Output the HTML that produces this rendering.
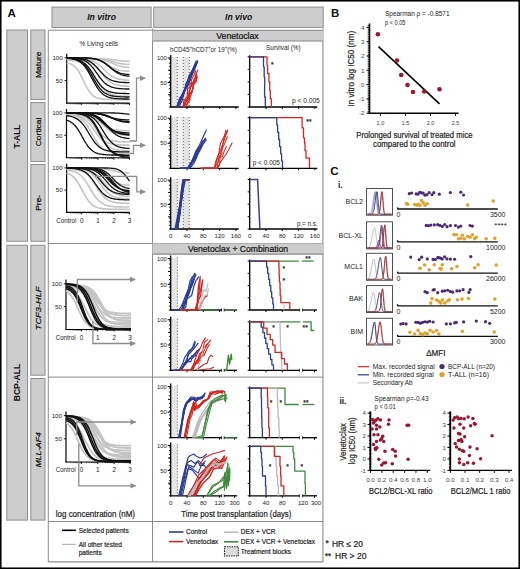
<!DOCTYPE html>
<html><head><meta charset="utf-8"><style>
html,body{margin:0;padding:0;background:#fff;}
svg{display:block;font-family:"Liberation Sans", sans-serif;}
</style></head><body>
<svg width="520" height="569" viewBox="0 0 520 569" font-family='"Liberation Sans", sans-serif'>
<rect x="0.00" y="0.00" width="520.00" height="569.00" fill="#fff" stroke="none" stroke-width="1" />
<rect x="52.00" y="7.10" width="99.10" height="20.40" fill="#cdcdcd" stroke="#8e8e8e" stroke-width="1" />
<rect x="153.70" y="7.10" width="169.50" height="20.30" fill="#cdcdcd" stroke="#8e8e8e" stroke-width="1" />
<text x="87.20" y="19.80" font-size="9" font-weight="bold" font-style="italic" fill="#111" textLength="28.80" lengthAdjust="spacingAndGlyphs" >In vitro</text>
<text x="225.00" y="20.20" font-size="9" font-weight="bold" font-style="italic" fill="#111" textLength="27.30" lengthAdjust="spacingAndGlyphs" >In vivo</text>
<text x="7.60" y="17.20" font-size="11.5" font-weight="bold" fill="#111" >A</text>
<text x="331.00" y="17.20" font-size="11.5" font-weight="bold" fill="#111" >B</text>
<text x="330.20" y="175.40" font-size="11.5" font-weight="bold" fill="#111" >C</text>
<rect x="6.80" y="30.00" width="20.70" height="211.30" fill="#cdcdcd" stroke="#8e8e8e" stroke-width="1" />
<rect x="6.80" y="245.30" width="20.70" height="274.80" fill="#cdcdcd" stroke="#8e8e8e" stroke-width="1" />
<rect x="30.80" y="30.00" width="14.20" height="69.40" fill="#cdcdcd" stroke="#8e8e8e" stroke-width="1" />
<rect x="30.80" y="102.60" width="14.20" height="58.90" fill="#cdcdcd" stroke="#8e8e8e" stroke-width="1" />
<rect x="30.80" y="164.50" width="14.20" height="76.80" fill="#cdcdcd" stroke="#8e8e8e" stroke-width="1" />
<rect x="30.80" y="245.30" width="14.20" height="129.90" fill="#cdcdcd" stroke="#8e8e8e" stroke-width="1" />
<rect x="30.80" y="378.50" width="14.20" height="141.60" fill="#cdcdcd" stroke="#8e8e8e" stroke-width="1" />
<text x="20.14" y="136.50" font-size="9" text-anchor="middle" font-weight="bold" fill="#111" textLength="24.00" lengthAdjust="spacingAndGlyphs" transform="rotate(-90 20.14 136.50)" >T-ALL</text>
<text x="20.14" y="382.50" font-size="9" text-anchor="middle" font-weight="bold" fill="#111" textLength="37.50" lengthAdjust="spacingAndGlyphs" transform="rotate(-90 20.14 382.50)" >BCP-ALL</text>
<text x="41.08" y="64.75" font-size="8" text-anchor="middle" fill="#111" textLength="26.50" lengthAdjust="spacingAndGlyphs" stroke="#111" stroke-width="0.22" transform="rotate(-90 41.08 64.75)" >Mature</text>
<text x="41.08" y="131.90" font-size="8" text-anchor="middle" fill="#111" textLength="28.70" lengthAdjust="spacingAndGlyphs" stroke="#111" stroke-width="0.22" transform="rotate(-90 41.08 131.90)" >Cortical</text>
<text x="41.08" y="202.80" font-size="8" text-anchor="middle" fill="#111" textLength="15.80" lengthAdjust="spacingAndGlyphs" stroke="#111" stroke-width="0.22" transform="rotate(-90 41.08 202.80)" >Pre-</text>
<text x="41.08" y="308.40" font-size="8" text-anchor="middle" font-style="italic" fill="#111" textLength="43.70" lengthAdjust="spacingAndGlyphs" stroke="#111" stroke-width="0.22" transform="rotate(-90 41.08 308.40)" >TCF3-HLF</text>
<text x="41.08" y="449.80" font-size="8" text-anchor="middle" font-style="italic" fill="#111" textLength="35.00" lengthAdjust="spacingAndGlyphs" stroke="#111" stroke-width="0.22" transform="rotate(-90 41.08 449.80)" >MLL-AF4</text>
<line x1="48.30" y1="30.00" x2="48.30" y2="562.00" stroke="#8c8c8c" stroke-width="1" />
<line x1="152.50" y1="28.50" x2="152.50" y2="562.00" stroke="#8c8c8c" stroke-width="1" />
<line x1="322.90" y1="28.50" x2="322.90" y2="562.00" stroke="#8c8c8c" stroke-width="1.1" />
<line x1="48.30" y1="30.20" x2="152.50" y2="30.20" stroke="#8c8c8c" stroke-width="1" />
<line x1="48.30" y1="243.50" x2="323.30" y2="243.50" stroke="#8c8c8c" stroke-width="1" />
<line x1="48.30" y1="377.10" x2="323.30" y2="377.10" stroke="#8c8c8c" stroke-width="1" />
<line x1="48.30" y1="521.50" x2="323.30" y2="521.50" stroke="#8c8c8c" stroke-width="1.2" />
<line x1="48.30" y1="561.80" x2="323.30" y2="561.80" stroke="#8c8c8c" stroke-width="1.2" />
<rect x="152.50" y="30.00" width="170.80" height="11.20" fill="#cdcdcd" stroke="none" stroke-width="1" />
<line x1="152.50" y1="30.30" x2="323.30" y2="30.30" stroke="#8c8c8c" stroke-width="1" />
<line x1="152.50" y1="41.00" x2="323.30" y2="41.00" stroke="#8c8c8c" stroke-width="1.2" />
<text x="216.30" y="38.50" font-size="8.6" fill="#111" textLength="42.40" lengthAdjust="spacingAndGlyphs" stroke="#111" stroke-width="0.22" >Venetoclax</text>
<rect x="152.50" y="243.50" width="170.80" height="11.00" fill="#cdcdcd" stroke="none" stroke-width="1" />
<line x1="152.50" y1="254.20" x2="323.30" y2="254.20" stroke="#8c8c8c" stroke-width="1.3" />
<text x="188.00" y="251.70" font-size="8.6" fill="#111" textLength="100.00" lengthAdjust="spacingAndGlyphs" stroke="#111" stroke-width="0.22" >Venetoclax + Combination</text>
<text x="79.50" y="46.30" font-size="6.5" fill="#222" textLength="38.50" lengthAdjust="spacingAndGlyphs" >% Living cells</text>
<line x1="66.75" y1="53.80" x2="66.75" y2="103.70" stroke="#000" stroke-width="1.2" />
<line x1="66.15" y1="103.20" x2="129.50" y2="103.20" stroke="#000" stroke-width="1.2" />
<line x1="64.55" y1="57.75" x2="66.75" y2="57.75" stroke="#000" stroke-width="0.9" />
<text x="62.75" y="59.95" font-size="6.2" text-anchor="end" fill="#222" textLength="10.30" lengthAdjust="spacingAndGlyphs" >100</text>
<line x1="64.55" y1="80.47" x2="66.75" y2="80.47" stroke="#000" stroke-width="0.9" />
<text x="62.75" y="82.67" font-size="6.2" text-anchor="end" fill="#222" textLength="6.90" lengthAdjust="spacingAndGlyphs" >50</text>
<line x1="81.70" y1="103.20" x2="81.70" y2="105.20" stroke="#000" stroke-width="0.9" />
<line x1="97.90" y1="103.20" x2="97.90" y2="105.20" stroke="#000" stroke-width="0.9" />
<line x1="113.90" y1="103.20" x2="113.90" y2="105.20" stroke="#000" stroke-width="0.9" />
<line x1="129.50" y1="103.20" x2="129.50" y2="105.20" stroke="#000" stroke-width="0.9" />
<line x1="86.58" y1="103.20" x2="86.58" y2="104.40" stroke="#000" stroke-width="0.6" />
<line x1="89.43" y1="103.20" x2="89.43" y2="104.40" stroke="#000" stroke-width="0.6" />
<line x1="91.45" y1="103.20" x2="91.45" y2="104.40" stroke="#000" stroke-width="0.6" />
<line x1="93.02" y1="103.20" x2="93.02" y2="104.40" stroke="#000" stroke-width="0.6" />
<line x1="94.31" y1="103.20" x2="94.31" y2="104.40" stroke="#000" stroke-width="0.6" />
<line x1="95.39" y1="103.20" x2="95.39" y2="104.40" stroke="#000" stroke-width="0.6" />
<line x1="96.33" y1="103.20" x2="96.33" y2="104.40" stroke="#000" stroke-width="0.6" />
<line x1="97.16" y1="103.20" x2="97.16" y2="104.40" stroke="#000" stroke-width="0.6" />
<line x1="102.72" y1="103.20" x2="102.72" y2="104.40" stroke="#000" stroke-width="0.6" />
<line x1="105.53" y1="103.20" x2="105.53" y2="104.40" stroke="#000" stroke-width="0.6" />
<line x1="107.53" y1="103.20" x2="107.53" y2="104.40" stroke="#000" stroke-width="0.6" />
<line x1="109.08" y1="103.20" x2="109.08" y2="104.40" stroke="#000" stroke-width="0.6" />
<line x1="110.35" y1="103.20" x2="110.35" y2="104.40" stroke="#000" stroke-width="0.6" />
<line x1="111.42" y1="103.20" x2="111.42" y2="104.40" stroke="#000" stroke-width="0.6" />
<line x1="112.35" y1="103.20" x2="112.35" y2="104.40" stroke="#000" stroke-width="0.6" />
<line x1="113.17" y1="103.20" x2="113.17" y2="104.40" stroke="#000" stroke-width="0.6" />
<line x1="118.60" y1="103.20" x2="118.60" y2="104.40" stroke="#000" stroke-width="0.6" />
<line x1="121.34" y1="103.20" x2="121.34" y2="104.40" stroke="#000" stroke-width="0.6" />
<line x1="123.29" y1="103.20" x2="123.29" y2="104.40" stroke="#000" stroke-width="0.6" />
<line x1="124.80" y1="103.20" x2="124.80" y2="104.40" stroke="#000" stroke-width="0.6" />
<line x1="126.04" y1="103.20" x2="126.04" y2="104.40" stroke="#000" stroke-width="0.6" />
<line x1="127.08" y1="103.20" x2="127.08" y2="104.40" stroke="#000" stroke-width="0.6" />
<line x1="127.99" y1="103.20" x2="127.99" y2="104.40" stroke="#000" stroke-width="0.6" />
<line x1="128.79" y1="103.20" x2="128.79" y2="104.40" stroke="#000" stroke-width="0.6" />
<line x1="70.38" y1="103.20" x2="70.38" y2="104.40" stroke="#000" stroke-width="0.6" />
<line x1="73.23" y1="103.20" x2="73.23" y2="104.40" stroke="#000" stroke-width="0.6" />
<line x1="75.25" y1="103.20" x2="75.25" y2="104.40" stroke="#000" stroke-width="0.6" />
<line x1="76.82" y1="103.20" x2="76.82" y2="104.40" stroke="#000" stroke-width="0.6" />
<line x1="78.11" y1="103.20" x2="78.11" y2="104.40" stroke="#000" stroke-width="0.6" />
<line x1="79.19" y1="103.20" x2="79.19" y2="104.40" stroke="#000" stroke-width="0.6" />
<line x1="80.13" y1="103.20" x2="80.13" y2="104.40" stroke="#000" stroke-width="0.6" />
<line x1="80.96" y1="103.20" x2="80.96" y2="104.40" stroke="#000" stroke-width="0.6" />
<path d="M66.8,62.7 L67.8,63.0 L68.8,63.2 L69.9,63.6 L70.9,64.0 L72.0,64.5 L73.0,65.2 L74.1,66.0 L75.1,66.9 L76.2,68.0 L77.2,69.3 L78.3,70.8 L79.3,72.5 L80.3,74.3 L81.4,76.4 L82.4,78.5 L83.5,80.7 L84.5,82.8 L85.6,85.0 L86.6,87.0 L87.7,88.9 L88.7,90.5 L89.8,92.0 L90.8,93.3 L91.8,94.5 L92.9,95.4 L93.9,96.2 L95.0,96.8 L96.0,97.4 L97.1,97.8 L98.1,98.2 L99.2,98.4 L100.2,98.7 L101.3,98.8 L102.3,99.0 L103.4,99.1 L104.4,99.2 L105.4,99.3 L106.5,99.3 L107.5,99.4 L108.6,99.4 L109.6,99.5 L110.7,99.5 L111.7,99.5 L112.8,99.5 L113.8,99.5 L114.9,99.5 L115.9,99.5 L117.0,99.5 L118.0,99.5 L119.0,99.5 L120.1,99.6 L121.1,99.6 L122.2,99.6 L123.2,99.6 L124.3,99.6 L125.3,99.6 L126.4,99.6 L127.4,99.6 L128.5,99.6 L129.5,99.6" stroke="#c4c4c4" stroke-width="1.6" fill="none" stroke-linejoin="round" />
<path d="M66.8,58.7 L67.8,58.7 L68.8,58.7 L69.9,58.7 L70.9,58.7 L72.0,58.7 L73.0,58.7 L74.1,58.7 L75.1,58.7 L76.2,58.7 L77.2,58.7 L78.3,58.7 L79.3,58.7 L80.3,58.7 L81.4,58.7 L82.4,58.7 L83.5,58.7 L84.5,58.7 L85.6,58.7 L86.6,58.7 L87.7,58.7 L88.7,58.7 L89.8,58.7 L90.8,58.7 L91.8,58.7 L92.9,58.7 L93.9,58.7 L95.0,58.7 L96.0,58.7 L97.1,58.7 L98.1,58.7 L99.2,58.8 L100.2,58.8 L101.3,58.8 L102.3,58.9 L103.4,58.9 L104.4,59.0 L105.4,59.0 L106.5,59.1 L107.5,59.2 L108.6,59.3 L109.6,59.4 L110.7,59.5 L111.7,59.6 L112.8,59.7 L113.8,59.9 L114.9,60.0 L115.9,60.1 L117.0,60.3 L118.0,60.4 L119.0,60.5 L120.1,60.7 L121.1,60.8 L122.2,60.9 L123.2,60.9 L124.3,61.0 L125.3,61.1 L126.4,61.1 L127.4,61.2 L128.5,61.2 L129.5,61.2" stroke="#c4c4c4" stroke-width="1.6" fill="none" stroke-linejoin="round" />
<path d="M66.8,58.2 L67.8,58.2 L68.8,58.2 L69.9,58.2 L70.9,58.2 L72.0,58.2 L73.0,58.2 L74.1,58.2 L75.1,58.2 L76.2,58.2 L77.2,58.2 L78.3,58.2 L79.3,58.2 L80.3,58.2 L81.4,58.2 L82.4,58.2 L83.5,58.2 L84.5,58.2 L85.6,58.2 L86.6,58.2 L87.7,58.3 L88.7,58.3 L89.8,58.3 L90.8,58.3 L91.8,58.3 L92.9,58.3 L93.9,58.4 L95.0,58.4 L96.0,58.5 L97.1,58.5 L98.1,58.6 L99.2,58.7 L100.2,58.8 L101.3,58.9 L102.3,59.0 L103.4,59.2 L104.4,59.3 L105.4,59.6 L106.5,59.8 L107.5,60.1 L108.6,60.3 L109.6,60.6 L110.7,61.0 L111.7,61.3 L112.8,61.6 L113.8,62.0 L114.9,62.3 L115.9,62.6 L117.0,62.8 L118.0,63.1 L119.0,63.3 L120.1,63.5 L121.1,63.7 L122.2,63.8 L123.2,64.0 L124.3,64.1 L125.3,64.2 L126.4,64.2 L127.4,64.3 L128.5,64.3 L129.5,64.4" stroke="#c4c4c4" stroke-width="1.6" fill="none" stroke-linejoin="round" />
<path d="M66.8,59.1 L67.8,59.1 L68.8,59.1 L69.9,59.1 L70.9,59.1 L72.0,59.1 L73.0,59.1 L74.1,59.1 L75.1,59.1 L76.2,59.1 L77.2,59.1 L78.3,59.1 L79.3,59.1 L80.3,59.1 L81.4,59.1 L82.4,59.1 L83.5,59.1 L84.5,59.1 L85.6,59.1 L86.6,59.2 L87.7,59.2 L88.7,59.2 L89.8,59.2 L90.8,59.2 L91.8,59.2 L92.9,59.3 L93.9,59.3 L95.0,59.3 L96.0,59.4 L97.1,59.5 L98.1,59.5 L99.2,59.6 L100.2,59.7 L101.3,59.9 L102.3,60.0 L103.4,60.2 L104.4,60.4 L105.4,60.7 L106.5,61.0 L107.5,61.3 L108.6,61.6 L109.6,62.0 L110.7,62.4 L111.7,62.9 L112.8,63.3 L113.8,63.8 L114.9,64.2 L115.9,64.7 L117.0,65.1 L118.0,65.4 L119.0,65.8 L120.1,66.1 L121.1,66.3 L122.2,66.6 L123.2,66.8 L124.3,66.9 L125.3,67.1 L126.4,67.2 L127.4,67.3 L128.5,67.4 L129.5,67.4" stroke="#c4c4c4" stroke-width="1.6" fill="none" stroke-linejoin="round" />
<path d="M66.8,58.7 L67.8,58.7 L68.8,58.7 L69.9,58.7 L70.9,58.7 L72.0,58.7 L73.0,58.7 L74.1,58.8 L75.1,58.8 L76.2,58.8 L77.2,58.8 L78.3,58.9 L79.3,58.9 L80.3,59.0 L81.4,59.0 L82.4,59.1 L83.5,59.2 L84.5,59.3 L85.6,59.4 L86.6,59.5 L87.7,59.7 L88.7,59.9 L89.8,60.2 L90.8,60.5 L91.8,60.8 L92.9,61.2 L93.9,61.7 L95.0,62.2 L96.0,62.8 L97.1,63.5 L98.1,64.2 L99.2,65.1 L100.2,66.0 L101.3,66.9 L102.3,67.9 L103.4,68.9 L104.4,70.0 L105.4,71.0 L106.5,72.0 L107.5,73.0 L108.6,73.9 L109.6,74.7 L110.7,75.5 L111.7,76.2 L112.8,76.8 L113.8,77.3 L114.9,77.8 L115.9,78.2 L117.0,78.6 L118.0,78.9 L119.0,79.1 L120.1,79.4 L121.1,79.5 L122.2,79.7 L123.2,79.8 L124.3,79.9 L125.3,80.0 L126.4,80.1 L127.4,80.2 L128.5,80.2 L129.5,80.3" stroke="#c4c4c4" stroke-width="1.6" fill="none" stroke-linejoin="round" />
<path d="M66.8,59.2 L67.8,59.2 L68.8,59.2 L69.9,59.2 L70.9,59.2 L72.0,59.3 L73.0,59.3 L74.1,59.3 L75.1,59.4 L76.2,59.4 L77.2,59.5 L78.3,59.5 L79.3,59.6 L80.3,59.7 L81.4,59.9 L82.4,60.0 L83.5,60.2 L84.5,60.4 L85.6,60.7 L86.6,61.0 L87.7,61.3 L88.7,61.8 L89.8,62.2 L90.8,62.8 L91.8,63.5 L92.9,64.2 L93.9,65.0 L95.0,66.0 L96.0,67.0 L97.1,68.1 L98.1,69.3 L99.2,70.5 L100.2,71.8 L101.3,73.1 L102.3,74.4 L103.4,75.6 L104.4,76.8 L105.4,78.0 L106.5,79.0 L107.5,80.0 L108.6,80.9 L109.6,81.7 L110.7,82.4 L111.7,83.0 L112.8,83.5 L113.8,84.0 L114.9,84.4 L115.9,84.7 L117.0,85.0 L118.0,85.2 L119.0,85.4 L120.1,85.6 L121.1,85.7 L122.2,85.8 L123.2,85.9 L124.3,86.0 L125.3,86.1 L126.4,86.1 L127.4,86.2 L128.5,86.2 L129.5,86.2" stroke="#c4c4c4" stroke-width="1.6" fill="none" stroke-linejoin="round" />
<path d="M66.8,60.2 L67.8,60.2 L68.8,60.3 L69.9,60.3 L70.9,60.4 L72.0,60.5 L73.0,60.6 L74.1,60.7 L75.1,60.8 L76.2,61.0 L77.2,61.2 L78.3,61.4 L79.3,61.7 L80.3,62.0 L81.4,62.4 L82.4,62.9 L83.5,63.4 L84.5,64.0 L85.6,64.8 L86.6,65.6 L87.7,66.6 L88.7,67.7 L89.8,68.9 L90.8,70.2 L91.8,71.7 L92.9,73.2 L93.9,74.8 L95.0,76.5 L96.0,78.3 L97.1,80.0 L98.1,81.7 L99.2,83.3 L100.2,84.8 L101.3,86.3 L102.3,87.6 L103.4,88.8 L104.4,89.9 L105.4,90.8 L106.5,91.7 L107.5,92.4 L108.6,93.0 L109.6,93.6 L110.7,94.0 L111.7,94.4 L112.8,94.7 L113.8,95.0 L114.9,95.2 L115.9,95.4 L117.0,95.6 L118.0,95.7 L119.0,95.8 L120.1,95.9 L121.1,96.0 L122.2,96.1 L123.2,96.1 L124.3,96.2 L125.3,96.2 L126.4,96.2 L127.4,96.3 L128.5,96.3 L129.5,96.3" stroke="#c4c4c4" stroke-width="1.6" fill="none" stroke-linejoin="round" />
<path d="M66.8,58.2 L67.8,58.2 L68.8,58.2 L69.9,58.2 L70.9,58.2 L72.0,58.2 L73.0,58.2 L74.1,58.2 L75.1,58.2 L76.2,58.2 L77.2,58.2 L78.3,58.2 L79.3,58.2 L80.3,58.3 L81.4,58.3 L82.4,58.3 L83.5,58.3 L84.5,58.3 L85.6,58.4 L86.6,58.4 L87.7,58.4 L88.7,58.5 L89.8,58.5 L90.8,58.6 L91.8,58.7 L92.9,58.8 L93.9,59.0 L95.0,59.1 L96.0,59.3 L97.1,59.5 L98.1,59.8 L99.2,60.1 L100.2,60.5 L101.3,60.9 L102.3,61.4 L103.4,61.9 L104.4,62.5 L105.4,63.1 L106.5,63.8 L107.5,64.5 L108.6,65.2 L109.6,65.9 L110.7,66.5 L111.7,67.1 L112.8,67.7 L113.8,68.2 L114.9,68.7 L115.9,69.1 L117.0,69.5 L118.0,69.8 L119.0,70.1 L120.1,70.3 L121.1,70.5 L122.2,70.7 L123.2,70.8 L124.3,70.9 L125.3,71.0 L126.4,71.1 L127.4,71.1 L128.5,71.2 L129.5,71.2" stroke="#c4c4c4" stroke-width="1.6" fill="none" stroke-linejoin="round" />
<path d="M66.8,57.8 L67.8,57.8 L68.8,57.8 L69.9,57.8 L70.9,57.8 L72.0,57.8 L73.0,57.8 L74.1,57.8 L75.1,57.8 L76.2,57.8 L77.2,57.8 L78.3,57.8 L79.3,57.8 L80.3,57.8 L81.4,57.9 L82.4,57.9 L83.5,57.9 L84.5,57.9 L85.6,58.0 L86.6,58.0 L87.7,58.1 L88.7,58.2 L89.8,58.3 L90.8,58.4 L91.8,58.5 L92.9,58.6 L93.9,58.8 L95.0,59.0 L96.0,59.2 L97.1,59.5 L98.1,59.9 L99.2,60.2 L100.2,60.7 L101.3,61.1 L102.3,61.7 L103.4,62.3 L104.4,63.0 L105.4,63.7 L106.5,64.4 L107.5,65.2 L108.6,66.1 L109.6,66.9 L110.7,67.7 L111.7,68.5 L112.8,69.2 L113.8,69.9 L114.9,70.6 L115.9,71.2 L117.0,71.7 L118.0,72.2 L119.0,72.6 L120.1,73.0 L121.1,73.3 L122.2,73.6 L123.2,73.8 L124.3,74.0 L125.3,74.2 L126.4,74.3 L127.4,74.4 L128.5,74.5 L129.5,74.6" stroke="#111" stroke-width="1.3" fill="none" stroke-linejoin="round" />
<path d="M66.8,57.8 L67.8,57.8 L68.8,57.8 L69.9,57.8 L70.9,57.8 L72.0,57.8 L73.0,57.8 L74.1,57.8 L75.1,57.8 L76.2,57.8 L77.2,57.8 L78.3,57.8 L79.3,57.8 L80.3,57.8 L81.4,57.9 L82.4,57.9 L83.5,57.9 L84.5,57.9 L85.6,58.0 L86.6,58.0 L87.7,58.1 L88.7,58.1 L89.8,58.2 L90.8,58.3 L91.8,58.4 L92.9,58.6 L93.9,58.7 L95.0,58.9 L96.0,59.1 L97.1,59.4 L98.1,59.7 L99.2,60.1 L100.2,60.5 L101.3,61.0 L102.3,61.5 L103.4,62.1 L104.4,62.8 L105.4,63.6 L106.5,64.3 L107.5,65.2 L108.6,66.1 L109.6,67.0 L110.7,67.9 L111.7,68.8 L112.8,69.6 L113.8,70.5 L114.9,71.3 L115.9,72.0 L117.0,72.6 L118.0,73.2 L119.0,73.7 L120.1,74.2 L121.1,74.6 L122.2,75.0 L123.2,75.3 L124.3,75.5 L125.3,75.7 L126.4,75.9 L127.4,76.1 L128.5,76.2 L129.5,76.3" stroke="#111" stroke-width="1.3" fill="none" stroke-linejoin="round" />
<path d="M66.8,57.8 L67.8,57.8 L68.8,57.8 L69.9,57.9 L70.9,57.9 L72.0,57.9 L73.0,58.0 L74.1,58.0 L75.1,58.0 L76.2,58.1 L77.2,58.2 L78.3,58.3 L79.3,58.4 L80.3,58.5 L81.4,58.6 L82.4,58.8 L83.5,59.0 L84.5,59.3 L85.6,59.6 L86.6,59.9 L87.7,60.4 L88.7,60.8 L89.8,61.4 L90.8,62.0 L91.8,62.7 L92.9,63.5 L93.9,64.4 L95.0,65.4 L96.0,66.4 L97.1,67.5 L98.1,68.7 L99.2,69.9 L100.2,71.1 L101.3,72.2 L102.3,73.4 L103.4,74.5 L104.4,75.5 L105.4,76.4 L106.5,77.3 L107.5,78.0 L108.6,78.7 L109.6,79.3 L110.7,79.9 L111.7,80.3 L112.8,80.7 L113.8,81.0 L114.9,81.3 L115.9,81.5 L117.0,81.7 L118.0,81.9 L119.0,82.1 L120.1,82.2 L121.1,82.3 L122.2,82.3 L123.2,82.4 L124.3,82.5 L125.3,82.5 L126.4,82.6 L127.4,82.6 L128.5,82.6 L129.5,82.6" stroke="#111" stroke-width="1.3" fill="none" stroke-linejoin="round" />
<path d="M66.8,57.9 L67.8,57.9 L68.8,57.9 L69.9,58.0 L70.9,58.0 L72.0,58.1 L73.0,58.1 L74.1,58.2 L75.1,58.3 L76.2,58.4 L77.2,58.6 L78.3,58.8 L79.3,59.0 L80.3,59.2 L81.4,59.5 L82.4,59.8 L83.5,60.2 L84.5,60.7 L85.6,61.2 L86.6,61.9 L87.7,62.6 L88.7,63.4 L89.8,64.4 L90.8,65.4 L91.8,66.6 L92.9,67.8 L93.9,69.2 L95.0,70.6 L96.0,72.1 L97.1,73.5 L98.1,75.0 L99.2,76.5 L100.2,77.9 L101.3,79.2 L102.3,80.5 L103.4,81.6 L104.4,82.6 L105.4,83.6 L106.5,84.4 L107.5,85.1 L108.6,85.7 L109.6,86.2 L110.7,86.7 L111.7,87.1 L112.8,87.4 L113.8,87.7 L114.9,87.9 L115.9,88.1 L117.0,88.3 L118.0,88.4 L119.0,88.6 L120.1,88.6 L121.1,88.7 L122.2,88.8 L123.2,88.8 L124.3,88.9 L125.3,88.9 L126.4,89.0 L127.4,89.0 L128.5,89.0 L129.5,89.0" stroke="#111" stroke-width="1.3" fill="none" stroke-linejoin="round" />
<path d="M66.8,58.0 L67.8,58.1 L68.8,58.1 L69.9,58.2 L70.9,58.3 L72.0,58.4 L73.0,58.5 L74.1,58.7 L75.1,58.9 L76.2,59.1 L77.2,59.4 L78.3,59.7 L79.3,60.1 L80.3,60.5 L81.4,61.0 L82.4,61.7 L83.5,62.4 L84.5,63.2 L85.6,64.1 L86.6,65.2 L87.7,66.4 L88.7,67.7 L89.8,69.1 L90.8,70.6 L91.8,72.2 L92.9,73.9 L93.9,75.6 L95.0,77.3 L96.0,79.0 L97.1,80.6 L98.1,82.1 L99.2,83.6 L100.2,84.9 L101.3,86.1 L102.3,87.2 L103.4,88.1 L104.4,88.9 L105.4,89.7 L106.5,90.3 L107.5,90.8 L108.6,91.3 L109.6,91.7 L110.7,92.0 L111.7,92.3 L112.8,92.5 L113.8,92.7 L114.9,92.9 L115.9,93.0 L117.0,93.1 L118.0,93.2 L119.0,93.3 L120.1,93.3 L121.1,93.4 L122.2,93.4 L123.2,93.5 L124.3,93.5 L125.3,93.5 L126.4,93.6 L127.4,93.6 L128.5,93.6 L129.5,93.6" stroke="#111" stroke-width="1.3" fill="none" stroke-linejoin="round" />
<path d="M66.8,58.1 L67.8,58.1 L68.8,58.2 L69.9,58.3 L70.9,58.4 L72.0,58.6 L73.0,58.8 L74.1,59.0 L75.1,59.2 L76.2,59.5 L77.2,59.9 L78.3,60.3 L79.3,60.8 L80.3,61.3 L81.4,62.0 L82.4,62.8 L83.5,63.7 L84.5,64.7 L85.6,65.8 L86.6,67.1 L87.7,68.6 L88.7,70.1 L89.8,71.8 L90.8,73.5 L91.8,75.4 L92.9,77.2 L93.9,79.1 L95.0,80.9 L96.0,82.7 L97.1,84.4 L98.1,86.0 L99.2,87.4 L100.2,88.7 L101.3,89.9 L102.3,91.0 L103.4,91.9 L104.4,92.7 L105.4,93.4 L106.5,93.9 L107.5,94.5 L108.6,94.9 L109.6,95.2 L110.7,95.5 L111.7,95.8 L112.8,96.0 L113.8,96.2 L114.9,96.3 L115.9,96.5 L117.0,96.6 L118.0,96.7 L119.0,96.7 L120.1,96.8 L121.1,96.8 L122.2,96.9 L123.2,96.9 L124.3,96.9 L125.3,97.0 L126.4,97.0 L127.4,97.0 L128.5,97.0 L129.5,97.0" stroke="#111" stroke-width="1.3" fill="none" stroke-linejoin="round" />
<path d="M66.8,58.2 L67.8,58.3 L68.8,58.4 L69.9,58.5 L70.9,58.6 L72.0,58.8 L73.0,59.0 L74.1,59.3 L75.1,59.6 L76.2,59.9 L77.2,60.4 L78.3,60.9 L79.3,61.5 L80.3,62.2 L81.4,63.0 L82.4,63.9 L83.5,65.0 L84.5,66.2 L85.6,67.6 L86.6,69.1 L87.7,70.7 L88.7,72.4 L89.8,74.3 L90.8,76.2 L91.8,78.1 L92.9,80.1 L93.9,82.0 L95.0,83.9 L96.0,85.7 L97.1,87.4 L98.1,88.9 L99.2,90.3 L100.2,91.5 L101.3,92.6 L102.3,93.6 L103.4,94.5 L104.4,95.2 L105.4,95.8 L106.5,96.3 L107.5,96.8 L108.6,97.2 L109.6,97.5 L110.7,97.8 L111.7,98.0 L112.8,98.2 L113.8,98.3 L114.9,98.5 L115.9,98.6 L117.0,98.7 L118.0,98.7 L119.0,98.8 L120.1,98.9 L121.1,98.9 L122.2,98.9 L123.2,99.0 L124.3,99.0 L125.3,99.0 L126.4,99.0 L127.4,99.0 L128.5,99.1 L129.5,99.1" stroke="#111" stroke-width="1.3" fill="none" stroke-linejoin="round" />
<line x1="66.50" y1="109.00" x2="66.50" y2="158.25" stroke="#000" stroke-width="1.2" />
<line x1="65.90" y1="157.75" x2="129.50" y2="157.75" stroke="#000" stroke-width="1.2" />
<line x1="64.30" y1="112.90" x2="66.50" y2="112.90" stroke="#000" stroke-width="0.9" />
<text x="62.50" y="115.10" font-size="6.2" text-anchor="end" fill="#222" textLength="10.30" lengthAdjust="spacingAndGlyphs" >100</text>
<line x1="64.30" y1="135.32" x2="66.50" y2="135.32" stroke="#000" stroke-width="0.9" />
<text x="62.50" y="137.52" font-size="6.2" text-anchor="end" fill="#222" textLength="6.90" lengthAdjust="spacingAndGlyphs" >50</text>
<line x1="81.70" y1="157.75" x2="81.70" y2="159.75" stroke="#000" stroke-width="0.9" />
<line x1="97.90" y1="157.75" x2="97.90" y2="159.75" stroke="#000" stroke-width="0.9" />
<line x1="113.90" y1="157.75" x2="113.90" y2="159.75" stroke="#000" stroke-width="0.9" />
<line x1="129.50" y1="157.75" x2="129.50" y2="159.75" stroke="#000" stroke-width="0.9" />
<line x1="86.58" y1="157.75" x2="86.58" y2="158.95" stroke="#000" stroke-width="0.6" />
<line x1="89.43" y1="157.75" x2="89.43" y2="158.95" stroke="#000" stroke-width="0.6" />
<line x1="91.45" y1="157.75" x2="91.45" y2="158.95" stroke="#000" stroke-width="0.6" />
<line x1="93.02" y1="157.75" x2="93.02" y2="158.95" stroke="#000" stroke-width="0.6" />
<line x1="94.31" y1="157.75" x2="94.31" y2="158.95" stroke="#000" stroke-width="0.6" />
<line x1="95.39" y1="157.75" x2="95.39" y2="158.95" stroke="#000" stroke-width="0.6" />
<line x1="96.33" y1="157.75" x2="96.33" y2="158.95" stroke="#000" stroke-width="0.6" />
<line x1="97.16" y1="157.75" x2="97.16" y2="158.95" stroke="#000" stroke-width="0.6" />
<line x1="102.72" y1="157.75" x2="102.72" y2="158.95" stroke="#000" stroke-width="0.6" />
<line x1="105.53" y1="157.75" x2="105.53" y2="158.95" stroke="#000" stroke-width="0.6" />
<line x1="107.53" y1="157.75" x2="107.53" y2="158.95" stroke="#000" stroke-width="0.6" />
<line x1="109.08" y1="157.75" x2="109.08" y2="158.95" stroke="#000" stroke-width="0.6" />
<line x1="110.35" y1="157.75" x2="110.35" y2="158.95" stroke="#000" stroke-width="0.6" />
<line x1="111.42" y1="157.75" x2="111.42" y2="158.95" stroke="#000" stroke-width="0.6" />
<line x1="112.35" y1="157.75" x2="112.35" y2="158.95" stroke="#000" stroke-width="0.6" />
<line x1="113.17" y1="157.75" x2="113.17" y2="158.95" stroke="#000" stroke-width="0.6" />
<line x1="118.60" y1="157.75" x2="118.60" y2="158.95" stroke="#000" stroke-width="0.6" />
<line x1="121.34" y1="157.75" x2="121.34" y2="158.95" stroke="#000" stroke-width="0.6" />
<line x1="123.29" y1="157.75" x2="123.29" y2="158.95" stroke="#000" stroke-width="0.6" />
<line x1="124.80" y1="157.75" x2="124.80" y2="158.95" stroke="#000" stroke-width="0.6" />
<line x1="126.04" y1="157.75" x2="126.04" y2="158.95" stroke="#000" stroke-width="0.6" />
<line x1="127.08" y1="157.75" x2="127.08" y2="158.95" stroke="#000" stroke-width="0.6" />
<line x1="127.99" y1="157.75" x2="127.99" y2="158.95" stroke="#000" stroke-width="0.6" />
<line x1="128.79" y1="157.75" x2="128.79" y2="158.95" stroke="#000" stroke-width="0.6" />
<line x1="70.38" y1="157.75" x2="70.38" y2="158.95" stroke="#000" stroke-width="0.6" />
<line x1="73.23" y1="157.75" x2="73.23" y2="158.95" stroke="#000" stroke-width="0.6" />
<line x1="75.25" y1="157.75" x2="75.25" y2="158.95" stroke="#000" stroke-width="0.6" />
<line x1="76.82" y1="157.75" x2="76.82" y2="158.95" stroke="#000" stroke-width="0.6" />
<line x1="78.11" y1="157.75" x2="78.11" y2="158.95" stroke="#000" stroke-width="0.6" />
<line x1="79.19" y1="157.75" x2="79.19" y2="158.95" stroke="#000" stroke-width="0.6" />
<line x1="80.13" y1="157.75" x2="80.13" y2="158.95" stroke="#000" stroke-width="0.6" />
<line x1="80.96" y1="157.75" x2="80.96" y2="158.95" stroke="#000" stroke-width="0.6" />
<path d="M66.5,114.6 L67.5,114.7 L68.6,114.8 L69.7,114.9 L70.7,115.0 L71.8,115.2 L72.8,115.4 L73.8,115.6 L74.9,115.9 L76.0,116.2 L77.0,116.6 L78.0,117.1 L79.1,117.7 L80.2,118.3 L81.2,119.0 L82.2,119.9 L83.3,120.9 L84.3,122.0 L85.4,123.3 L86.5,124.7 L87.5,126.2 L88.5,127.8 L89.6,129.6 L90.7,131.4 L91.7,133.2 L92.8,135.1 L93.8,136.9 L94.8,138.7 L95.9,140.4 L97.0,142.0 L98.0,143.5 L99.0,144.8 L100.1,146.0 L101.2,147.1 L102.2,148.0 L103.2,148.8 L104.3,149.5 L105.3,150.1 L106.4,150.6 L107.5,151.0 L108.5,151.4 L109.5,151.7 L110.6,152.0 L111.7,152.2 L112.7,152.4 L113.8,152.5 L114.8,152.7 L115.8,152.8 L116.9,152.8 L118.0,152.9 L119.0,153.0 L120.0,153.0 L121.1,153.1 L122.2,153.1 L123.2,153.1 L124.2,153.2 L125.3,153.2 L126.3,153.2 L127.4,153.2 L128.4,153.2 L129.5,153.2" stroke="#c4c4c4" stroke-width="1.6" fill="none" stroke-linejoin="round" />
<path d="M66.5,113.9 L67.5,114.0 L68.6,114.0 L69.7,114.0 L70.7,114.1 L71.8,114.1 L72.8,114.2 L73.8,114.3 L74.9,114.4 L76.0,114.5 L77.0,114.7 L78.0,114.8 L79.1,115.0 L80.2,115.3 L81.2,115.6 L82.2,115.9 L83.3,116.4 L84.3,116.8 L85.4,117.4 L86.5,118.0 L87.5,118.8 L88.5,119.6 L89.6,120.5 L90.7,121.5 L91.7,122.7 L92.8,123.9 L93.8,125.1 L94.8,126.5 L95.9,127.8 L97.0,129.1 L98.0,130.5 L99.0,131.7 L100.1,133.0 L101.2,134.1 L102.2,135.1 L103.2,136.1 L104.3,136.9 L105.3,137.7 L106.4,138.3 L107.5,138.9 L108.5,139.4 L109.5,139.8 L110.6,140.2 L111.7,140.5 L112.7,140.8 L113.8,141.0 L114.8,141.2 L115.8,141.3 L116.9,141.4 L118.0,141.5 L119.0,141.6 L120.0,141.7 L121.1,141.8 L122.2,141.8 L123.2,141.9 L124.2,141.9 L125.3,141.9 L126.3,141.9 L127.4,142.0 L128.4,142.0 L129.5,142.0" stroke="#c4c4c4" stroke-width="1.6" fill="none" stroke-linejoin="round" />
<path d="M66.5,114.9 L67.5,114.9 L68.6,115.0 L69.7,115.1 L70.7,115.1 L71.8,115.2 L72.8,115.3 L73.8,115.5 L74.9,115.6 L76.0,115.8 L77.0,116.0 L78.0,116.3 L79.1,116.6 L80.2,117.0 L81.2,117.4 L82.2,117.9 L83.3,118.5 L84.3,119.2 L85.4,120.0 L86.5,120.9 L87.5,121.9 L88.5,123.0 L89.6,124.1 L90.7,125.4 L91.7,126.8 L92.8,128.2 L93.8,129.7 L94.8,131.1 L95.9,132.6 L97.0,133.9 L98.0,135.3 L99.0,136.5 L100.1,137.6 L101.2,138.7 L102.2,139.6 L103.2,140.4 L104.3,141.1 L105.3,141.8 L106.4,142.3 L107.5,142.8 L108.5,143.2 L109.5,143.5 L110.6,143.8 L111.7,144.0 L112.7,144.2 L113.8,144.4 L114.8,144.5 L115.8,144.6 L116.9,144.7 L118.0,144.8 L119.0,144.9 L120.0,144.9 L121.1,145.0 L122.2,145.0 L123.2,145.0 L124.2,145.1 L125.3,145.1 L126.3,145.1 L127.4,145.1 L128.4,145.1 L129.5,145.1" stroke="#c4c4c4" stroke-width="1.6" fill="none" stroke-linejoin="round" />
<path d="M66.5,113.4 L67.5,113.4 L68.6,113.4 L69.7,113.4 L70.7,113.4 L71.8,113.5 L72.8,113.5 L73.8,113.5 L74.9,113.5 L76.0,113.6 L77.0,113.6 L78.0,113.7 L79.1,113.7 L80.2,113.8 L81.2,113.9 L82.2,114.0 L83.3,114.1 L84.3,114.3 L85.4,114.5 L86.5,114.7 L87.5,115.0 L88.5,115.3 L89.6,115.6 L90.7,116.1 L91.7,116.5 L92.8,117.0 L93.8,117.6 L94.8,118.3 L95.9,119.0 L97.0,119.7 L98.0,120.5 L99.0,121.3 L100.1,122.2 L101.2,123.0 L102.2,123.8 L103.2,124.6 L104.3,125.3 L105.3,126.0 L106.4,126.7 L107.5,127.3 L108.5,127.8 L109.5,128.2 L110.6,128.6 L111.7,129.0 L112.7,129.3 L113.8,129.5 L114.8,129.7 L115.8,129.9 L116.9,130.1 L118.0,130.2 L119.0,130.3 L120.0,130.4 L121.1,130.5 L122.2,130.5 L123.2,130.6 L124.2,130.6 L125.3,130.7 L126.3,130.7 L127.4,130.7 L128.4,130.7 L129.5,130.8" stroke="#c4c4c4" stroke-width="1.6" fill="none" stroke-linejoin="round" />
<path d="M66.5,113.9 L67.5,113.9 L68.6,114.0 L69.7,114.0 L70.7,114.1 L71.8,114.1 L72.8,114.2 L73.8,114.3 L74.9,114.3 L76.0,114.5 L77.0,114.6 L78.0,114.8 L79.1,115.0 L80.2,115.2 L81.2,115.5 L82.2,115.8 L83.3,116.2 L84.3,116.7 L85.4,117.2 L86.5,117.9 L87.5,118.6 L88.5,119.5 L89.6,120.4 L90.7,121.5 L91.7,122.8 L92.8,124.1 L93.8,125.6 L94.8,127.2 L95.9,128.9 L97.0,130.6 L98.0,132.4 L99.0,134.2 L100.1,135.9 L101.2,137.6 L102.2,139.2 L103.2,140.7 L104.3,142.0 L105.3,143.3 L106.4,144.4 L107.5,145.4 L108.5,146.2 L109.5,147.0 L110.6,147.6 L111.7,148.2 L112.7,148.6 L113.8,149.0 L114.8,149.3 L115.8,149.6 L116.9,149.9 L118.0,150.1 L119.0,150.2 L120.0,150.4 L121.1,150.5 L122.2,150.6 L123.2,150.6 L124.2,150.7 L125.3,150.8 L126.3,150.8 L127.4,150.8 L128.4,150.9 L129.5,150.9" stroke="#c4c4c4" stroke-width="1.6" fill="none" stroke-linejoin="round" />
<path d="M66.5,114.3 L67.5,114.3 L68.6,114.3 L69.7,114.3 L70.7,114.3 L71.8,114.3 L72.8,114.3 L73.8,114.4 L74.9,114.4 L76.0,114.4 L77.0,114.4 L78.0,114.5 L79.1,114.5 L80.2,114.6 L81.2,114.6 L82.2,114.7 L83.3,114.8 L84.3,114.9 L85.4,115.1 L86.5,115.2 L87.5,115.4 L88.5,115.7 L89.6,115.9 L90.7,116.3 L91.7,116.6 L92.8,117.1 L93.8,117.6 L94.8,118.1 L95.9,118.8 L97.0,119.5 L98.0,120.3 L99.0,121.2 L100.1,122.1 L101.2,123.0 L102.2,124.0 L103.2,125.0 L104.3,126.0 L105.3,127.0 L106.4,127.9 L107.5,128.8 L108.5,129.7 L109.5,130.4 L110.6,131.1 L111.7,131.7 L112.7,132.2 L113.8,132.7 L114.8,133.1 L115.8,133.5 L116.9,133.8 L118.0,134.0 L119.0,134.2 L120.0,134.4 L121.1,134.6 L122.2,134.7 L123.2,134.8 L124.2,134.9 L125.3,135.0 L126.3,135.0 L127.4,135.1 L128.4,135.1 L129.5,135.2" stroke="#c4c4c4" stroke-width="1.6" fill="none" stroke-linejoin="round" />
<path d="M66.5,112.9 L67.5,112.9 L68.6,112.9 L69.7,112.9 L70.7,112.9 L71.8,112.9 L72.8,112.9 L73.8,112.9 L74.9,112.9 L76.0,112.9 L77.0,112.9 L78.0,112.9 L79.1,112.9 L80.2,112.9 L81.2,112.9 L82.2,112.9 L83.3,112.9 L84.3,112.9 L85.4,112.9 L86.5,112.9 L87.5,112.9 L88.5,112.9 L89.6,112.9 L90.7,112.9 L91.7,112.9 L92.8,112.9 L93.8,112.9 L94.8,112.9 L95.9,112.9 L97.0,112.9 L98.0,112.9 L99.0,112.9 L100.1,112.9 L101.2,112.9 L102.2,112.9 L103.2,112.9 L104.3,112.9 L105.3,112.9 L106.4,112.9 L107.5,112.9 L108.5,112.9 L109.5,112.9 L110.6,112.9 L111.7,113.0 L112.7,113.0 L113.8,113.0 L114.8,113.0 L115.8,113.1 L116.9,113.1 L118.0,113.2 L119.0,113.2 L120.0,113.3 L121.1,113.4 L122.2,113.5 L123.2,113.6 L124.2,113.7 L125.3,113.8 L126.3,113.9 L127.4,114.1 L128.4,114.2 L129.5,114.3" stroke="#111" stroke-width="1.3" fill="none" stroke-linejoin="round" />
<path d="M66.5,112.9 L67.5,112.9 L68.6,112.9 L69.7,112.9 L70.7,112.9 L71.8,112.9 L72.8,112.9 L73.8,112.9 L74.9,112.9 L76.0,112.9 L77.0,112.9 L78.0,112.9 L79.1,112.9 L80.2,112.9 L81.2,113.0 L82.2,113.0 L83.3,113.0 L84.3,113.0 L85.4,113.0 L86.5,113.0 L87.5,113.1 L88.5,113.1 L89.6,113.1 L90.7,113.2 L91.7,113.3 L92.8,113.3 L93.8,113.4 L94.8,113.5 L95.9,113.6 L97.0,113.7 L98.0,113.9 L99.0,114.1 L100.1,114.3 L101.2,114.5 L102.2,114.8 L103.2,115.0 L104.3,115.3 L105.3,115.6 L106.4,116.0 L107.5,116.3 L108.5,116.7 L109.5,117.0 L110.6,117.3 L111.7,117.6 L112.7,117.9 L113.8,118.2 L114.8,118.5 L115.8,118.7 L116.9,118.9 L118.0,119.1 L119.0,119.2 L120.0,119.4 L121.1,119.5 L122.2,119.6 L123.2,119.7 L124.2,119.7 L125.3,119.8 L126.3,119.8 L127.4,119.9 L128.4,119.9 L129.5,119.9" stroke="#111" stroke-width="1.3" fill="none" stroke-linejoin="round" />
<path d="M66.5,112.9 L67.5,112.9 L68.6,112.9 L69.7,112.9 L70.7,112.9 L71.8,112.9 L72.8,112.9 L73.8,112.9 L74.9,112.9 L76.0,112.9 L77.0,112.9 L78.0,112.9 L79.1,112.9 L80.2,112.9 L81.2,112.9 L82.2,113.0 L83.3,113.0 L84.3,113.0 L85.4,113.0 L86.5,113.0 L87.5,113.0 L88.5,113.1 L89.6,113.1 L90.7,113.2 L91.7,113.2 L92.8,113.3 L93.8,113.3 L94.8,113.4 L95.9,113.5 L97.0,113.7 L98.0,113.8 L99.0,114.0 L100.1,114.2 L101.2,114.4 L102.2,114.6 L103.2,114.9 L104.3,115.2 L105.3,115.6 L106.4,116.0 L107.5,116.4 L108.5,116.8 L109.5,117.2 L110.6,117.6 L111.7,118.1 L112.7,118.5 L113.8,118.9 L114.8,119.2 L115.8,119.6 L116.9,119.9 L118.0,120.2 L119.0,120.4 L120.0,120.6 L121.1,120.8 L122.2,121.0 L123.2,121.1 L124.2,121.2 L125.3,121.3 L126.3,121.4 L127.4,121.5 L128.4,121.6 L129.5,121.6" stroke="#111" stroke-width="1.3" fill="none" stroke-linejoin="round" />
<path d="M66.5,112.9 L67.5,112.9 L68.6,112.9 L69.7,112.9 L70.7,112.9 L71.8,112.9 L72.8,112.9 L73.8,112.9 L74.9,112.9 L76.0,112.9 L77.0,112.9 L78.0,112.9 L79.1,112.9 L80.2,112.9 L81.2,112.9 L82.2,112.9 L83.3,112.9 L84.3,112.9 L85.4,112.9 L86.5,113.0 L87.5,113.0 L88.5,113.0 L89.6,113.0 L90.7,113.0 L91.7,113.1 L92.8,113.1 L93.8,113.2 L94.8,113.2 L95.9,113.3 L97.0,113.4 L98.0,113.5 L99.0,113.6 L100.1,113.7 L101.2,113.9 L102.2,114.1 L103.2,114.4 L104.3,114.6 L105.3,115.0 L106.4,115.3 L107.5,115.7 L108.5,116.2 L109.5,116.6 L110.6,117.1 L111.7,117.7 L112.7,118.2 L113.8,118.7 L114.8,119.2 L115.8,119.6 L116.9,120.1 L118.0,120.5 L119.0,120.8 L120.0,121.1 L121.1,121.4 L122.2,121.6 L123.2,121.8 L124.2,122.0 L125.3,122.1 L126.3,122.2 L127.4,122.3 L128.4,122.4 L129.5,122.5" stroke="#111" stroke-width="1.3" fill="none" stroke-linejoin="round" />
<path d="M66.5,112.9 L67.5,112.9 L68.6,112.9 L69.7,112.9 L70.7,113.0 L71.8,113.0 L72.8,113.0 L73.8,113.0 L74.9,113.0 L76.0,113.0 L77.0,113.1 L78.0,113.1 L79.1,113.2 L80.2,113.2 L81.2,113.3 L82.2,113.4 L83.3,113.4 L84.3,113.6 L85.4,113.7 L86.5,113.8 L87.5,114.0 L88.5,114.3 L89.6,114.5 L90.7,114.8 L91.7,115.2 L92.8,115.6 L93.8,116.1 L94.8,116.6 L95.9,117.3 L97.0,117.9 L98.0,118.7 L99.0,119.5 L100.1,120.4 L101.2,121.3 L102.2,122.3 L103.2,123.2 L104.3,124.2 L105.3,125.1 L106.4,126.0 L107.5,126.9 L108.5,127.7 L109.5,128.4 L110.6,129.0 L111.7,129.6 L112.7,130.1 L113.8,130.6 L114.8,131.0 L115.8,131.3 L116.9,131.6 L118.0,131.8 L119.0,132.0 L120.0,132.2 L121.1,132.4 L122.2,132.5 L123.2,132.6 L124.2,132.7 L125.3,132.7 L126.3,132.8 L127.4,132.8 L128.4,132.9 L129.5,132.9" stroke="#111" stroke-width="1.3" fill="none" stroke-linejoin="round" />
<path d="M66.5,112.9 L67.5,112.9 L68.6,112.9 L69.7,112.9 L70.7,112.9 L71.8,113.0 L72.8,113.0 L73.8,113.0 L74.9,113.0 L76.0,113.0 L77.0,113.0 L78.0,113.1 L79.1,113.1 L80.2,113.1 L81.2,113.2 L82.2,113.2 L83.3,113.3 L84.3,113.4 L85.4,113.5 L86.5,113.6 L87.5,113.8 L88.5,113.9 L89.6,114.1 L90.7,114.4 L91.7,114.7 L92.8,115.0 L93.8,115.4 L94.8,115.8 L95.9,116.4 L97.0,116.9 L98.0,117.6 L99.0,118.4 L100.1,119.2 L101.2,120.0 L102.2,121.0 L103.2,122.0 L104.3,123.0 L105.3,124.0 L106.4,125.0 L107.5,126.0 L108.5,127.0 L109.5,127.9 L110.6,128.7 L111.7,129.5 L112.7,130.2 L113.8,130.8 L114.8,131.3 L115.8,131.8 L116.9,132.2 L118.0,132.6 L119.0,132.9 L120.0,133.1 L121.1,133.3 L122.2,133.5 L123.2,133.7 L124.2,133.8 L125.3,133.9 L126.3,134.0 L127.4,134.1 L128.4,134.1 L129.5,134.2" stroke="#111" stroke-width="1.3" fill="none" stroke-linejoin="round" />
<path d="M66.5,112.9 L67.5,112.9 L68.6,112.9 L69.7,112.9 L70.7,112.9 L71.8,112.9 L72.8,113.0 L73.8,113.0 L74.9,113.0 L76.0,113.0 L77.0,113.0 L78.0,113.0 L79.1,113.1 L80.2,113.1 L81.2,113.1 L82.2,113.2 L83.3,113.3 L84.3,113.3 L85.4,113.4 L86.5,113.5 L87.5,113.7 L88.5,113.8 L89.6,114.0 L90.7,114.2 L91.7,114.5 L92.8,114.7 L93.8,115.1 L94.8,115.5 L95.9,116.0 L97.0,116.5 L98.0,117.1 L99.0,117.8 L100.1,118.6 L101.2,119.5 L102.2,120.4 L103.2,121.4 L104.3,122.4 L105.3,123.5 L106.4,124.5 L107.5,125.6 L108.5,126.6 L109.5,127.6 L110.6,128.5 L111.7,129.4 L112.7,130.2 L113.8,130.9 L114.8,131.6 L115.8,132.1 L116.9,132.6 L118.0,133.0 L119.0,133.4 L120.0,133.7 L121.1,134.0 L122.2,134.2 L123.2,134.4 L124.2,134.5 L125.3,134.7 L126.3,134.8 L127.4,134.9 L128.4,135.0 L129.5,135.0" stroke="#111" stroke-width="1.3" fill="none" stroke-linejoin="round" />
<path d="M66.5,112.9 L67.5,112.9 L68.6,112.9 L69.7,112.9 L70.7,112.9 L71.8,112.9 L72.8,113.0 L73.8,113.0 L74.9,113.0 L76.0,113.0 L77.0,113.0 L78.0,113.0 L79.1,113.1 L80.2,113.1 L81.2,113.1 L82.2,113.2 L83.3,113.2 L84.3,113.3 L85.4,113.4 L86.5,113.5 L87.5,113.6 L88.5,113.8 L89.6,114.0 L90.7,114.2 L91.7,114.4 L92.8,114.7 L93.8,115.1 L94.8,115.5 L95.9,116.0 L97.0,116.5 L98.0,117.1 L99.0,117.9 L100.1,118.7 L101.2,119.6 L102.2,120.6 L103.2,121.6 L104.3,122.8 L105.3,124.0 L106.4,125.2 L107.5,126.4 L108.5,127.7 L109.5,128.9 L110.6,130.0 L111.7,131.1 L112.7,132.1 L113.8,133.0 L114.8,133.8 L115.8,134.6 L116.9,135.2 L118.0,135.8 L119.0,136.3 L120.0,136.7 L121.1,137.1 L122.2,137.4 L123.2,137.6 L124.2,137.8 L125.3,138.0 L126.3,138.2 L127.4,138.3 L128.4,138.4 L129.5,138.5" stroke="#111" stroke-width="1.3" fill="none" stroke-linejoin="round" />
<path d="M66.5,112.9 L67.5,113.0 L68.6,113.0 L69.7,113.0 L70.7,113.0 L71.8,113.0 L72.8,113.0 L73.8,113.1 L74.9,113.1 L76.0,113.2 L77.0,113.2 L78.0,113.3 L79.1,113.4 L80.2,113.5 L81.2,113.6 L82.2,113.7 L83.3,113.9 L84.3,114.1 L85.4,114.3 L86.5,114.6 L87.5,114.9 L88.5,115.3 L89.6,115.8 L90.7,116.3 L91.7,117.0 L92.8,117.7 L93.8,118.6 L94.8,119.5 L95.9,120.6 L97.0,121.9 L98.0,123.2 L99.0,124.7 L100.1,126.2 L101.2,127.9 L102.2,129.5 L103.2,131.2 L104.3,133.0 L105.3,134.6 L106.4,136.2 L107.5,137.7 L108.5,139.1 L109.5,140.4 L110.6,141.6 L111.7,142.6 L112.7,143.5 L113.8,144.3 L114.8,145.0 L115.8,145.6 L116.9,146.1 L118.0,146.6 L119.0,146.9 L120.0,147.2 L121.1,147.5 L122.2,147.7 L123.2,147.9 L124.2,148.0 L125.3,148.2 L126.3,148.3 L127.4,148.4 L128.4,148.4 L129.5,148.5" stroke="#111" stroke-width="1.3" fill="none" stroke-linejoin="round" />
<path d="M66.5,120.2 L67.5,120.5 L68.6,120.9 L69.7,121.4 L70.7,122.0 L71.8,122.7 L72.8,123.5 L73.8,124.4 L74.9,125.5 L76.0,126.7 L77.0,128.1 L78.0,129.6 L79.1,131.3 L80.2,133.0 L81.2,134.9 L82.2,136.8 L83.3,138.7 L84.3,140.6 L85.4,142.4 L86.5,144.0 L87.5,145.6 L88.5,147.0 L89.6,148.2 L90.7,149.3 L91.7,150.2 L92.8,151.1 L93.8,151.7 L94.8,152.3 L95.9,152.8 L97.0,153.2 L98.0,153.6 L99.0,153.8 L100.1,154.1 L101.2,154.2 L102.2,154.4 L103.2,154.5 L104.3,154.6 L105.3,154.7 L106.4,154.8 L107.5,154.8 L108.5,154.9 L109.5,154.9 L110.6,154.9 L111.7,155.0 L112.7,155.0 L113.8,155.0 L114.8,155.0 L115.8,155.0 L116.9,155.0 L118.0,155.0 L119.0,155.0 L120.0,155.0 L121.1,155.0 L122.2,155.0 L123.2,155.0 L124.2,155.1 L125.3,155.1 L126.3,155.1 L127.4,155.1 L128.4,155.1 L129.5,155.1" stroke="#111" stroke-width="1.3" fill="none" stroke-linejoin="round" />
<path d="M66.5,115.7 L67.5,115.9 L68.6,116.0 L69.7,116.2 L70.7,116.4 L71.8,116.7 L72.8,117.0 L73.8,117.3 L74.9,117.8 L76.0,118.3 L77.0,118.9 L78.0,119.6 L79.1,120.4 L80.2,121.3 L81.2,122.3 L82.2,123.5 L83.3,124.8 L84.3,126.2 L85.4,127.7 L86.5,129.3 L87.5,131.0 L88.5,132.8 L89.6,134.5 L90.7,136.3 L91.7,138.0 L92.8,139.6 L93.8,141.1 L94.8,142.5 L95.9,143.8 L97.0,144.9 L98.0,145.9 L99.0,146.8 L100.1,147.6 L101.2,148.3 L102.2,148.9 L103.2,149.4 L104.3,149.8 L105.3,150.1 L106.4,150.4 L107.5,150.7 L108.5,150.9 L109.5,151.1 L110.6,151.2 L111.7,151.3 L112.7,151.4 L113.8,151.5 L114.8,151.6 L115.8,151.6 L116.9,151.7 L118.0,151.7 L119.0,151.8 L120.0,151.8 L121.1,151.8 L122.2,151.8 L123.2,151.8 L124.2,151.9 L125.3,151.9 L126.3,151.9 L127.4,151.9 L128.4,151.9 L129.5,151.9" stroke="#111" stroke-width="1.3" fill="none" stroke-linejoin="round" />
<path d="M66.5,113.0 L67.5,113.0 L68.6,113.0 L69.7,113.0 L70.7,113.1 L71.8,113.1 L72.8,113.2 L73.8,113.2 L74.9,113.3 L76.0,113.4 L77.0,113.5 L78.0,113.6 L79.1,113.7 L80.2,113.9 L81.2,114.1 L82.2,114.3 L83.3,114.6 L84.3,115.0 L85.4,115.4 L86.5,115.8 L87.5,116.4 L88.5,117.1 L89.6,117.9 L90.7,118.8 L91.7,119.8 L92.8,121.0 L93.8,122.3 L94.8,123.8 L95.9,125.5 L97.0,127.3 L98.0,129.2 L99.0,131.2 L100.1,133.3 L101.2,135.4 L102.2,137.5 L103.2,139.6 L104.3,141.6 L105.3,143.4 L106.4,145.2 L107.5,146.8 L108.5,148.3 L109.5,149.6 L110.6,150.7 L111.7,151.7 L112.7,152.6 L113.8,153.3 L114.8,154.0 L115.8,154.5 L116.9,155.0 L118.0,155.4 L119.0,155.7 L120.0,156.0 L121.1,156.2 L122.2,156.4 L123.2,156.5 L124.2,156.7 L125.3,156.8 L126.3,156.9 L127.4,156.9 L128.4,157.0 L129.5,157.1" stroke="#111" stroke-width="1.3" fill="none" stroke-linejoin="round" />
<path d="M66.5,113.0 L67.5,113.0 L68.6,113.0 L69.7,113.1 L70.7,113.1 L71.8,113.2 L72.8,113.2 L73.8,113.3 L74.9,113.3 L76.0,113.4 L77.0,113.5 L78.0,113.7 L79.1,113.8 L80.2,114.0 L81.2,114.3 L82.2,114.5 L83.3,114.9 L84.3,115.3 L85.4,115.7 L86.5,116.3 L87.5,116.9 L88.5,117.7 L89.6,118.5 L90.7,119.6 L91.7,120.7 L92.8,122.0 L93.8,123.4 L94.8,125.0 L95.9,126.8 L97.0,128.6 L98.0,130.6 L99.0,132.6 L100.1,134.6 L101.2,136.7 L102.2,138.7 L103.2,140.6 L104.3,142.4 L105.3,144.1 L106.4,145.7 L107.5,147.1 L108.5,148.4 L109.5,149.5 L110.6,150.5 L111.7,151.3 L112.7,152.1 L113.8,152.7 L114.8,153.2 L115.8,153.7 L116.9,154.1 L118.0,154.4 L119.0,154.6 L120.0,154.9 L121.1,155.0 L122.2,155.2 L123.2,155.3 L124.2,155.4 L125.3,155.5 L126.3,155.6 L127.4,155.7 L128.4,155.7 L129.5,155.8" stroke="#111" stroke-width="1.3" fill="none" stroke-linejoin="round" />
<line x1="66.60" y1="163.80" x2="66.60" y2="212.90" stroke="#000" stroke-width="1.2" />
<line x1="66.00" y1="212.40" x2="129.50" y2="212.40" stroke="#000" stroke-width="1.2" />
<line x1="64.40" y1="167.90" x2="66.60" y2="167.90" stroke="#000" stroke-width="0.9" />
<text x="62.60" y="170.10" font-size="6.2" text-anchor="end" fill="#222" textLength="10.30" lengthAdjust="spacingAndGlyphs" >100</text>
<line x1="64.40" y1="190.15" x2="66.60" y2="190.15" stroke="#000" stroke-width="0.9" />
<text x="62.60" y="192.35" font-size="6.2" text-anchor="end" fill="#222" textLength="6.90" lengthAdjust="spacingAndGlyphs" >50</text>
<line x1="81.70" y1="212.40" x2="81.70" y2="214.40" stroke="#000" stroke-width="0.9" />
<line x1="97.90" y1="212.40" x2="97.90" y2="214.40" stroke="#000" stroke-width="0.9" />
<line x1="113.90" y1="212.40" x2="113.90" y2="214.40" stroke="#000" stroke-width="0.9" />
<line x1="129.50" y1="212.40" x2="129.50" y2="214.40" stroke="#000" stroke-width="0.9" />
<line x1="86.58" y1="212.40" x2="86.58" y2="213.60" stroke="#000" stroke-width="0.6" />
<line x1="89.43" y1="212.40" x2="89.43" y2="213.60" stroke="#000" stroke-width="0.6" />
<line x1="91.45" y1="212.40" x2="91.45" y2="213.60" stroke="#000" stroke-width="0.6" />
<line x1="93.02" y1="212.40" x2="93.02" y2="213.60" stroke="#000" stroke-width="0.6" />
<line x1="94.31" y1="212.40" x2="94.31" y2="213.60" stroke="#000" stroke-width="0.6" />
<line x1="95.39" y1="212.40" x2="95.39" y2="213.60" stroke="#000" stroke-width="0.6" />
<line x1="96.33" y1="212.40" x2="96.33" y2="213.60" stroke="#000" stroke-width="0.6" />
<line x1="97.16" y1="212.40" x2="97.16" y2="213.60" stroke="#000" stroke-width="0.6" />
<line x1="102.72" y1="212.40" x2="102.72" y2="213.60" stroke="#000" stroke-width="0.6" />
<line x1="105.53" y1="212.40" x2="105.53" y2="213.60" stroke="#000" stroke-width="0.6" />
<line x1="107.53" y1="212.40" x2="107.53" y2="213.60" stroke="#000" stroke-width="0.6" />
<line x1="109.08" y1="212.40" x2="109.08" y2="213.60" stroke="#000" stroke-width="0.6" />
<line x1="110.35" y1="212.40" x2="110.35" y2="213.60" stroke="#000" stroke-width="0.6" />
<line x1="111.42" y1="212.40" x2="111.42" y2="213.60" stroke="#000" stroke-width="0.6" />
<line x1="112.35" y1="212.40" x2="112.35" y2="213.60" stroke="#000" stroke-width="0.6" />
<line x1="113.17" y1="212.40" x2="113.17" y2="213.60" stroke="#000" stroke-width="0.6" />
<line x1="118.60" y1="212.40" x2="118.60" y2="213.60" stroke="#000" stroke-width="0.6" />
<line x1="121.34" y1="212.40" x2="121.34" y2="213.60" stroke="#000" stroke-width="0.6" />
<line x1="123.29" y1="212.40" x2="123.29" y2="213.60" stroke="#000" stroke-width="0.6" />
<line x1="124.80" y1="212.40" x2="124.80" y2="213.60" stroke="#000" stroke-width="0.6" />
<line x1="126.04" y1="212.40" x2="126.04" y2="213.60" stroke="#000" stroke-width="0.6" />
<line x1="127.08" y1="212.40" x2="127.08" y2="213.60" stroke="#000" stroke-width="0.6" />
<line x1="127.99" y1="212.40" x2="127.99" y2="213.60" stroke="#000" stroke-width="0.6" />
<line x1="128.79" y1="212.40" x2="128.79" y2="213.60" stroke="#000" stroke-width="0.6" />
<line x1="70.38" y1="212.40" x2="70.38" y2="213.60" stroke="#000" stroke-width="0.6" />
<line x1="73.23" y1="212.40" x2="73.23" y2="213.60" stroke="#000" stroke-width="0.6" />
<line x1="75.25" y1="212.40" x2="75.25" y2="213.60" stroke="#000" stroke-width="0.6" />
<line x1="76.82" y1="212.40" x2="76.82" y2="213.60" stroke="#000" stroke-width="0.6" />
<line x1="78.11" y1="212.40" x2="78.11" y2="213.60" stroke="#000" stroke-width="0.6" />
<line x1="79.19" y1="212.40" x2="79.19" y2="213.60" stroke="#000" stroke-width="0.6" />
<line x1="80.13" y1="212.40" x2="80.13" y2="213.60" stroke="#000" stroke-width="0.6" />
<line x1="80.96" y1="212.40" x2="80.96" y2="213.60" stroke="#000" stroke-width="0.6" />
<text x="56.30" y="222.70" font-size="6.3" fill="#222" textLength="20.00" lengthAdjust="spacingAndGlyphs" >Control</text>
<text x="81.70" y="222.70" font-size="6.3" text-anchor="middle" fill="#222" >0</text>
<text x="97.90" y="222.70" font-size="6.3" text-anchor="middle" fill="#222" >1</text>
<text x="113.90" y="222.70" font-size="6.3" text-anchor="middle" fill="#222" >2</text>
<text x="129.50" y="222.70" font-size="6.3" text-anchor="middle" fill="#222" >3</text>
<path d="M66.6,173.0 L67.6,173.4 L68.7,173.8 L69.7,174.3 L70.8,174.9 L71.8,175.6 L72.9,176.5 L73.9,177.4 L75.0,178.6 L76.0,179.9 L77.1,181.3 L78.1,182.9 L79.2,184.7 L80.2,186.5 L81.3,188.4 L82.3,190.4 L83.4,192.4 L84.4,194.3 L85.5,196.2 L86.5,197.9 L87.6,199.5 L88.6,200.9 L89.7,202.2 L90.7,203.4 L91.8,204.3 L92.8,205.2 L93.9,205.9 L94.9,206.5 L96.0,207.0 L97.0,207.4 L98.0,207.7 L99.1,208.0 L100.1,208.2 L101.2,208.4 L102.2,208.6 L103.3,208.7 L104.3,208.8 L105.4,208.9 L106.4,209.0 L107.5,209.0 L108.5,209.1 L109.6,209.1 L110.6,209.2 L111.7,209.2 L112.7,209.2 L113.8,209.2 L114.8,209.2 L115.9,209.2 L116.9,209.2 L118.0,209.3 L119.0,209.3 L120.1,209.3 L121.1,209.3 L122.2,209.3 L123.2,209.3 L124.3,209.3 L125.3,209.3 L126.4,209.3 L127.4,209.3 L128.5,209.3 L129.5,209.3" stroke="#c4c4c4" stroke-width="1.6" fill="none" stroke-linejoin="round" />
<path d="M66.6,170.2 L67.6,170.3 L68.7,170.4 L69.7,170.6 L70.8,170.8 L71.8,171.0 L72.9,171.3 L73.9,171.6 L75.0,172.0 L76.0,172.4 L77.1,172.9 L78.1,173.6 L79.2,174.3 L80.2,175.1 L81.3,176.0 L82.3,177.1 L83.4,178.3 L84.4,179.6 L85.5,181.1 L86.5,182.6 L87.6,184.3 L88.6,186.0 L89.7,187.8 L90.7,189.6 L91.8,191.3 L92.8,193.0 L93.9,194.7 L94.9,196.2 L96.0,197.6 L97.0,198.9 L98.0,200.0 L99.1,201.1 L100.1,202.0 L101.2,202.7 L102.2,203.4 L103.3,204.0 L104.3,204.5 L105.4,204.9 L106.4,205.3 L107.5,205.6 L108.5,205.8 L109.6,206.0 L110.6,206.2 L111.7,206.3 L112.7,206.5 L113.8,206.6 L114.8,206.7 L115.9,206.7 L116.9,206.8 L118.0,206.8 L119.0,206.9 L120.1,206.9 L121.1,206.9 L122.2,207.0 L123.2,207.0 L124.3,207.0 L125.3,207.0 L126.4,207.0 L127.4,207.0 L128.5,207.0 L129.5,207.0" stroke="#c4c4c4" stroke-width="1.6" fill="none" stroke-linejoin="round" />
<path d="M66.6,169.0 L67.6,169.0 L68.7,169.0 L69.7,169.1 L70.8,169.1 L71.8,169.2 L72.9,169.3 L73.9,169.4 L75.0,169.5 L76.0,169.7 L77.1,169.9 L78.1,170.1 L79.2,170.3 L80.2,170.7 L81.3,171.0 L82.3,171.5 L83.4,172.0 L84.4,172.6 L85.5,173.2 L86.5,174.0 L87.6,175.0 L88.6,176.0 L89.7,177.1 L90.7,178.4 L91.8,179.8 L92.8,181.2 L93.9,182.8 L94.9,184.4 L96.0,186.1 L97.0,187.7 L98.0,189.3 L99.1,190.9 L100.1,192.4 L101.2,193.8 L102.2,195.1 L103.3,196.2 L104.3,197.3 L105.4,198.2 L106.4,199.0 L107.5,199.7 L108.5,200.3 L109.6,200.8 L110.6,201.2 L111.7,201.6 L112.7,201.9 L113.8,202.2 L114.8,202.4 L115.9,202.6 L116.9,202.7 L118.0,202.9 L119.0,203.0 L120.1,203.1 L121.1,203.1 L122.2,203.2 L123.2,203.3 L124.3,203.3 L125.3,203.3 L126.4,203.4 L127.4,203.4 L128.5,203.4 L129.5,203.4" stroke="#c4c4c4" stroke-width="1.6" fill="none" stroke-linejoin="round" />
<path d="M66.6,168.4 L67.6,168.4 L68.7,168.4 L69.7,168.5 L70.8,168.5 L71.8,168.5 L72.9,168.6 L73.9,168.6 L75.0,168.7 L76.0,168.7 L77.1,168.8 L78.1,168.9 L79.2,169.0 L80.2,169.2 L81.3,169.3 L82.3,169.5 L83.4,169.8 L84.4,170.1 L85.5,170.4 L86.5,170.8 L87.6,171.2 L88.6,171.8 L89.7,172.4 L90.7,173.1 L91.8,174.0 L92.8,174.9 L93.9,175.9 L94.9,177.1 L96.0,178.3 L97.0,179.6 L98.0,181.0 L99.1,182.4 L100.1,183.9 L101.2,185.4 L102.2,186.8 L103.3,188.2 L104.3,189.5 L105.4,190.7 L106.4,191.8 L107.5,192.8 L108.5,193.7 L109.6,194.5 L110.6,195.2 L111.7,195.8 L112.7,196.3 L113.8,196.7 L114.8,197.1 L115.9,197.4 L116.9,197.7 L118.0,197.9 L119.0,198.1 L120.1,198.3 L121.1,198.4 L122.2,198.5 L123.2,198.6 L124.3,198.7 L125.3,198.7 L126.4,198.8 L127.4,198.8 L128.5,198.9 L129.5,198.9" stroke="#c4c4c4" stroke-width="1.6" fill="none" stroke-linejoin="round" />
<path d="M66.6,168.4 L67.6,168.4 L68.7,168.4 L69.7,168.4 L70.8,168.4 L71.8,168.4 L72.9,168.4 L73.9,168.4 L75.0,168.4 L76.0,168.4 L77.1,168.4 L78.1,168.4 L79.2,168.4 L80.2,168.5 L81.3,168.5 L82.3,168.5 L83.4,168.5 L84.4,168.6 L85.5,168.6 L86.5,168.7 L87.6,168.8 L88.6,168.8 L89.7,168.9 L90.7,169.1 L91.8,169.2 L92.8,169.4 L93.9,169.6 L94.9,169.8 L96.0,170.1 L97.0,170.4 L98.0,170.8 L99.1,171.2 L100.1,171.7 L101.2,172.2 L102.2,172.9 L103.3,173.5 L104.3,174.2 L105.4,175.0 L106.4,175.8 L107.5,176.6 L108.5,177.4 L109.6,178.3 L110.6,179.1 L111.7,179.8 L112.7,180.5 L113.8,181.2 L114.8,181.8 L115.9,182.4 L116.9,182.8 L118.0,183.3 L119.0,183.6 L120.1,184.0 L121.1,184.2 L122.2,184.5 L123.2,184.7 L124.3,184.8 L125.3,185.0 L126.4,185.1 L127.4,185.2 L128.5,185.3 L129.5,185.4" stroke="#c4c4c4" stroke-width="1.6" fill="none" stroke-linejoin="round" />
<path d="M66.6,168.3 L67.6,168.3 L68.7,168.3 L69.7,168.3 L70.8,168.3 L71.8,168.3 L72.9,168.3 L73.9,168.3 L75.0,168.3 L76.0,168.3 L77.1,168.3 L78.1,168.3 L79.2,168.3 L80.2,168.4 L81.3,168.4 L82.3,168.4 L83.4,168.4 L84.4,168.4 L85.5,168.4 L86.5,168.4 L87.6,168.4 L88.6,168.4 L89.7,168.4 L90.7,168.4 L91.8,168.4 L92.8,168.4 L93.9,168.4 L94.9,168.5 L96.0,168.5 L97.0,168.5 L98.0,168.5 L99.1,168.6 L100.1,168.6 L101.2,168.7 L102.2,168.8 L103.3,168.9 L104.3,169.0 L105.4,169.1 L106.4,169.2 L107.5,169.4 L108.5,169.6 L109.6,169.8 L110.6,170.0 L111.7,170.2 L112.7,170.5 L113.8,170.7 L114.8,171.0 L115.9,171.2 L116.9,171.5 L118.0,171.7 L119.0,171.9 L120.1,172.1 L121.1,172.3 L122.2,172.4 L123.2,172.6 L124.3,172.7 L125.3,172.8 L126.4,172.9 L127.4,172.9 L128.5,173.0 L129.5,173.0" stroke="#c4c4c4" stroke-width="1.6" fill="none" stroke-linejoin="round" />
<path d="M66.6,168.8 L67.6,168.8 L68.7,168.8 L69.7,168.8 L70.8,168.9 L71.8,168.9 L72.9,168.9 L73.9,168.9 L75.0,168.9 L76.0,169.0 L77.1,169.0 L78.1,169.0 L79.2,169.1 L80.2,169.2 L81.3,169.2 L82.3,169.3 L83.4,169.4 L84.4,169.6 L85.5,169.7 L86.5,169.9 L87.6,170.1 L88.6,170.4 L89.7,170.7 L90.7,171.1 L91.8,171.5 L92.8,172.0 L93.9,172.6 L94.9,173.3 L96.0,174.1 L97.0,174.9 L98.0,175.9 L99.1,176.9 L100.1,178.1 L101.2,179.3 L102.2,180.6 L103.3,181.9 L104.3,183.2 L105.4,184.6 L106.4,185.9 L107.5,187.1 L108.5,188.3 L109.6,189.4 L110.6,190.4 L111.7,191.3 L112.7,192.1 L113.8,192.8 L114.8,193.4 L115.9,193.9 L116.9,194.4 L118.0,194.8 L119.0,195.1 L120.1,195.4 L121.1,195.6 L122.2,195.8 L123.2,196.0 L124.3,196.1 L125.3,196.3 L126.4,196.4 L127.4,196.4 L128.5,196.5 L129.5,196.6" stroke="#c4c4c4" stroke-width="1.6" fill="none" stroke-linejoin="round" />
<path d="M66.6,167.9 L67.6,167.9 L68.7,167.9 L69.7,167.9 L70.8,167.9 L71.8,167.9 L72.9,167.9 L73.9,167.9 L75.0,167.9 L76.0,167.9 L77.1,167.9 L78.1,167.9 L79.2,167.9 L80.2,167.9 L81.3,167.9 L82.3,167.9 L83.4,167.9 L84.4,167.9 L85.5,167.9 L86.5,167.9 L87.6,167.9 L88.6,167.9 L89.7,167.9 L90.7,167.9 L91.8,167.9 L92.8,167.9 L93.9,167.9 L94.9,167.9 L96.0,167.9 L97.0,167.9 L98.0,167.9 L99.1,167.9 L100.1,167.9 L101.2,167.9 L102.2,167.9 L103.3,167.9 L104.3,168.0 L105.4,168.0 L106.4,168.0 L107.5,168.0 L108.5,168.1 L109.6,168.1 L110.6,168.2 L111.7,168.3 L112.7,168.4 L113.8,168.5 L114.8,168.7 L115.9,168.9 L116.9,169.2 L118.0,169.6 L119.0,170.0 L120.1,170.6 L121.1,171.3 L122.2,172.1 L123.2,173.1 L124.3,174.2 L125.3,175.4 L126.4,176.8 L127.4,178.2 L128.5,179.7 L129.5,181.1" stroke="#111" stroke-width="1.3" fill="none" stroke-linejoin="round" />
<path d="M66.6,167.9 L67.6,167.9 L68.7,167.9 L69.7,167.9 L70.8,167.9 L71.8,167.9 L72.9,167.9 L73.9,167.9 L75.0,168.0 L76.0,168.0 L77.1,168.0 L78.1,168.0 L79.2,168.0 L80.2,168.0 L81.3,168.1 L82.3,168.1 L83.4,168.2 L84.4,168.2 L85.5,168.3 L86.5,168.4 L87.6,168.5 L88.6,168.6 L89.7,168.7 L90.7,168.9 L91.8,169.0 L92.8,169.3 L93.9,169.5 L94.9,169.9 L96.0,170.2 L97.0,170.7 L98.0,171.2 L99.1,171.7 L100.1,172.4 L101.2,173.1 L102.2,173.9 L103.3,174.8 L104.3,175.8 L105.4,176.8 L106.4,177.8 L107.5,178.9 L108.5,180.0 L109.6,181.1 L110.6,182.2 L111.7,183.2 L112.7,184.2 L113.8,185.0 L114.8,185.8 L115.9,186.6 L116.9,187.2 L118.0,187.8 L119.0,188.3 L120.1,188.7 L121.1,189.1 L122.2,189.4 L123.2,189.7 L124.3,189.9 L125.3,190.1 L126.4,190.2 L127.4,190.4 L128.5,190.5 L129.5,190.6" stroke="#111" stroke-width="1.3" fill="none" stroke-linejoin="round" />
<path d="M66.6,167.9 L67.6,167.9 L68.7,167.9 L69.7,167.9 L70.8,167.9 L71.8,167.9 L72.9,167.9 L73.9,167.9 L75.0,167.9 L76.0,168.0 L77.1,168.0 L78.1,168.0 L79.2,168.0 L80.2,168.0 L81.3,168.0 L82.3,168.1 L83.4,168.1 L84.4,168.1 L85.5,168.2 L86.5,168.2 L87.6,168.3 L88.6,168.4 L89.7,168.5 L90.7,168.6 L91.8,168.8 L92.8,168.9 L93.9,169.1 L94.9,169.4 L96.0,169.7 L97.0,170.0 L98.0,170.4 L99.1,170.9 L100.1,171.4 L101.2,172.0 L102.2,172.7 L103.3,173.5 L104.3,174.3 L105.4,175.3 L106.4,176.3 L107.5,177.4 L108.5,178.5 L109.6,179.7 L110.6,180.8 L111.7,182.0 L112.7,183.1 L113.8,184.2 L114.8,185.2 L115.9,186.1 L116.9,187.0 L118.0,187.7 L119.0,188.4 L120.1,189.0 L121.1,189.5 L122.2,190.0 L123.2,190.3 L124.3,190.7 L125.3,190.9 L126.4,191.2 L127.4,191.4 L128.5,191.5 L129.5,191.7" stroke="#111" stroke-width="1.3" fill="none" stroke-linejoin="round" />
<path d="M66.6,167.9 L67.6,167.9 L68.7,167.9 L69.7,167.9 L70.8,167.9 L71.8,167.9 L72.9,167.9 L73.9,167.9 L75.0,167.9 L76.0,167.9 L77.1,167.9 L78.1,168.0 L79.2,168.0 L80.2,168.0 L81.3,168.0 L82.3,168.0 L83.4,168.0 L84.4,168.1 L85.5,168.1 L86.5,168.1 L87.6,168.2 L88.6,168.3 L89.7,168.3 L90.7,168.4 L91.8,168.5 L92.8,168.7 L93.9,168.8 L94.9,169.0 L96.0,169.2 L97.0,169.5 L98.0,169.8 L99.1,170.1 L100.1,170.5 L101.2,171.0 L102.2,171.6 L103.3,172.2 L104.3,172.9 L105.4,173.8 L106.4,174.7 L107.5,175.7 L108.5,176.7 L109.6,177.8 L110.6,179.0 L111.7,180.2 L112.7,181.4 L113.8,182.6 L114.8,183.8 L115.9,184.9 L116.9,185.9 L118.0,186.9 L119.0,187.7 L120.1,188.5 L121.1,189.2 L122.2,189.8 L123.2,190.3 L124.3,190.8 L125.3,191.2 L126.4,191.5 L127.4,191.8 L128.5,192.1 L129.5,192.3" stroke="#111" stroke-width="1.3" fill="none" stroke-linejoin="round" />
<path d="M66.6,167.9 L67.6,167.9 L68.7,167.9 L69.7,167.9 L70.8,167.9 L71.8,168.0 L72.9,168.0 L73.9,168.0 L75.0,168.0 L76.0,168.0 L77.1,168.0 L78.1,168.1 L79.2,168.1 L80.2,168.1 L81.3,168.2 L82.3,168.2 L83.4,168.3 L84.4,168.4 L85.5,168.5 L86.5,168.6 L87.6,168.8 L88.6,168.9 L89.7,169.2 L90.7,169.4 L91.8,169.7 L92.8,170.0 L93.9,170.5 L94.9,170.9 L96.0,171.5 L97.0,172.1 L98.0,172.8 L99.1,173.6 L100.1,174.5 L101.2,175.5 L102.2,176.6 L103.3,177.7 L104.3,178.9 L105.4,180.1 L106.4,181.3 L107.5,182.5 L108.5,183.7 L109.6,184.9 L110.6,185.9 L111.7,186.9 L112.7,187.8 L113.8,188.7 L114.8,189.4 L115.9,190.0 L116.9,190.6 L118.0,191.1 L119.0,191.5 L120.1,191.9 L121.1,192.2 L122.2,192.4 L123.2,192.6 L124.3,192.8 L125.3,193.0 L126.4,193.1 L127.4,193.2 L128.5,193.3 L129.5,193.4" stroke="#111" stroke-width="1.3" fill="none" stroke-linejoin="round" />
<path d="M66.6,168.1 L67.6,168.1 L68.7,168.1 L69.7,168.2 L70.8,168.3 L71.8,168.3 L72.9,168.4 L73.9,168.5 L75.0,168.7 L76.0,168.8 L77.1,169.0 L78.1,169.2 L79.2,169.5 L80.2,169.8 L81.3,170.1 L82.3,170.6 L83.4,171.1 L84.4,171.7 L85.5,172.4 L86.5,173.1 L87.6,174.0 L88.6,175.0 L89.7,176.1 L90.7,177.4 L91.8,178.7 L92.8,180.1 L93.9,181.5 L94.9,183.1 L96.0,184.6 L97.0,186.1 L98.0,187.6 L99.1,189.0 L100.1,190.3 L101.2,191.5 L102.2,192.7 L103.3,193.7 L104.3,194.6 L105.4,195.4 L106.4,196.1 L107.5,196.7 L108.5,197.2 L109.6,197.6 L110.6,198.0 L111.7,198.3 L112.7,198.6 L113.8,198.8 L114.8,199.0 L115.9,199.2 L116.9,199.3 L118.0,199.4 L119.0,199.5 L120.1,199.6 L121.1,199.6 L122.2,199.7 L123.2,199.7 L124.3,199.8 L125.3,199.8 L126.4,199.8 L127.4,199.8 L128.5,199.9 L129.5,199.9" stroke="#111" stroke-width="1.3" fill="none" stroke-linejoin="round" />
<path d="M66.6,168.0 L67.6,168.0 L68.7,168.0 L69.7,168.0 L70.8,168.0 L71.8,168.0 L72.9,168.1 L73.9,168.1 L75.0,168.1 L76.0,168.2 L77.1,168.2 L78.1,168.3 L79.2,168.4 L80.2,168.5 L81.3,168.6 L82.3,168.8 L83.4,168.9 L84.4,169.1 L85.5,169.4 L86.5,169.7 L87.6,170.0 L88.6,170.4 L89.7,170.9 L90.7,171.5 L91.8,172.1 L92.8,172.8 L93.9,173.6 L94.9,174.5 L96.0,175.5 L97.0,176.6 L98.0,177.8 L99.1,179.0 L100.1,180.2 L101.2,181.5 L102.2,182.8 L103.3,184.0 L104.3,185.2 L105.4,186.3 L106.4,187.4 L107.5,188.3 L108.5,189.2 L109.6,190.0 L110.6,190.7 L111.7,191.2 L112.7,191.8 L113.8,192.2 L114.8,192.6 L115.9,192.9 L116.9,193.2 L118.0,193.4 L119.0,193.6 L120.1,193.8 L121.1,193.9 L122.2,194.0 L123.2,194.1 L124.3,194.2 L125.3,194.3 L126.4,194.3 L127.4,194.4 L128.5,194.4 L129.5,194.5" stroke="#111" stroke-width="1.3" fill="none" stroke-linejoin="round" />
<path d="M66.6,167.9 L67.6,167.9 L68.7,167.9 L69.7,167.9 L70.8,167.9 L71.8,167.9 L72.9,167.9 L73.9,167.9 L75.0,167.9 L76.0,167.9 L77.1,167.9 L78.1,167.9 L79.2,167.9 L80.2,167.9 L81.3,167.9 L82.3,167.9 L83.4,168.0 L84.4,168.0 L85.5,168.0 L86.5,168.0 L87.6,168.0 L88.6,168.1 L89.7,168.1 L90.7,168.1 L91.8,168.2 L92.8,168.3 L93.9,168.4 L94.9,168.5 L96.0,168.6 L97.0,168.7 L98.0,168.9 L99.1,169.1 L100.1,169.4 L101.2,169.7 L102.2,170.1 L103.3,170.6 L104.3,171.1 L105.4,171.7 L106.4,172.4 L107.5,173.2 L108.5,174.1 L109.6,175.1 L110.6,176.1 L111.7,177.2 L112.7,178.3 L113.8,179.4 L114.8,180.5 L115.9,181.6 L116.9,182.6 L118.0,183.5 L119.0,184.3 L120.1,185.1 L121.1,185.7 L122.2,186.3 L123.2,186.8 L124.3,187.2 L125.3,187.6 L126.4,187.9 L127.4,188.1 L128.5,188.3 L129.5,188.5" stroke="#111" stroke-width="1.3" fill="none" stroke-linejoin="round" />
<line x1="66.00" y1="279.50" x2="66.00" y2="330.00" stroke="#000" stroke-width="1.2" />
<line x1="65.40" y1="329.50" x2="131.00" y2="329.50" stroke="#000" stroke-width="1.2" />
<line x1="63.80" y1="283.80" x2="66.00" y2="283.80" stroke="#000" stroke-width="0.9" />
<text x="62.00" y="286.00" font-size="6.2" text-anchor="end" fill="#222" textLength="10.30" lengthAdjust="spacingAndGlyphs" >100</text>
<line x1="63.80" y1="306.65" x2="66.00" y2="306.65" stroke="#000" stroke-width="0.9" />
<text x="62.00" y="308.85" font-size="6.2" text-anchor="end" fill="#222" textLength="6.90" lengthAdjust="spacingAndGlyphs" >50</text>
<line x1="81.60" y1="329.50" x2="81.60" y2="331.50" stroke="#000" stroke-width="0.9" />
<line x1="97.70" y1="329.50" x2="97.70" y2="331.50" stroke="#000" stroke-width="0.9" />
<line x1="114.20" y1="329.50" x2="114.20" y2="331.50" stroke="#000" stroke-width="0.9" />
<line x1="130.00" y1="329.50" x2="130.00" y2="331.50" stroke="#000" stroke-width="0.9" />
<line x1="86.45" y1="329.50" x2="86.45" y2="330.70" stroke="#000" stroke-width="0.6" />
<line x1="89.28" y1="329.50" x2="89.28" y2="330.70" stroke="#000" stroke-width="0.6" />
<line x1="91.29" y1="329.50" x2="91.29" y2="330.70" stroke="#000" stroke-width="0.6" />
<line x1="92.85" y1="329.50" x2="92.85" y2="330.70" stroke="#000" stroke-width="0.6" />
<line x1="94.13" y1="329.50" x2="94.13" y2="330.70" stroke="#000" stroke-width="0.6" />
<line x1="95.21" y1="329.50" x2="95.21" y2="330.70" stroke="#000" stroke-width="0.6" />
<line x1="96.14" y1="329.50" x2="96.14" y2="330.70" stroke="#000" stroke-width="0.6" />
<line x1="96.96" y1="329.50" x2="96.96" y2="330.70" stroke="#000" stroke-width="0.6" />
<line x1="102.67" y1="329.50" x2="102.67" y2="330.70" stroke="#000" stroke-width="0.6" />
<line x1="105.57" y1="329.50" x2="105.57" y2="330.70" stroke="#000" stroke-width="0.6" />
<line x1="107.63" y1="329.50" x2="107.63" y2="330.70" stroke="#000" stroke-width="0.6" />
<line x1="109.23" y1="329.50" x2="109.23" y2="330.70" stroke="#000" stroke-width="0.6" />
<line x1="110.54" y1="329.50" x2="110.54" y2="330.70" stroke="#000" stroke-width="0.6" />
<line x1="111.64" y1="329.50" x2="111.64" y2="330.70" stroke="#000" stroke-width="0.6" />
<line x1="112.60" y1="329.50" x2="112.60" y2="330.70" stroke="#000" stroke-width="0.6" />
<line x1="113.45" y1="329.50" x2="113.45" y2="330.70" stroke="#000" stroke-width="0.6" />
<line x1="118.96" y1="329.50" x2="118.96" y2="330.70" stroke="#000" stroke-width="0.6" />
<line x1="121.74" y1="329.50" x2="121.74" y2="330.70" stroke="#000" stroke-width="0.6" />
<line x1="123.71" y1="329.50" x2="123.71" y2="330.70" stroke="#000" stroke-width="0.6" />
<line x1="125.24" y1="329.50" x2="125.24" y2="330.70" stroke="#000" stroke-width="0.6" />
<line x1="126.49" y1="329.50" x2="126.49" y2="330.70" stroke="#000" stroke-width="0.6" />
<line x1="127.55" y1="329.50" x2="127.55" y2="330.70" stroke="#000" stroke-width="0.6" />
<line x1="128.47" y1="329.50" x2="128.47" y2="330.70" stroke="#000" stroke-width="0.6" />
<line x1="129.28" y1="329.50" x2="129.28" y2="330.70" stroke="#000" stroke-width="0.6" />
<line x1="70.35" y1="329.50" x2="70.35" y2="330.70" stroke="#000" stroke-width="0.6" />
<line x1="73.18" y1="329.50" x2="73.18" y2="330.70" stroke="#000" stroke-width="0.6" />
<line x1="75.19" y1="329.50" x2="75.19" y2="330.70" stroke="#000" stroke-width="0.6" />
<line x1="76.75" y1="329.50" x2="76.75" y2="330.70" stroke="#000" stroke-width="0.6" />
<line x1="78.03" y1="329.50" x2="78.03" y2="330.70" stroke="#000" stroke-width="0.6" />
<line x1="79.11" y1="329.50" x2="79.11" y2="330.70" stroke="#000" stroke-width="0.6" />
<line x1="80.04" y1="329.50" x2="80.04" y2="330.70" stroke="#000" stroke-width="0.6" />
<line x1="80.86" y1="329.50" x2="80.86" y2="330.70" stroke="#000" stroke-width="0.6" />
<text x="55.70" y="339.80" font-size="6.3" fill="#222" textLength="20.00" lengthAdjust="spacingAndGlyphs" >Control</text>
<text x="81.60" y="339.80" font-size="6.3" text-anchor="middle" fill="#222" >0</text>
<text x="97.70" y="339.80" font-size="6.3" text-anchor="middle" fill="#222" >1</text>
<text x="114.20" y="339.80" font-size="6.3" text-anchor="middle" fill="#222" >2</text>
<text x="130.00" y="339.80" font-size="6.3" text-anchor="middle" fill="#222" >3</text>
<path d="M66.0,286.2 L67.1,286.2 L68.2,286.2 L69.2,286.2 L70.3,286.2 L71.4,286.3 L72.5,286.3 L73.6,286.4 L74.7,286.5 L75.8,286.6 L76.8,286.7 L77.9,286.8 L79.0,287.0 L80.1,287.2 L81.2,287.4 L82.2,287.7 L83.3,288.1 L84.4,288.5 L85.5,289.1 L86.6,289.7 L87.7,290.4 L88.8,291.3 L89.8,292.3 L90.9,293.4 L92.0,294.6 L93.1,295.9 L94.2,297.3 L95.2,298.8 L96.3,300.3 L97.4,301.7 L98.5,303.2 L99.6,304.5 L100.7,305.8 L101.8,306.9 L102.8,307.9 L103.9,308.8 L105.0,309.6 L106.1,310.3 L107.2,310.9 L108.2,311.3 L109.3,311.7 L110.4,312.1 L111.5,312.3 L112.6,312.5 L113.7,312.7 L114.8,312.9 L115.8,313.0 L116.9,313.1 L118.0,313.2 L119.1,313.2 L120.2,313.3 L121.2,313.3 L122.3,313.4 L123.4,313.4 L124.5,313.4 L125.6,313.4 L126.7,313.4 L127.8,313.5 L128.8,313.5 L129.9,313.5 L131.0,313.5" stroke="#c4c4c4" stroke-width="1.8" fill="none" stroke-linejoin="round" />
<path d="M66.0,285.7 L67.1,285.7 L68.2,285.7 L69.2,285.7 L70.3,285.7 L71.4,285.8 L72.5,285.8 L73.6,285.9 L74.7,285.9 L75.8,286.0 L76.8,286.1 L77.9,286.2 L79.0,286.3 L80.1,286.4 L81.2,286.6 L82.2,286.9 L83.3,287.2 L84.4,287.5 L85.5,287.9 L86.6,288.4 L87.7,289.0 L88.8,289.7 L89.8,290.6 L90.9,291.5 L92.0,292.6 L93.1,293.8 L94.2,295.2 L95.2,296.7 L96.3,298.2 L97.4,299.8 L98.5,301.5 L99.6,303.1 L100.7,304.6 L101.8,306.1 L102.8,307.5 L103.9,308.7 L105.0,309.8 L106.1,310.8 L107.2,311.6 L108.2,312.3 L109.3,313.0 L110.4,313.5 L111.5,313.9 L112.6,314.2 L113.7,314.5 L114.8,314.8 L115.8,315.0 L116.9,315.1 L118.0,315.2 L119.1,315.4 L120.2,315.4 L121.2,315.5 L122.3,315.6 L123.4,315.6 L124.5,315.6 L125.6,315.7 L126.7,315.7 L127.8,315.7 L128.8,315.7 L129.9,315.7 L131.0,315.7" stroke="#c4c4c4" stroke-width="1.8" fill="none" stroke-linejoin="round" />
<path d="M66.0,286.6 L67.1,286.7 L68.2,286.7 L69.2,286.7 L70.3,286.8 L71.4,286.8 L72.5,286.9 L73.6,287.0 L74.7,287.1 L75.8,287.2 L76.8,287.4 L77.9,287.5 L79.0,287.8 L80.1,288.1 L81.2,288.4 L82.2,288.8 L83.3,289.3 L84.4,289.9 L85.5,290.6 L86.6,291.5 L87.7,292.5 L88.8,293.6 L89.8,294.8 L90.9,296.2 L92.0,297.7 L93.1,299.3 L94.2,301.0 L95.2,302.7 L96.3,304.4 L97.4,306.0 L98.5,307.6 L99.6,309.1 L100.7,310.4 L101.8,311.6 L102.8,312.6 L103.9,313.5 L105.0,314.3 L106.1,315.0 L107.2,315.5 L108.2,316.0 L109.3,316.4 L110.4,316.7 L111.5,317.0 L112.6,317.2 L113.7,317.3 L114.8,317.5 L115.8,317.6 L116.9,317.7 L118.0,317.8 L119.1,317.8 L120.2,317.9 L121.2,317.9 L122.3,317.9 L123.4,318.0 L124.5,318.0 L125.6,318.0 L126.7,318.0 L127.8,318.0 L128.8,318.0 L129.9,318.0 L131.0,318.1" stroke="#c4c4c4" stroke-width="1.8" fill="none" stroke-linejoin="round" />
<path d="M66.0,285.2 L67.1,285.2 L68.2,285.2 L69.2,285.3 L70.3,285.3 L71.4,285.3 L72.5,285.3 L73.6,285.4 L74.7,285.4 L75.8,285.5 L76.8,285.6 L77.9,285.7 L79.0,285.8 L80.1,286.0 L81.2,286.1 L82.2,286.4 L83.3,286.6 L84.4,287.0 L85.5,287.4 L86.6,287.9 L87.7,288.5 L88.8,289.2 L89.8,290.0 L90.9,291.0 L92.0,292.1 L93.1,293.4 L94.2,294.9 L95.2,296.5 L96.3,298.2 L97.4,300.0 L98.5,301.9 L99.6,303.8 L100.7,305.7 L101.8,307.5 L102.8,309.2 L103.9,310.8 L105.0,312.2 L106.1,313.5 L107.2,314.6 L108.2,315.6 L109.3,316.4 L110.4,317.1 L111.5,317.7 L112.6,318.2 L113.7,318.6 L114.8,318.9 L115.8,319.2 L116.9,319.4 L118.0,319.6 L119.1,319.7 L120.2,319.9 L121.2,320.0 L122.3,320.0 L123.4,320.1 L124.5,320.1 L125.6,320.2 L126.7,320.2 L127.8,320.2 L128.8,320.3 L129.9,320.3 L131.0,320.3" stroke="#c4c4c4" stroke-width="1.8" fill="none" stroke-linejoin="round" />
<path d="M66.0,287.2 L67.1,287.2 L68.2,287.2 L69.2,287.3 L70.3,287.4 L71.4,287.5 L72.5,287.6 L73.6,287.7 L74.7,287.9 L75.8,288.1 L76.8,288.4 L77.9,288.7 L79.0,289.0 L80.1,289.5 L81.2,290.1 L82.2,290.7 L83.3,291.5 L84.4,292.4 L85.5,293.5 L86.6,294.7 L87.7,296.1 L88.8,297.7 L89.8,299.4 L90.9,301.2 L92.0,303.0 L93.1,305.0 L94.2,306.9 L95.2,308.8 L96.3,310.6 L97.4,312.2 L98.5,313.7 L99.6,315.1 L100.7,316.3 L101.8,317.4 L102.8,318.3 L103.9,319.0 L105.0,319.7 L106.1,320.2 L107.2,320.7 L108.2,321.0 L109.3,321.3 L110.4,321.6 L111.5,321.8 L112.6,321.9 L113.7,322.1 L114.8,322.2 L115.8,322.3 L116.9,322.3 L118.0,322.4 L119.1,322.5 L120.2,322.5 L121.2,322.5 L122.3,322.5 L123.4,322.6 L124.5,322.6 L125.6,322.6 L126.7,322.6 L127.8,322.6 L128.8,322.6 L129.9,322.6 L131.0,322.6" stroke="#c4c4c4" stroke-width="1.8" fill="none" stroke-linejoin="round" />
<path d="M66.0,285.7 L67.1,285.7 L68.2,285.8 L69.2,285.8 L70.3,285.8 L71.4,285.9 L72.5,285.9 L73.6,286.0 L74.7,286.1 L75.8,286.2 L76.8,286.3 L77.9,286.5 L79.0,286.7 L80.1,286.9 L81.2,287.2 L82.2,287.6 L83.3,288.0 L84.4,288.6 L85.5,289.2 L86.6,290.0 L87.7,290.9 L88.8,292.0 L89.8,293.2 L90.9,294.6 L92.0,296.2 L93.1,298.0 L94.2,299.9 L95.2,301.9 L96.3,304.0 L97.4,306.1 L98.5,308.2 L99.6,310.2 L100.7,312.2 L101.8,314.0 L102.8,315.6 L103.9,317.1 L105.0,318.3 L106.1,319.4 L107.2,320.4 L108.2,321.2 L109.3,321.9 L110.4,322.4 L111.5,322.9 L112.6,323.3 L113.7,323.6 L114.8,323.8 L115.8,324.0 L116.9,324.2 L118.0,324.3 L119.1,324.5 L120.2,324.6 L121.2,324.6 L122.3,324.7 L123.4,324.7 L124.5,324.8 L125.6,324.8 L126.7,324.8 L127.8,324.8 L128.8,324.9 L129.9,324.9 L131.0,324.9" stroke="#c4c4c4" stroke-width="1.8" fill="none" stroke-linejoin="round" />
<path d="M66.0,286.4 L67.1,286.5 L68.2,286.6 L69.2,286.7 L70.3,286.9 L71.4,287.1 L72.5,287.3 L73.6,287.6 L74.7,287.9 L75.8,288.3 L76.8,288.8 L77.9,289.4 L79.0,290.1 L80.1,291.0 L81.2,292.0 L82.2,293.2 L83.3,294.6 L84.4,296.1 L85.5,297.8 L86.6,299.7 L87.7,301.8 L88.8,303.9 L89.8,306.1 L90.9,308.3 L92.0,310.4 L93.1,312.5 L94.2,314.4 L95.2,316.2 L96.3,317.8 L97.4,319.2 L98.5,320.5 L99.6,321.5 L100.7,322.5 L101.8,323.2 L102.8,323.9 L103.9,324.4 L105.0,324.8 L106.1,325.2 L107.2,325.5 L108.2,325.7 L109.3,325.9 L110.4,326.1 L111.5,326.2 L112.6,326.3 L113.7,326.4 L114.8,326.5 L115.8,326.5 L116.9,326.6 L118.0,326.6 L119.1,326.6 L120.2,326.7 L121.2,326.7 L122.3,326.7 L123.4,326.7 L124.5,326.7 L125.6,326.7 L126.7,326.7 L127.8,326.7 L128.8,326.7 L129.9,326.7 L131.0,326.7" stroke="#c4c4c4" stroke-width="1.8" fill="none" stroke-linejoin="round" />
<path d="M66.0,288.3 L67.1,288.6 L68.2,288.8 L69.2,289.1 L70.3,289.5 L71.4,290.0 L72.5,290.5 L73.6,291.2 L74.7,292.0 L75.8,293.0 L76.8,294.1 L77.9,295.4 L79.0,296.9 L80.1,298.5 L81.2,300.4 L82.2,302.3 L83.3,304.4 L84.4,306.6 L85.5,308.8 L86.6,311.0 L87.7,313.1 L88.8,315.1 L89.8,316.9 L90.9,318.6 L92.0,320.1 L93.1,321.4 L94.2,322.5 L95.2,323.5 L96.3,324.3 L97.4,325.0 L98.5,325.6 L99.6,326.0 L100.7,326.4 L101.8,326.8 L102.8,327.0 L103.9,327.2 L105.0,327.4 L106.1,327.5 L107.2,327.7 L108.2,327.7 L109.3,327.8 L110.4,327.9 L111.5,327.9 L112.6,328.0 L113.7,328.0 L114.8,328.0 L115.8,328.0 L116.9,328.1 L118.0,328.1 L119.1,328.1 L120.2,328.1 L121.2,328.1 L122.3,328.1 L123.4,328.1 L124.5,328.1 L125.6,328.1 L126.7,328.1 L127.8,328.1 L128.8,328.1 L129.9,328.1 L131.0,328.1" stroke="#c4c4c4" stroke-width="1.8" fill="none" stroke-linejoin="round" />
<path d="M66.0,291.0 L67.1,291.6 L68.2,292.4 L69.2,293.4 L70.3,294.6 L71.4,295.9 L72.5,297.5 L73.6,299.3 L74.7,301.4 L75.8,303.6 L76.8,305.9 L77.9,308.3 L79.0,310.7 L80.1,313.1 L81.2,315.3 L82.2,317.3 L83.3,319.2 L84.4,320.8 L85.5,322.2 L86.6,323.4 L87.7,324.4 L88.8,325.2 L89.8,325.9 L90.9,326.4 L92.0,326.9 L93.1,327.2 L94.2,327.5 L95.2,327.7 L96.3,327.9 L97.4,328.1 L98.5,328.2 L99.6,328.3 L100.7,328.3 L101.8,328.4 L102.8,328.4 L103.9,328.5 L105.0,328.5 L106.1,328.5 L107.2,328.5 L108.2,328.5 L109.3,328.5 L110.4,328.6 L111.5,328.6 L112.6,328.6 L113.7,328.6 L114.8,328.6 L115.8,328.6 L116.9,328.6 L118.0,328.6 L119.1,328.6 L120.2,328.6 L121.2,328.6 L122.3,328.6 L123.4,328.6 L124.5,328.6 L125.6,328.6 L126.7,328.6 L127.8,328.6 L128.8,328.6 L129.9,328.6 L131.0,328.6" stroke="#c4c4c4" stroke-width="1.8" fill="none" stroke-linejoin="round" />
<path d="M66.0,284.7 L67.1,284.8 L68.2,284.8 L69.2,284.8 L70.3,284.8 L71.4,284.8 L72.5,284.8 L73.6,284.9 L74.7,284.9 L75.8,284.9 L76.8,285.0 L77.9,285.1 L79.0,285.2 L80.1,285.3 L81.2,285.4 L82.2,285.6 L83.3,285.8 L84.4,286.0 L85.5,286.3 L86.6,286.7 L87.7,287.1 L88.8,287.6 L89.8,288.3 L90.9,289.0 L92.0,289.9 L93.1,290.9 L94.2,292.1 L95.2,293.5 L96.3,295.0 L97.4,296.7 L98.5,298.5 L99.6,300.4 L100.7,302.4 L101.8,304.4 L102.8,306.3 L103.9,308.2 L105.0,309.9 L106.1,311.6 L107.2,313.0 L108.2,314.3 L109.3,315.5 L110.4,316.4 L111.5,317.3 L112.6,318.0 L113.7,318.6 L114.8,319.1 L115.8,319.5 L116.9,319.8 L118.0,320.1 L119.1,320.3 L120.2,320.5 L121.2,320.6 L122.3,320.8 L123.4,320.9 L124.5,320.9 L125.6,321.0 L126.7,321.1 L127.8,321.1 L128.8,321.1 L129.9,321.2 L131.0,321.2" stroke="#c4c4c4" stroke-width="1.8" fill="none" stroke-linejoin="round" />
<path d="M66.0,285.8 L67.1,285.8 L68.2,285.8 L69.2,285.9 L70.3,286.0 L71.4,286.0 L72.5,286.1 L73.6,286.3 L74.7,286.4 L75.8,286.6 L76.8,286.8 L77.9,287.1 L79.0,287.4 L80.1,287.9 L81.2,288.4 L82.2,289.0 L83.3,289.7 L84.4,290.6 L85.5,291.6 L86.6,292.7 L87.7,294.1 L88.8,295.6 L89.8,297.3 L90.9,299.1 L92.0,301.0 L93.1,303.1 L94.2,305.1 L95.2,307.2 L96.3,309.2 L97.4,311.1 L98.5,312.9 L99.6,314.5 L100.7,316.0 L101.8,317.3 L102.8,318.4 L103.9,319.4 L105.0,320.2 L106.1,320.9 L107.2,321.4 L108.2,321.9 L109.3,322.3 L110.4,322.6 L111.5,322.9 L112.6,323.1 L113.7,323.3 L114.8,323.4 L115.8,323.5 L116.9,323.6 L118.0,323.7 L119.1,323.8 L120.2,323.8 L121.2,323.9 L122.3,323.9 L123.4,323.9 L124.5,323.9 L125.6,323.9 L126.7,324.0 L127.8,324.0 L128.8,324.0 L129.9,324.0 L131.0,324.0" stroke="#c4c4c4" stroke-width="1.8" fill="none" stroke-linejoin="round" />
<path d="M66.0,284.0 L67.1,284.0 L68.2,284.1 L69.2,284.2 L70.3,284.3 L71.4,284.4 L72.5,284.5 L73.6,284.7 L74.7,285.0 L75.8,285.3 L76.8,285.7 L77.9,286.1 L79.0,286.7 L80.1,287.5 L81.2,288.4 L82.2,289.5 L83.3,290.8 L84.4,292.3 L85.5,294.1 L86.6,296.1 L87.7,298.4 L88.8,300.9 L89.8,303.5 L90.9,306.2 L92.0,308.9 L93.1,311.6 L94.2,314.1 L95.2,316.4 L96.3,318.5 L97.4,320.3 L98.5,321.9 L99.6,323.2 L100.7,324.3 L101.8,325.2 L102.8,326.0 L103.9,326.6 L105.0,327.1 L106.1,327.5 L107.2,327.8 L108.2,328.1 L109.3,328.3 L110.4,328.4 L111.5,328.6 L112.6,328.7 L113.7,328.8 L114.8,328.8 L115.8,328.9 L116.9,328.9 L118.0,328.9 L119.1,329.0 L120.2,329.0 L121.2,329.0 L122.3,329.0 L123.4,329.0 L124.5,329.0 L125.6,329.0 L126.7,329.0 L127.8,329.0 L128.8,329.0 L129.9,329.0 L131.0,329.0" stroke="#111" stroke-width="1.5" fill="none" stroke-linejoin="round" />
<path d="M66.0,283.9 L67.1,283.9 L68.2,284.0 L69.2,284.0 L70.3,284.1 L71.4,284.2 L72.5,284.3 L73.6,284.4 L74.7,284.6 L75.8,284.8 L76.8,285.0 L77.9,285.3 L79.0,285.7 L80.1,286.2 L81.2,286.8 L82.2,287.6 L83.3,288.5 L84.4,289.6 L85.5,291.0 L86.6,292.6 L87.7,294.4 L88.8,296.5 L89.8,298.8 L90.9,301.3 L92.0,303.9 L93.1,306.6 L94.2,309.3 L95.2,312.0 L96.3,314.4 L97.4,316.7 L98.5,318.7 L99.6,320.5 L100.7,322.1 L101.8,323.4 L102.8,324.5 L103.9,325.4 L105.0,326.1 L106.1,326.7 L107.2,327.2 L108.2,327.6 L109.3,327.9 L110.4,328.1 L111.5,328.3 L112.6,328.5 L113.7,328.6 L114.8,328.7 L115.8,328.8 L116.9,328.8 L118.0,328.9 L119.1,328.9 L120.2,328.9 L121.2,329.0 L122.3,329.0 L123.4,329.0 L124.5,329.0 L125.6,329.0 L126.7,329.0 L127.8,329.0 L128.8,329.0 L129.9,329.0 L131.0,329.0" stroke="#111" stroke-width="1.5" fill="none" stroke-linejoin="round" />
<path d="M66.0,284.5 L67.1,284.6 L68.2,284.6 L69.2,284.7 L70.3,284.9 L71.4,285.0 L72.5,285.3 L73.6,285.5 L74.7,285.9 L75.8,286.3 L76.8,286.8 L77.9,287.4 L79.0,288.2 L80.1,289.2 L81.2,290.3 L82.2,291.7 L83.3,293.3 L84.4,295.2 L85.5,297.3 L86.6,299.6 L87.7,302.2 L88.8,304.8 L89.8,307.5 L90.9,310.1 L92.0,312.7 L93.1,315.1 L94.2,317.3 L95.2,319.3 L96.3,321.0 L97.4,322.5 L98.5,323.7 L99.6,324.7 L100.7,325.6 L101.8,326.3 L102.8,326.8 L103.9,327.3 L105.0,327.7 L106.1,327.9 L107.2,328.2 L108.2,328.4 L109.3,328.5 L110.4,328.6 L111.5,328.7 L112.6,328.8 L113.7,328.8 L114.8,328.9 L115.8,328.9 L116.9,328.9 L118.0,329.0 L119.1,329.0 L120.2,329.0 L121.2,329.0 L122.3,329.0 L123.4,329.0 L124.5,329.0 L125.6,329.0 L126.7,329.0 L127.8,329.0 L128.8,329.0 L129.9,329.0 L131.0,329.0" stroke="#111" stroke-width="1.5" fill="none" stroke-linejoin="round" />
<path d="M66.0,285.9 L67.1,286.1 L68.2,286.4 L69.2,286.7 L70.3,287.2 L71.4,287.8 L72.5,288.5 L73.6,289.5 L74.7,290.7 L75.8,292.1 L76.8,293.8 L77.9,295.9 L79.0,298.2 L80.1,300.8 L81.2,303.7 L82.2,306.6 L83.3,309.6 L84.4,312.5 L85.5,315.3 L86.6,317.8 L87.7,319.9 L88.8,321.8 L89.8,323.4 L90.9,324.7 L92.0,325.7 L93.1,326.6 L94.2,327.2 L95.2,327.7 L96.3,328.1 L97.4,328.5 L98.5,328.7 L99.6,328.9 L100.7,329.0 L101.8,329.1 L102.8,329.2 L103.9,329.3 L105.0,329.3 L106.1,329.4 L107.2,329.4 L108.2,329.4 L109.3,329.4 L110.4,329.5 L111.5,329.5 L112.6,329.5 L113.7,329.5 L114.8,329.5 L115.8,329.5 L116.9,329.5 L118.0,329.5 L119.1,329.5 L120.2,329.5 L121.2,329.5 L122.3,329.5 L123.4,329.5 L124.5,329.5 L125.6,329.5 L126.7,329.5 L127.8,329.5 L128.8,329.5 L129.9,329.5 L131.0,329.5" stroke="#111" stroke-width="1.5" fill="none" stroke-linejoin="round" />
<path d="M66.0,287.1 L67.1,287.4 L68.2,287.8 L69.2,288.3 L70.3,288.9 L71.4,289.7 L72.5,290.6 L73.6,291.8 L74.7,293.2 L75.8,294.9 L76.8,296.8 L77.9,299.1 L79.0,301.5 L80.1,304.2 L81.2,306.9 L82.2,309.7 L83.3,312.5 L84.4,315.0 L85.5,317.4 L86.6,319.5 L87.7,321.4 L88.8,322.9 L89.8,324.3 L90.9,325.3 L92.0,326.2 L93.1,326.9 L94.2,327.5 L95.2,327.9 L96.3,328.3 L97.4,328.5 L98.5,328.8 L99.6,328.9 L100.7,329.1 L101.8,329.2 L102.8,329.2 L103.9,329.3 L105.0,329.3 L106.1,329.4 L107.2,329.4 L108.2,329.4 L109.3,329.4 L110.4,329.5 L111.5,329.5 L112.6,329.5 L113.7,329.5 L114.8,329.5 L115.8,329.5 L116.9,329.5 L118.0,329.5 L119.1,329.5 L120.2,329.5 L121.2,329.5 L122.3,329.5 L123.4,329.5 L124.5,329.5 L125.6,329.5 L126.7,329.5 L127.8,329.5 L128.8,329.5 L129.9,329.5 L131.0,329.5" stroke="#111" stroke-width="1.5" fill="none" stroke-linejoin="round" />
<path d="M66.0,288.7 L67.1,289.0 L68.2,289.5 L69.2,290.0 L70.3,290.7 L71.4,291.5 L72.5,292.6 L73.6,293.8 L74.7,295.3 L75.8,297.0 L76.8,299.0 L77.9,301.2 L79.0,303.7 L80.1,306.2 L81.2,308.9 L82.2,311.5 L83.3,314.0 L84.4,316.4 L85.5,318.6 L86.6,320.5 L87.7,322.1 L88.8,323.5 L89.8,324.7 L90.9,325.7 L92.0,326.5 L93.1,327.1 L94.2,327.6 L95.2,328.0 L96.3,328.3 L97.4,328.6 L98.5,328.8 L99.6,328.9 L100.7,329.1 L101.8,329.2 L102.8,329.2 L103.9,329.3 L105.0,329.3 L106.1,329.4 L107.2,329.4 L108.2,329.4 L109.3,329.4 L110.4,329.5 L111.5,329.5 L112.6,329.5 L113.7,329.5 L114.8,329.5 L115.8,329.5 L116.9,329.5 L118.0,329.5 L119.1,329.5 L120.2,329.5 L121.2,329.5 L122.3,329.5 L123.4,329.5 L124.5,329.5 L125.6,329.5 L126.7,329.5 L127.8,329.5 L128.8,329.5 L129.9,329.5 L131.0,329.5" stroke="#111" stroke-width="1.5" fill="none" stroke-linejoin="round" />
<line x1="66.00" y1="411.50" x2="66.00" y2="462.50" stroke="#000" stroke-width="1.2" />
<line x1="65.40" y1="462.00" x2="131.00" y2="462.00" stroke="#000" stroke-width="1.2" />
<line x1="63.80" y1="415.60" x2="66.00" y2="415.60" stroke="#000" stroke-width="0.9" />
<text x="62.00" y="417.80" font-size="6.2" text-anchor="end" fill="#222" textLength="10.30" lengthAdjust="spacingAndGlyphs" >100</text>
<line x1="63.80" y1="438.80" x2="66.00" y2="438.80" stroke="#000" stroke-width="0.9" />
<text x="62.00" y="441.00" font-size="6.2" text-anchor="end" fill="#222" textLength="6.90" lengthAdjust="spacingAndGlyphs" >50</text>
<line x1="81.60" y1="462.00" x2="81.60" y2="464.00" stroke="#000" stroke-width="0.9" />
<line x1="97.70" y1="462.00" x2="97.70" y2="464.00" stroke="#000" stroke-width="0.9" />
<line x1="114.20" y1="462.00" x2="114.20" y2="464.00" stroke="#000" stroke-width="0.9" />
<line x1="130.00" y1="462.00" x2="130.00" y2="464.00" stroke="#000" stroke-width="0.9" />
<line x1="86.45" y1="462.00" x2="86.45" y2="463.20" stroke="#000" stroke-width="0.6" />
<line x1="89.28" y1="462.00" x2="89.28" y2="463.20" stroke="#000" stroke-width="0.6" />
<line x1="91.29" y1="462.00" x2="91.29" y2="463.20" stroke="#000" stroke-width="0.6" />
<line x1="92.85" y1="462.00" x2="92.85" y2="463.20" stroke="#000" stroke-width="0.6" />
<line x1="94.13" y1="462.00" x2="94.13" y2="463.20" stroke="#000" stroke-width="0.6" />
<line x1="95.21" y1="462.00" x2="95.21" y2="463.20" stroke="#000" stroke-width="0.6" />
<line x1="96.14" y1="462.00" x2="96.14" y2="463.20" stroke="#000" stroke-width="0.6" />
<line x1="96.96" y1="462.00" x2="96.96" y2="463.20" stroke="#000" stroke-width="0.6" />
<line x1="102.67" y1="462.00" x2="102.67" y2="463.20" stroke="#000" stroke-width="0.6" />
<line x1="105.57" y1="462.00" x2="105.57" y2="463.20" stroke="#000" stroke-width="0.6" />
<line x1="107.63" y1="462.00" x2="107.63" y2="463.20" stroke="#000" stroke-width="0.6" />
<line x1="109.23" y1="462.00" x2="109.23" y2="463.20" stroke="#000" stroke-width="0.6" />
<line x1="110.54" y1="462.00" x2="110.54" y2="463.20" stroke="#000" stroke-width="0.6" />
<line x1="111.64" y1="462.00" x2="111.64" y2="463.20" stroke="#000" stroke-width="0.6" />
<line x1="112.60" y1="462.00" x2="112.60" y2="463.20" stroke="#000" stroke-width="0.6" />
<line x1="113.45" y1="462.00" x2="113.45" y2="463.20" stroke="#000" stroke-width="0.6" />
<line x1="118.96" y1="462.00" x2="118.96" y2="463.20" stroke="#000" stroke-width="0.6" />
<line x1="121.74" y1="462.00" x2="121.74" y2="463.20" stroke="#000" stroke-width="0.6" />
<line x1="123.71" y1="462.00" x2="123.71" y2="463.20" stroke="#000" stroke-width="0.6" />
<line x1="125.24" y1="462.00" x2="125.24" y2="463.20" stroke="#000" stroke-width="0.6" />
<line x1="126.49" y1="462.00" x2="126.49" y2="463.20" stroke="#000" stroke-width="0.6" />
<line x1="127.55" y1="462.00" x2="127.55" y2="463.20" stroke="#000" stroke-width="0.6" />
<line x1="128.47" y1="462.00" x2="128.47" y2="463.20" stroke="#000" stroke-width="0.6" />
<line x1="129.28" y1="462.00" x2="129.28" y2="463.20" stroke="#000" stroke-width="0.6" />
<line x1="70.35" y1="462.00" x2="70.35" y2="463.20" stroke="#000" stroke-width="0.6" />
<line x1="73.18" y1="462.00" x2="73.18" y2="463.20" stroke="#000" stroke-width="0.6" />
<line x1="75.19" y1="462.00" x2="75.19" y2="463.20" stroke="#000" stroke-width="0.6" />
<line x1="76.75" y1="462.00" x2="76.75" y2="463.20" stroke="#000" stroke-width="0.6" />
<line x1="78.03" y1="462.00" x2="78.03" y2="463.20" stroke="#000" stroke-width="0.6" />
<line x1="79.11" y1="462.00" x2="79.11" y2="463.20" stroke="#000" stroke-width="0.6" />
<line x1="80.04" y1="462.00" x2="80.04" y2="463.20" stroke="#000" stroke-width="0.6" />
<line x1="80.86" y1="462.00" x2="80.86" y2="463.20" stroke="#000" stroke-width="0.6" />
<text x="55.70" y="472.30" font-size="6.3" fill="#222" textLength="20.00" lengthAdjust="spacingAndGlyphs" >Control</text>
<text x="81.60" y="472.30" font-size="6.3" text-anchor="middle" fill="#222" >0</text>
<text x="97.70" y="472.30" font-size="6.3" text-anchor="middle" fill="#222" >1</text>
<text x="114.20" y="472.30" font-size="6.3" text-anchor="middle" fill="#222" >2</text>
<text x="130.00" y="472.30" font-size="6.3" text-anchor="middle" fill="#222" >3</text>
<path d="M66.0,418.0 L67.1,418.0 L68.2,418.0 L69.2,418.1 L70.3,418.1 L71.4,418.1 L72.5,418.2 L73.6,418.2 L74.7,418.3 L75.8,418.4 L76.8,418.5 L77.9,418.6 L79.0,418.8 L80.1,419.0 L81.2,419.3 L82.2,419.6 L83.3,420.0 L84.4,420.4 L85.5,421.0 L86.6,421.6 L87.7,422.3 L88.8,423.2 L89.8,424.2 L90.9,425.3 L92.0,426.6 L93.1,427.9 L94.2,429.3 L95.2,430.8 L96.3,432.3 L97.4,433.8 L98.5,435.2 L99.6,436.6 L100.7,437.9 L101.8,439.1 L102.8,440.1 L103.9,441.0 L105.0,441.8 L106.1,442.5 L107.2,443.1 L108.2,443.5 L109.3,444.0 L110.4,444.3 L111.5,444.6 L112.6,444.8 L113.7,445.0 L114.8,445.1 L115.8,445.2 L116.9,445.3 L118.0,445.4 L119.1,445.5 L120.2,445.5 L121.2,445.6 L122.3,445.6 L123.4,445.6 L124.5,445.7 L125.6,445.7 L126.7,445.7 L127.8,445.7 L128.8,445.7 L129.9,445.7 L131.0,445.7" stroke="#c4c4c4" stroke-width="1.8" fill="none" stroke-linejoin="round" />
<path d="M66.0,417.5 L67.1,417.5 L68.2,417.5 L69.2,417.6 L70.3,417.6 L71.4,417.6 L72.5,417.6 L73.6,417.7 L74.7,417.7 L75.8,417.8 L76.8,417.9 L77.9,418.0 L79.0,418.1 L80.1,418.3 L81.2,418.5 L82.2,418.7 L83.3,419.0 L84.4,419.4 L85.5,419.8 L86.6,420.3 L87.7,420.9 L88.8,421.6 L89.8,422.5 L90.9,423.4 L92.0,424.5 L93.1,425.8 L94.2,427.2 L95.2,428.7 L96.3,430.2 L97.4,431.9 L98.5,433.5 L99.6,435.2 L100.7,436.8 L101.8,438.3 L102.8,439.6 L103.9,440.9 L105.0,442.0 L106.1,443.0 L107.2,443.9 L108.2,444.6 L109.3,445.2 L110.4,445.7 L111.5,446.2 L112.6,446.5 L113.7,446.8 L114.8,447.0 L115.8,447.2 L116.9,447.4 L118.0,447.5 L119.1,447.6 L120.2,447.7 L121.2,447.8 L122.3,447.8 L123.4,447.9 L124.5,447.9 L125.6,448.0 L126.7,448.0 L127.8,448.0 L128.8,448.0 L129.9,448.0 L131.0,448.0" stroke="#c4c4c4" stroke-width="1.8" fill="none" stroke-linejoin="round" />
<path d="M66.0,418.5 L67.1,418.5 L68.2,418.5 L69.2,418.6 L70.3,418.6 L71.4,418.7 L72.5,418.7 L73.6,418.8 L74.7,418.9 L75.8,419.1 L76.8,419.2 L77.9,419.4 L79.0,419.6 L80.1,419.9 L81.2,420.3 L82.2,420.7 L83.3,421.2 L84.4,421.8 L85.5,422.5 L86.6,423.4 L87.7,424.4 L88.8,425.5 L89.8,426.8 L90.9,428.2 L92.0,429.7 L93.1,431.4 L94.2,433.1 L95.2,434.8 L96.3,436.5 L97.4,438.2 L98.5,439.8 L99.6,441.3 L100.7,442.6 L101.8,443.8 L102.8,444.9 L103.9,445.8 L105.0,446.6 L106.1,447.3 L107.2,447.8 L108.2,448.3 L109.3,448.7 L110.4,449.0 L111.5,449.3 L112.6,449.5 L113.7,449.7 L114.8,449.8 L115.8,449.9 L116.9,450.0 L118.0,450.1 L119.1,450.1 L120.2,450.2 L121.2,450.2 L122.3,450.3 L123.4,450.3 L124.5,450.3 L125.6,450.3 L126.7,450.3 L127.8,450.4 L128.8,450.4 L129.9,450.4 L131.0,450.4" stroke="#c4c4c4" stroke-width="1.8" fill="none" stroke-linejoin="round" />
<path d="M66.0,417.0 L67.1,417.1 L68.2,417.1 L69.2,417.1 L70.3,417.1 L71.4,417.1 L72.5,417.2 L73.6,417.2 L74.7,417.3 L75.8,417.3 L76.8,417.4 L77.9,417.5 L79.0,417.6 L80.1,417.8 L81.2,418.0 L82.2,418.2 L83.3,418.5 L84.4,418.8 L85.5,419.2 L86.6,419.7 L87.7,420.3 L88.8,421.1 L89.8,421.9 L90.9,422.9 L92.0,424.1 L93.1,425.4 L94.2,426.8 L95.2,428.5 L96.3,430.2 L97.4,432.1 L98.5,434.0 L99.6,435.9 L100.7,437.8 L101.8,439.6 L102.8,441.4 L103.9,443.0 L105.0,444.4 L106.1,445.7 L107.2,446.9 L108.2,447.9 L109.3,448.7 L110.4,449.4 L111.5,450.0 L112.6,450.5 L113.7,450.9 L114.8,451.3 L115.8,451.5 L116.9,451.8 L118.0,451.9 L119.1,452.1 L120.2,452.2 L121.2,452.3 L122.3,452.4 L123.4,452.5 L124.5,452.5 L125.6,452.5 L126.7,452.6 L127.8,452.6 L128.8,452.6 L129.9,452.6 L131.0,452.7" stroke="#c4c4c4" stroke-width="1.8" fill="none" stroke-linejoin="round" />
<path d="M66.0,419.0 L67.1,419.0 L68.2,419.1 L69.2,419.2 L70.3,419.2 L71.4,419.3 L72.5,419.4 L73.6,419.6 L74.7,419.8 L75.8,420.0 L76.8,420.2 L77.9,420.5 L79.0,420.9 L80.1,421.4 L81.2,422.0 L82.2,422.6 L83.3,423.4 L84.4,424.4 L85.5,425.5 L86.6,426.7 L87.7,428.1 L88.8,429.7 L89.8,431.4 L90.9,433.2 L92.0,435.1 L93.1,437.1 L94.2,439.0 L95.2,440.9 L96.3,442.8 L97.4,444.5 L98.5,446.0 L99.6,447.4 L100.7,448.6 L101.8,449.7 L102.8,450.6 L103.9,451.4 L105.0,452.0 L106.1,452.6 L107.2,453.0 L108.2,453.4 L109.3,453.7 L110.4,454.0 L111.5,454.2 L112.6,454.3 L113.7,454.5 L114.8,454.6 L115.8,454.7 L116.9,454.7 L118.0,454.8 L119.1,454.8 L120.2,454.9 L121.2,454.9 L122.3,454.9 L123.4,455.0 L124.5,455.0 L125.6,455.0 L126.7,455.0 L127.8,455.0 L128.8,455.0 L129.9,455.0 L131.0,455.0" stroke="#c4c4c4" stroke-width="1.8" fill="none" stroke-linejoin="round" />
<path d="M66.0,417.5 L67.1,417.6 L68.2,417.6 L69.2,417.6 L70.3,417.6 L71.4,417.7 L72.5,417.8 L73.6,417.8 L74.7,417.9 L75.8,418.0 L76.8,418.2 L77.9,418.3 L79.0,418.5 L80.1,418.8 L81.2,419.1 L82.2,419.4 L83.3,419.9 L84.4,420.4 L85.5,421.1 L86.6,421.9 L87.7,422.8 L88.8,423.9 L89.8,425.1 L90.9,426.6 L92.0,428.2 L93.1,430.0 L94.2,431.9 L95.2,434.0 L96.3,436.1 L97.4,438.2 L98.5,440.4 L99.6,442.5 L100.7,444.4 L101.8,446.2 L102.8,447.9 L103.9,449.4 L105.0,450.7 L106.1,451.8 L107.2,452.7 L108.2,453.6 L109.3,454.2 L110.4,454.8 L111.5,455.3 L112.6,455.7 L113.7,456.0 L114.8,456.2 L115.8,456.5 L116.9,456.6 L118.0,456.8 L119.1,456.9 L120.2,457.0 L121.2,457.1 L122.3,457.1 L123.4,457.2 L124.5,457.2 L125.6,457.2 L126.7,457.3 L127.8,457.3 L128.8,457.3 L129.9,457.3 L131.0,457.3" stroke="#c4c4c4" stroke-width="1.8" fill="none" stroke-linejoin="round" />
<path d="M66.0,418.3 L67.1,418.3 L68.2,418.4 L69.2,418.6 L70.3,418.7 L71.4,418.9 L72.5,419.1 L73.6,419.4 L74.7,419.8 L75.8,420.2 L76.8,420.7 L77.9,421.3 L79.0,422.0 L80.1,422.9 L81.2,423.9 L82.2,425.2 L83.3,426.5 L84.4,428.1 L85.5,429.9 L86.6,431.8 L87.7,433.8 L88.8,436.0 L89.8,438.2 L90.9,440.5 L92.0,442.6 L93.1,444.7 L94.2,446.7 L95.2,448.5 L96.3,450.1 L97.4,451.6 L98.5,452.8 L99.6,453.9 L100.7,454.8 L101.8,455.6 L102.8,456.3 L103.9,456.8 L105.0,457.3 L106.1,457.6 L107.2,457.9 L108.2,458.2 L109.3,458.4 L110.4,458.5 L111.5,458.7 L112.6,458.8 L113.7,458.9 L114.8,458.9 L115.8,459.0 L116.9,459.0 L118.0,459.1 L119.1,459.1 L120.2,459.1 L121.2,459.1 L122.3,459.2 L123.4,459.2 L124.5,459.2 L125.6,459.2 L126.7,459.2 L127.8,459.2 L128.8,459.2 L129.9,459.2 L131.0,459.2" stroke="#c4c4c4" stroke-width="1.8" fill="none" stroke-linejoin="round" />
<path d="M66.0,420.2 L67.1,420.4 L68.2,420.7 L69.2,421.0 L70.3,421.4 L71.4,421.9 L72.5,422.4 L73.6,423.1 L74.7,424.0 L75.8,424.9 L76.8,426.1 L77.9,427.4 L79.0,428.9 L80.1,430.6 L81.2,432.4 L82.2,434.4 L83.3,436.6 L84.4,438.8 L85.5,441.0 L86.6,443.2 L87.7,445.3 L88.8,447.4 L89.8,449.2 L90.9,450.9 L92.0,452.4 L93.1,453.8 L94.2,454.9 L95.2,455.9 L96.3,456.7 L97.4,457.4 L98.5,458.0 L99.6,458.5 L100.7,458.9 L101.8,459.2 L102.8,459.5 L103.9,459.7 L105.0,459.9 L106.1,460.0 L107.2,460.1 L108.2,460.2 L109.3,460.3 L110.4,460.4 L111.5,460.4 L112.6,460.4 L113.7,460.5 L114.8,460.5 L115.8,460.5 L116.9,460.5 L118.0,460.6 L119.1,460.6 L120.2,460.6 L121.2,460.6 L122.3,460.6 L123.4,460.6 L124.5,460.6 L125.6,460.6 L126.7,460.6 L127.8,460.6 L128.8,460.6 L129.9,460.6 L131.0,460.6" stroke="#c4c4c4" stroke-width="1.8" fill="none" stroke-linejoin="round" />
<path d="M66.0,422.9 L67.1,423.6 L68.2,424.4 L69.2,425.4 L70.3,426.5 L71.4,427.9 L72.5,429.5 L73.6,431.4 L74.7,433.4 L75.8,435.7 L76.8,438.0 L77.9,440.5 L79.0,442.9 L80.1,445.3 L81.2,447.6 L82.2,449.6 L83.3,451.5 L84.4,453.2 L85.5,454.6 L86.6,455.8 L87.7,456.8 L88.8,457.6 L89.8,458.3 L90.9,458.9 L92.0,459.3 L93.1,459.7 L94.2,460.0 L95.2,460.2 L96.3,460.4 L97.4,460.5 L98.5,460.6 L99.6,460.7 L100.7,460.8 L101.8,460.9 L102.8,460.9 L103.9,460.9 L105.0,461.0 L106.1,461.0 L107.2,461.0 L108.2,461.0 L109.3,461.0 L110.4,461.0 L111.5,461.0 L112.6,461.1 L113.7,461.1 L114.8,461.1 L115.8,461.1 L116.9,461.1 L118.0,461.1 L119.1,461.1 L120.2,461.1 L121.2,461.1 L122.3,461.1 L123.4,461.1 L124.5,461.1 L125.6,461.1 L126.7,461.1 L127.8,461.1 L128.8,461.1 L129.9,461.1 L131.0,461.1" stroke="#c4c4c4" stroke-width="1.8" fill="none" stroke-linejoin="round" />
<path d="M66.0,416.6 L67.1,416.6 L68.2,416.6 L69.2,416.6 L70.3,416.6 L71.4,416.6 L72.5,416.7 L73.6,416.7 L74.7,416.7 L75.8,416.8 L76.8,416.8 L77.9,416.9 L79.0,417.0 L80.1,417.1 L81.2,417.2 L82.2,417.4 L83.3,417.6 L84.4,417.8 L85.5,418.1 L86.6,418.5 L87.7,418.9 L88.8,419.5 L89.8,420.1 L90.9,420.9 L92.0,421.8 L93.1,422.9 L94.2,424.1 L95.2,425.5 L96.3,427.0 L97.4,428.7 L98.5,430.5 L99.6,432.5 L100.7,434.5 L101.8,436.5 L102.8,438.5 L103.9,440.4 L105.0,442.1 L106.1,443.8 L107.2,445.3 L108.2,446.6 L109.3,447.8 L110.4,448.7 L111.5,449.6 L112.6,450.3 L113.7,450.9 L114.8,451.4 L115.8,451.8 L116.9,452.2 L118.0,452.4 L119.1,452.7 L120.2,452.9 L121.2,453.0 L122.3,453.1 L123.4,453.2 L124.5,453.3 L125.6,453.4 L126.7,453.4 L127.8,453.5 L128.8,453.5 L129.9,453.5 L131.0,453.6" stroke="#c4c4c4" stroke-width="1.8" fill="none" stroke-linejoin="round" />
<path d="M66.0,417.6 L67.1,417.6 L68.2,417.7 L69.2,417.7 L70.3,417.8 L71.4,417.9 L72.5,418.0 L73.6,418.1 L74.7,418.3 L75.8,418.4 L76.8,418.7 L77.9,419.0 L79.0,419.3 L80.1,419.7 L81.2,420.2 L82.2,420.8 L83.3,421.6 L84.4,422.5 L85.5,423.5 L86.6,424.7 L87.7,426.0 L88.8,427.6 L89.8,429.3 L90.9,431.1 L92.0,433.1 L93.1,435.2 L94.2,437.3 L95.2,439.4 L96.3,441.4 L97.4,443.4 L98.5,445.2 L99.6,446.8 L100.7,448.3 L101.8,449.6 L102.8,450.7 L103.9,451.7 L105.0,452.5 L106.1,453.2 L107.2,453.8 L108.2,454.3 L109.3,454.7 L110.4,455.0 L111.5,455.3 L112.6,455.5 L113.7,455.7 L114.8,455.8 L115.8,455.9 L116.9,456.0 L118.0,456.1 L119.1,456.2 L120.2,456.2 L121.2,456.3 L122.3,456.3 L123.4,456.3 L124.5,456.3 L125.6,456.4 L126.7,456.4 L127.8,456.4 L128.8,456.4 L129.9,456.4 L131.0,456.4" stroke="#c4c4c4" stroke-width="1.8" fill="none" stroke-linejoin="round" />
<path d="M66.0,415.8 L67.1,415.8 L68.2,415.9 L69.2,416.0 L70.3,416.1 L71.4,416.2 L72.5,416.3 L73.6,416.5 L74.7,416.8 L75.8,417.1 L76.8,417.5 L77.9,418.0 L79.0,418.6 L80.1,419.3 L81.2,420.2 L82.2,421.3 L83.3,422.6 L84.4,424.1 L85.5,425.9 L86.6,428.0 L87.7,430.3 L88.8,432.8 L89.8,435.4 L90.9,438.1 L92.0,440.9 L93.1,443.5 L94.2,446.0 L95.2,448.3 L96.3,450.4 L97.4,452.3 L98.5,453.8 L99.6,455.2 L100.7,456.3 L101.8,457.3 L102.8,458.0 L103.9,458.6 L105.0,459.1 L106.1,459.5 L107.2,459.9 L108.2,460.1 L109.3,460.3 L110.4,460.5 L111.5,460.6 L112.6,460.7 L113.7,460.8 L114.8,460.8 L115.8,460.9 L116.9,460.9 L118.0,461.0 L119.1,461.0 L120.2,461.0 L121.2,461.0 L122.3,461.0 L123.4,461.0 L124.5,461.0 L125.6,461.1 L126.7,461.1 L127.8,461.1 L128.8,461.1 L129.9,461.1 L131.0,461.1" stroke="#111" stroke-width="1.5" fill="none" stroke-linejoin="round" />
<path d="M66.0,415.7 L67.1,415.7 L68.2,415.8 L69.2,415.8 L70.3,415.9 L71.4,416.0 L72.5,416.1 L73.6,416.2 L74.7,416.4 L75.8,416.6 L76.8,416.8 L77.9,417.1 L79.0,417.5 L80.1,418.0 L81.2,418.7 L82.2,419.4 L83.3,420.4 L84.4,421.5 L85.5,422.8 L86.6,424.4 L87.7,426.2 L88.8,428.3 L89.8,430.7 L90.9,433.2 L92.0,435.8 L93.1,438.5 L94.2,441.3 L95.2,443.9 L96.3,446.4 L97.4,448.7 L98.5,450.7 L99.6,452.5 L100.7,454.1 L101.8,455.4 L102.8,456.5 L103.9,457.4 L105.0,458.1 L106.1,458.7 L107.2,459.2 L108.2,459.6 L109.3,459.9 L110.4,460.1 L111.5,460.3 L112.6,460.5 L113.7,460.6 L114.8,460.7 L115.8,460.8 L116.9,460.8 L118.0,460.9 L119.1,460.9 L120.2,461.0 L121.2,461.0 L122.3,461.0 L123.4,461.0 L124.5,461.0 L125.6,461.0 L126.7,461.0 L127.8,461.1 L128.8,461.1 L129.9,461.1 L131.0,461.1" stroke="#111" stroke-width="1.5" fill="none" stroke-linejoin="round" />
<path d="M66.0,416.3 L67.1,416.4 L68.2,416.5 L69.2,416.6 L70.3,416.7 L71.4,416.9 L72.5,417.1 L73.6,417.3 L74.7,417.7 L75.8,418.1 L76.8,418.6 L77.9,419.3 L79.0,420.0 L80.1,421.0 L81.2,422.2 L82.2,423.6 L83.3,425.2 L84.4,427.1 L85.5,429.2 L86.6,431.5 L87.7,434.0 L88.8,436.7 L89.8,439.4 L90.9,442.1 L92.0,444.7 L93.1,447.1 L94.2,449.3 L95.2,451.3 L96.3,453.0 L97.4,454.5 L98.5,455.7 L99.6,456.7 L100.7,457.6 L101.8,458.3 L102.8,458.9 L103.9,459.3 L105.0,459.7 L106.1,460.0 L107.2,460.2 L108.2,460.4 L109.3,460.5 L110.4,460.6 L111.5,460.7 L112.6,460.8 L113.7,460.9 L114.8,460.9 L115.8,460.9 L116.9,461.0 L118.0,461.0 L119.1,461.0 L120.2,461.0 L121.2,461.0 L122.3,461.0 L123.4,461.0 L124.5,461.1 L125.6,461.1 L126.7,461.1 L127.8,461.1 L128.8,461.1 L129.9,461.1 L131.0,461.1" stroke="#111" stroke-width="1.5" fill="none" stroke-linejoin="round" />
<path d="M66.0,417.7 L67.1,417.9 L68.2,418.2 L69.2,418.6 L70.3,419.0 L71.4,419.6 L72.5,420.4 L73.6,421.3 L74.7,422.5 L75.8,423.9 L76.8,425.7 L77.9,427.7 L79.0,430.1 L80.1,432.7 L81.2,435.6 L82.2,438.6 L83.3,441.6 L84.4,444.5 L85.5,447.2 L86.6,449.7 L87.7,451.9 L88.8,453.8 L89.8,455.4 L90.9,456.7 L92.0,457.7 L93.1,458.6 L94.2,459.2 L95.2,459.8 L96.3,460.2 L97.4,460.5 L98.5,460.7 L99.6,460.9 L100.7,461.1 L101.8,461.2 L102.8,461.3 L103.9,461.3 L105.0,461.4 L106.1,461.4 L107.2,461.4 L108.2,461.5 L109.3,461.5 L110.4,461.5 L111.5,461.5 L112.6,461.5 L113.7,461.5 L114.8,461.5 L115.8,461.5 L116.9,461.5 L118.0,461.5 L119.1,461.5 L120.2,461.5 L121.2,461.5 L122.3,461.5 L123.4,461.5 L124.5,461.5 L125.6,461.5 L126.7,461.5 L127.8,461.5 L128.8,461.5 L129.9,461.5 L131.0,461.5" stroke="#111" stroke-width="1.5" fill="none" stroke-linejoin="round" />
<path d="M66.0,419.0 L67.1,419.3 L68.2,419.7 L69.2,420.2 L70.3,420.8 L71.4,421.5 L72.5,422.5 L73.6,423.7 L74.7,425.1 L75.8,426.8 L76.8,428.7 L77.9,431.0 L79.0,433.4 L80.1,436.1 L81.2,438.9 L82.2,441.7 L83.3,444.4 L84.4,447.0 L85.5,449.4 L86.6,451.5 L87.7,453.4 L88.8,454.9 L89.8,456.3 L90.9,457.3 L92.0,458.2 L93.1,458.9 L94.2,459.5 L95.2,459.9 L96.3,460.3 L97.4,460.6 L98.5,460.8 L99.6,461.0 L100.7,461.1 L101.8,461.2 L102.8,461.3 L103.9,461.3 L105.0,461.4 L106.1,461.4 L107.2,461.4 L108.2,461.5 L109.3,461.5 L110.4,461.5 L111.5,461.5 L112.6,461.5 L113.7,461.5 L114.8,461.5 L115.8,461.5 L116.9,461.5 L118.0,461.5 L119.1,461.5 L120.2,461.5 L121.2,461.5 L122.3,461.5 L123.4,461.5 L124.5,461.5 L125.6,461.5 L126.7,461.5 L127.8,461.5 L128.8,461.5 L129.9,461.5 L131.0,461.5" stroke="#111" stroke-width="1.5" fill="none" stroke-linejoin="round" />
<path d="M66.0,420.6 L67.1,420.9 L68.2,421.3 L69.2,421.9 L70.3,422.6 L71.4,423.4 L72.5,424.4 L73.6,425.7 L74.7,427.2 L75.8,428.9 L76.8,430.9 L77.9,433.2 L79.0,435.6 L80.1,438.2 L81.2,440.8 L82.2,443.5 L83.3,446.0 L84.4,448.4 L85.5,450.6 L86.6,452.5 L87.7,454.1 L88.8,455.6 L89.8,456.7 L90.9,457.7 L92.0,458.5 L93.1,459.1 L94.2,459.6 L95.2,460.1 L96.3,460.4 L97.4,460.6 L98.5,460.8 L99.6,461.0 L100.7,461.1 L101.8,461.2 L102.8,461.3 L103.9,461.3 L105.0,461.4 L106.1,461.4 L107.2,461.4 L108.2,461.5 L109.3,461.5 L110.4,461.5 L111.5,461.5 L112.6,461.5 L113.7,461.5 L114.8,461.5 L115.8,461.5 L116.9,461.5 L118.0,461.5 L119.1,461.5 L120.2,461.5 L121.2,461.5 L122.3,461.5 L123.4,461.5 L124.5,461.5 L125.6,461.5 L126.7,461.5 L127.8,461.5 L128.8,461.5 L129.9,461.5 L131.0,461.5" stroke="#111" stroke-width="1.5" fill="none" stroke-linejoin="round" />
<path d="M129.5,141.0 L136.5,141.0 L136.5,78.2 L145.0,78.2" stroke="#8c8c8c" stroke-width="1.3" fill="none" stroke-linejoin="round" />
<path d="M146.00,78.20 L140.00,75.40 L140.00,81.00 Z" fill="#8c8c8c"/>
<path d="M129.5,153.5 L133.5,153.5 L133.5,145.3 L145.0,145.3" stroke="#8c8c8c" stroke-width="1.3" fill="none" stroke-linejoin="round" />
<path d="M146.00,145.30 L140.00,142.50 L140.00,148.10 Z" fill="#8c8c8c"/>
<path d="M95.0,176.3 L136.8,176.3 L136.8,191.8 L145.0,191.8" stroke="#8c8c8c" stroke-width="1.3" fill="none" stroke-linejoin="round" />
<path d="M146.00,191.80 L140.00,189.00 L140.00,194.60 Z" fill="#8c8c8c"/>
<path d="M77.3,302.9 L77.3,279.5 L135.0,279.5" stroke="#8c8c8c" stroke-width="1.3" fill="none" stroke-linejoin="round" />
<path d="M136.00,279.50 L130.00,276.70 L130.00,282.30 Z" fill="#8c8c8c"/>
<path d="M92.9,321.0 L92.9,343.5 L135.0,343.5" stroke="#8c8c8c" stroke-width="1.3" fill="none" stroke-linejoin="round" />
<path d="M136.00,343.50 L130.00,340.70 L130.00,346.30 Z" fill="#8c8c8c"/>
<path d="M76.7,434.9 L76.7,422.0 L135.5,422.0" stroke="#8c8c8c" stroke-width="1.3" fill="none" stroke-linejoin="round" />
<path d="M136.50,422.00 L130.50,419.20 L130.50,424.80 Z" fill="#8c8c8c"/>
<path d="M78.8,443.7 L78.8,485.8 L135.5,485.8" stroke="#8c8c8c" stroke-width="1.3" fill="none" stroke-linejoin="round" />
<path d="M136.50,485.80 L130.50,483.00 L130.50,488.60 Z" fill="#8c8c8c"/>
<text x="55.80" y="516.90" font-size="9.6" fill="#222" textLength="79.20" lengthAdjust="spacingAndGlyphs" stroke="#222" stroke-width="0.22" >log concentration (nM)</text>
<line x1="62.00" y1="530.30" x2="75.80" y2="530.30" stroke="#000" stroke-width="1.6" />
<line x1="62.00" y1="544.40" x2="75.80" y2="544.40" stroke="#b5b5b5" stroke-width="1.2" />
<text x="78.70" y="533.20" font-size="8" fill="#222" textLength="50.00" lengthAdjust="spacingAndGlyphs" stroke="#222" stroke-width="0.22" >Selected patients</text>
<text x="78.70" y="546.80" font-size="8" fill="#222" textLength="43.30" lengthAdjust="spacingAndGlyphs" stroke="#222" stroke-width="0.22" >All other tested</text>
<text x="78.70" y="554.80" font-size="8" fill="#222" textLength="23.00" lengthAdjust="spacingAndGlyphs" stroke="#222" stroke-width="0.22" >patients</text>
<rect x="171.30" y="57.00" width="6.00" height="50.00" fill="#e4e4e4" stroke="none" stroke-width="1" />
<rect x="177.30" y="57.00" width="6.00" height="50.00" fill="#f1f1f1" stroke="none" stroke-width="1" />
<rect x="183.30" y="57.00" width="6.00" height="50.00" fill="#e4e4e4" stroke="none" stroke-width="1" />
<line x1="177.30" y1="57.00" x2="177.30" y2="107.00" stroke="#333" stroke-width="0.9" stroke-dasharray="0.9 2.1"/>
<line x1="183.30" y1="57.00" x2="183.30" y2="107.00" stroke="#333" stroke-width="0.9" stroke-dasharray="0.9 2.1"/>
<line x1="189.30" y1="57.00" x2="189.30" y2="107.00" stroke="#333" stroke-width="0.9" stroke-dasharray="0.9 2.1"/>
<line x1="170.70" y1="55.00" x2="170.70" y2="107.60" stroke="#000" stroke-width="1.3" />
<line x1="168.90" y1="107.00" x2="170.70" y2="107.00" stroke="#000" stroke-width="0.9" />
<line x1="168.90" y1="103.34" x2="170.70" y2="103.34" stroke="#000" stroke-width="0.9" />
<line x1="168.90" y1="99.69" x2="170.70" y2="99.69" stroke="#000" stroke-width="0.9" />
<line x1="168.90" y1="96.03" x2="170.70" y2="96.03" stroke="#000" stroke-width="0.9" />
<line x1="168.90" y1="92.37" x2="170.70" y2="92.37" stroke="#000" stroke-width="0.9" />
<line x1="168.90" y1="88.72" x2="170.70" y2="88.72" stroke="#000" stroke-width="0.9" />
<line x1="168.90" y1="85.06" x2="170.70" y2="85.06" stroke="#000" stroke-width="0.9" />
<line x1="168.90" y1="81.40" x2="170.70" y2="81.40" stroke="#000" stroke-width="0.9" />
<line x1="168.90" y1="77.75" x2="170.70" y2="77.75" stroke="#000" stroke-width="0.9" />
<line x1="168.90" y1="74.09" x2="170.70" y2="74.09" stroke="#000" stroke-width="0.9" />
<line x1="168.90" y1="70.43" x2="170.70" y2="70.43" stroke="#000" stroke-width="0.9" />
<line x1="168.90" y1="66.78" x2="170.70" y2="66.78" stroke="#000" stroke-width="0.9" />
<line x1="168.90" y1="63.12" x2="170.70" y2="63.12" stroke="#000" stroke-width="0.9" />
<line x1="168.90" y1="59.46" x2="170.70" y2="59.46" stroke="#000" stroke-width="0.9" />
<line x1="168.10" y1="70.25" x2="170.70" y2="70.25" stroke="#000" stroke-width="1" />
<line x1="168.10" y1="94.75" x2="170.70" y2="94.75" stroke="#000" stroke-width="1" />
<line x1="167.70" y1="58.00" x2="170.70" y2="58.00" stroke="#000" stroke-width="1" />
<text x="166.70" y="60.20" font-size="6.1" text-anchor="end" fill="#222" textLength="9.80" lengthAdjust="spacingAndGlyphs" >100</text>
<line x1="167.70" y1="82.50" x2="170.70" y2="82.50" stroke="#000" stroke-width="1" />
<text x="166.70" y="84.70" font-size="6.1" text-anchor="end" fill="#222" textLength="6.50" lengthAdjust="spacingAndGlyphs" >50</text>
<line x1="170.10" y1="107.00" x2="238.70" y2="107.00" stroke="#000" stroke-width="1.3" />
<line x1="187.00" y1="107.00" x2="187.00" y2="109.00" stroke="#000" stroke-width="1" />
<line x1="203.30" y1="107.00" x2="203.30" y2="109.00" stroke="#000" stroke-width="1" />
<line x1="219.60" y1="107.00" x2="219.60" y2="109.00" stroke="#000" stroke-width="1" />
<line x1="235.90" y1="107.00" x2="235.90" y2="109.00" stroke="#000" stroke-width="1" />
<line x1="249.70" y1="55.30" x2="249.70" y2="107.60" stroke="#000" stroke-width="1.3" />
<line x1="247.70" y1="107.00" x2="249.70" y2="107.00" stroke="#000" stroke-width="1" />
<line x1="247.70" y1="94.45" x2="249.70" y2="94.45" stroke="#000" stroke-width="1" />
<line x1="247.70" y1="81.90" x2="249.70" y2="81.90" stroke="#000" stroke-width="1" />
<line x1="247.70" y1="69.35" x2="249.70" y2="69.35" stroke="#000" stroke-width="1" />
<line x1="247.70" y1="56.80" x2="249.70" y2="56.80" stroke="#000" stroke-width="1" />
<line x1="249.10" y1="107.00" x2="317.30" y2="107.00" stroke="#000" stroke-width="1.3" />
<line x1="266.00" y1="107.00" x2="266.00" y2="109.00" stroke="#000" stroke-width="1" />
<line x1="282.30" y1="107.00" x2="282.30" y2="109.00" stroke="#000" stroke-width="1" />
<line x1="298.60" y1="107.00" x2="298.60" y2="109.00" stroke="#000" stroke-width="1" />
<line x1="314.90" y1="107.00" x2="314.90" y2="109.00" stroke="#000" stroke-width="1" />
<rect x="171.30" y="117.20" width="6.00" height="51.10" fill="#e4e4e4" stroke="none" stroke-width="1" />
<rect x="177.30" y="117.20" width="6.00" height="51.10" fill="#f1f1f1" stroke="none" stroke-width="1" />
<rect x="183.30" y="117.20" width="6.00" height="51.10" fill="#e4e4e4" stroke="none" stroke-width="1" />
<line x1="177.30" y1="117.20" x2="177.30" y2="168.30" stroke="#333" stroke-width="0.9" stroke-dasharray="0.9 2.1"/>
<line x1="183.30" y1="117.20" x2="183.30" y2="168.30" stroke="#333" stroke-width="0.9" stroke-dasharray="0.9 2.1"/>
<line x1="189.30" y1="117.20" x2="189.30" y2="168.30" stroke="#333" stroke-width="0.9" stroke-dasharray="0.9 2.1"/>
<line x1="170.70" y1="115.20" x2="170.70" y2="168.90" stroke="#000" stroke-width="1.3" />
<line x1="168.90" y1="168.30" x2="170.70" y2="168.30" stroke="#000" stroke-width="0.9" />
<line x1="168.90" y1="164.56" x2="170.70" y2="164.56" stroke="#000" stroke-width="0.9" />
<line x1="168.90" y1="160.82" x2="170.70" y2="160.82" stroke="#000" stroke-width="0.9" />
<line x1="168.90" y1="157.08" x2="170.70" y2="157.08" stroke="#000" stroke-width="0.9" />
<line x1="168.90" y1="153.34" x2="170.70" y2="153.34" stroke="#000" stroke-width="0.9" />
<line x1="168.90" y1="149.61" x2="170.70" y2="149.61" stroke="#000" stroke-width="0.9" />
<line x1="168.90" y1="145.87" x2="170.70" y2="145.87" stroke="#000" stroke-width="0.9" />
<line x1="168.90" y1="142.13" x2="170.70" y2="142.13" stroke="#000" stroke-width="0.9" />
<line x1="168.90" y1="138.39" x2="170.70" y2="138.39" stroke="#000" stroke-width="0.9" />
<line x1="168.90" y1="134.65" x2="170.70" y2="134.65" stroke="#000" stroke-width="0.9" />
<line x1="168.90" y1="130.91" x2="170.70" y2="130.91" stroke="#000" stroke-width="0.9" />
<line x1="168.90" y1="127.17" x2="170.70" y2="127.17" stroke="#000" stroke-width="0.9" />
<line x1="168.90" y1="123.43" x2="170.70" y2="123.43" stroke="#000" stroke-width="0.9" />
<line x1="168.90" y1="119.70" x2="170.70" y2="119.70" stroke="#000" stroke-width="0.9" />
<line x1="168.10" y1="130.73" x2="170.70" y2="130.73" stroke="#000" stroke-width="1" />
<line x1="168.10" y1="155.78" x2="170.70" y2="155.78" stroke="#000" stroke-width="1" />
<line x1="167.70" y1="118.20" x2="170.70" y2="118.20" stroke="#000" stroke-width="1" />
<text x="166.70" y="120.40" font-size="6.1" text-anchor="end" fill="#222" textLength="9.80" lengthAdjust="spacingAndGlyphs" >100</text>
<line x1="167.70" y1="143.25" x2="170.70" y2="143.25" stroke="#000" stroke-width="1" />
<text x="166.70" y="145.45" font-size="6.1" text-anchor="end" fill="#222" textLength="6.50" lengthAdjust="spacingAndGlyphs" >50</text>
<line x1="170.10" y1="168.30" x2="238.70" y2="168.30" stroke="#000" stroke-width="1.3" />
<line x1="187.00" y1="168.30" x2="187.00" y2="170.30" stroke="#000" stroke-width="1" />
<line x1="203.30" y1="168.30" x2="203.30" y2="170.30" stroke="#000" stroke-width="1" />
<line x1="219.60" y1="168.30" x2="219.60" y2="170.30" stroke="#000" stroke-width="1" />
<line x1="235.90" y1="168.30" x2="235.90" y2="170.30" stroke="#000" stroke-width="1" />
<line x1="249.70" y1="116.20" x2="249.70" y2="168.90" stroke="#000" stroke-width="1.3" />
<line x1="247.70" y1="168.30" x2="249.70" y2="168.30" stroke="#000" stroke-width="1" />
<line x1="247.70" y1="155.65" x2="249.70" y2="155.65" stroke="#000" stroke-width="1" />
<line x1="247.70" y1="143.00" x2="249.70" y2="143.00" stroke="#000" stroke-width="1" />
<line x1="247.70" y1="130.35" x2="249.70" y2="130.35" stroke="#000" stroke-width="1" />
<line x1="247.70" y1="117.70" x2="249.70" y2="117.70" stroke="#000" stroke-width="1" />
<line x1="249.10" y1="168.30" x2="317.30" y2="168.30" stroke="#000" stroke-width="1.3" />
<line x1="266.00" y1="168.30" x2="266.00" y2="170.30" stroke="#000" stroke-width="1" />
<line x1="282.30" y1="168.30" x2="282.30" y2="170.30" stroke="#000" stroke-width="1" />
<line x1="298.60" y1="168.30" x2="298.60" y2="170.30" stroke="#000" stroke-width="1" />
<line x1="314.90" y1="168.30" x2="314.90" y2="170.30" stroke="#000" stroke-width="1" />
<rect x="171.30" y="179.20" width="6.00" height="49.80" fill="#e4e4e4" stroke="none" stroke-width="1" />
<rect x="177.30" y="179.20" width="6.00" height="49.80" fill="#f1f1f1" stroke="none" stroke-width="1" />
<rect x="183.30" y="179.20" width="6.00" height="49.80" fill="#e4e4e4" stroke="none" stroke-width="1" />
<line x1="177.30" y1="179.20" x2="177.30" y2="229.00" stroke="#333" stroke-width="0.9" stroke-dasharray="0.9 2.1"/>
<line x1="183.30" y1="179.20" x2="183.30" y2="229.00" stroke="#333" stroke-width="0.9" stroke-dasharray="0.9 2.1"/>
<line x1="189.30" y1="179.20" x2="189.30" y2="229.00" stroke="#333" stroke-width="0.9" stroke-dasharray="0.9 2.1"/>
<line x1="170.70" y1="177.20" x2="170.70" y2="229.60" stroke="#000" stroke-width="1.3" />
<line x1="168.90" y1="229.00" x2="170.70" y2="229.00" stroke="#000" stroke-width="0.9" />
<line x1="168.90" y1="225.36" x2="170.70" y2="225.36" stroke="#000" stroke-width="0.9" />
<line x1="168.90" y1="221.72" x2="170.70" y2="221.72" stroke="#000" stroke-width="0.9" />
<line x1="168.90" y1="218.07" x2="170.70" y2="218.07" stroke="#000" stroke-width="0.9" />
<line x1="168.90" y1="214.43" x2="170.70" y2="214.43" stroke="#000" stroke-width="0.9" />
<line x1="168.90" y1="210.79" x2="170.70" y2="210.79" stroke="#000" stroke-width="0.9" />
<line x1="168.90" y1="207.15" x2="170.70" y2="207.15" stroke="#000" stroke-width="0.9" />
<line x1="168.90" y1="203.51" x2="170.70" y2="203.51" stroke="#000" stroke-width="0.9" />
<line x1="168.90" y1="199.87" x2="170.70" y2="199.87" stroke="#000" stroke-width="0.9" />
<line x1="168.90" y1="196.22" x2="170.70" y2="196.22" stroke="#000" stroke-width="0.9" />
<line x1="168.90" y1="192.58" x2="170.70" y2="192.58" stroke="#000" stroke-width="0.9" />
<line x1="168.90" y1="188.94" x2="170.70" y2="188.94" stroke="#000" stroke-width="0.9" />
<line x1="168.90" y1="185.30" x2="170.70" y2="185.30" stroke="#000" stroke-width="0.9" />
<line x1="168.90" y1="181.66" x2="170.70" y2="181.66" stroke="#000" stroke-width="0.9" />
<line x1="168.10" y1="192.40" x2="170.70" y2="192.40" stroke="#000" stroke-width="1" />
<line x1="168.10" y1="216.80" x2="170.70" y2="216.80" stroke="#000" stroke-width="1" />
<line x1="167.70" y1="180.20" x2="170.70" y2="180.20" stroke="#000" stroke-width="1" />
<text x="166.70" y="182.40" font-size="6.1" text-anchor="end" fill="#222" textLength="9.80" lengthAdjust="spacingAndGlyphs" >100</text>
<line x1="167.70" y1="204.60" x2="170.70" y2="204.60" stroke="#000" stroke-width="1" />
<text x="166.70" y="206.80" font-size="6.1" text-anchor="end" fill="#222" textLength="6.50" lengthAdjust="spacingAndGlyphs" >50</text>
<line x1="170.10" y1="229.00" x2="238.70" y2="229.00" stroke="#000" stroke-width="1.3" />
<line x1="187.00" y1="229.00" x2="187.00" y2="231.00" stroke="#000" stroke-width="1" />
<line x1="203.30" y1="229.00" x2="203.30" y2="231.00" stroke="#000" stroke-width="1" />
<line x1="219.60" y1="229.00" x2="219.60" y2="231.00" stroke="#000" stroke-width="1" />
<line x1="235.90" y1="229.00" x2="235.90" y2="231.00" stroke="#000" stroke-width="1" />
<text x="170.70" y="238.00" font-size="6.1" text-anchor="middle" fill="#222" >0</text>
<text x="187.00" y="238.00" font-size="6.1" text-anchor="middle" fill="#222" >40</text>
<text x="203.30" y="238.00" font-size="6.1" text-anchor="middle" fill="#222" >80</text>
<text x="219.60" y="238.00" font-size="6.1" text-anchor="middle" fill="#222" >120</text>
<text x="235.90" y="238.00" font-size="6.1" text-anchor="middle" fill="#222" >160</text>
<line x1="249.70" y1="178.00" x2="249.70" y2="229.60" stroke="#000" stroke-width="1.3" />
<line x1="247.70" y1="229.00" x2="249.70" y2="229.00" stroke="#000" stroke-width="1" />
<line x1="247.70" y1="216.62" x2="249.70" y2="216.62" stroke="#000" stroke-width="1" />
<line x1="247.70" y1="204.25" x2="249.70" y2="204.25" stroke="#000" stroke-width="1" />
<line x1="247.70" y1="191.88" x2="249.70" y2="191.88" stroke="#000" stroke-width="1" />
<line x1="247.70" y1="179.50" x2="249.70" y2="179.50" stroke="#000" stroke-width="1" />
<line x1="249.10" y1="229.00" x2="317.30" y2="229.00" stroke="#000" stroke-width="1.3" />
<line x1="266.00" y1="229.00" x2="266.00" y2="231.00" stroke="#000" stroke-width="1" />
<line x1="282.30" y1="229.00" x2="282.30" y2="231.00" stroke="#000" stroke-width="1" />
<line x1="298.60" y1="229.00" x2="298.60" y2="231.00" stroke="#000" stroke-width="1" />
<line x1="314.90" y1="229.00" x2="314.90" y2="231.00" stroke="#000" stroke-width="1" />
<text x="249.70" y="238.00" font-size="6.1" text-anchor="middle" fill="#222" >0</text>
<text x="266.00" y="238.00" font-size="6.1" text-anchor="middle" fill="#222" >40</text>
<text x="282.30" y="238.00" font-size="6.1" text-anchor="middle" fill="#222" >80</text>
<text x="298.60" y="238.00" font-size="6.1" text-anchor="middle" fill="#222" >120</text>
<text x="314.90" y="238.00" font-size="6.1" text-anchor="middle" fill="#222" >160</text>
<rect x="171.30" y="257.60" width="6.10" height="52.40" fill="#e6e6e6" stroke="none" stroke-width="1" />
<line x1="177.40" y1="257.60" x2="177.40" y2="310.00" stroke="#333" stroke-width="0.9" stroke-dasharray="0.9 2.1"/>
<line x1="170.70" y1="255.60" x2="170.70" y2="310.60" stroke="#000" stroke-width="1.3" />
<line x1="168.90" y1="310.00" x2="170.70" y2="310.00" stroke="#000" stroke-width="0.9" />
<line x1="168.90" y1="306.16" x2="170.70" y2="306.16" stroke="#000" stroke-width="0.9" />
<line x1="168.90" y1="302.33" x2="170.70" y2="302.33" stroke="#000" stroke-width="0.9" />
<line x1="168.90" y1="298.49" x2="170.70" y2="298.49" stroke="#000" stroke-width="0.9" />
<line x1="168.90" y1="294.66" x2="170.70" y2="294.66" stroke="#000" stroke-width="0.9" />
<line x1="168.90" y1="290.82" x2="170.70" y2="290.82" stroke="#000" stroke-width="0.9" />
<line x1="168.90" y1="286.99" x2="170.70" y2="286.99" stroke="#000" stroke-width="0.9" />
<line x1="168.90" y1="283.15" x2="170.70" y2="283.15" stroke="#000" stroke-width="0.9" />
<line x1="168.90" y1="279.31" x2="170.70" y2="279.31" stroke="#000" stroke-width="0.9" />
<line x1="168.90" y1="275.48" x2="170.70" y2="275.48" stroke="#000" stroke-width="0.9" />
<line x1="168.90" y1="271.64" x2="170.70" y2="271.64" stroke="#000" stroke-width="0.9" />
<line x1="168.90" y1="267.81" x2="170.70" y2="267.81" stroke="#000" stroke-width="0.9" />
<line x1="168.90" y1="263.97" x2="170.70" y2="263.97" stroke="#000" stroke-width="0.9" />
<line x1="168.90" y1="260.13" x2="170.70" y2="260.13" stroke="#000" stroke-width="0.9" />
<line x1="168.10" y1="271.45" x2="170.70" y2="271.45" stroke="#000" stroke-width="1" />
<line x1="168.10" y1="297.15" x2="170.70" y2="297.15" stroke="#000" stroke-width="1" />
<line x1="167.70" y1="258.60" x2="170.70" y2="258.60" stroke="#000" stroke-width="1" />
<text x="166.70" y="260.80" font-size="6.1" text-anchor="end" fill="#222" textLength="9.80" lengthAdjust="spacingAndGlyphs" >100</text>
<line x1="167.70" y1="284.30" x2="170.70" y2="284.30" stroke="#000" stroke-width="1" />
<text x="166.70" y="286.50" font-size="6.1" text-anchor="end" fill="#222" textLength="6.50" lengthAdjust="spacingAndGlyphs" >50</text>
<line x1="170.10" y1="310.00" x2="221.60" y2="310.00" stroke="#000" stroke-width="1.3" />
<line x1="224.20" y1="310.00" x2="237.20" y2="310.00" stroke="#000" stroke-width="1.3" />
<line x1="221.60" y1="308.50" x2="221.60" y2="311.50" stroke="#000" stroke-width="0.8" />
<line x1="224.20" y1="308.50" x2="224.20" y2="311.50" stroke="#000" stroke-width="0.8" />
<line x1="187.00" y1="310.00" x2="187.00" y2="312.00" stroke="#000" stroke-width="1" />
<line x1="203.30" y1="310.00" x2="203.30" y2="312.00" stroke="#000" stroke-width="1" />
<line x1="219.60" y1="310.00" x2="219.60" y2="312.00" stroke="#000" stroke-width="1" />
<line x1="234.60" y1="310.00" x2="234.60" y2="312.00" stroke="#000" stroke-width="1" />
<line x1="249.70" y1="259.60" x2="249.70" y2="310.60" stroke="#000" stroke-width="1.3" />
<line x1="247.70" y1="310.00" x2="249.70" y2="310.00" stroke="#000" stroke-width="1" />
<line x1="247.70" y1="297.77" x2="249.70" y2="297.77" stroke="#000" stroke-width="1" />
<line x1="247.70" y1="285.55" x2="249.70" y2="285.55" stroke="#000" stroke-width="1" />
<line x1="247.70" y1="273.33" x2="249.70" y2="273.33" stroke="#000" stroke-width="1" />
<line x1="247.70" y1="261.10" x2="249.70" y2="261.10" stroke="#000" stroke-width="1" />
<line x1="249.10" y1="310.00" x2="299.40" y2="310.00" stroke="#000" stroke-width="1.3" />
<line x1="302.60" y1="310.00" x2="317.00" y2="310.00" stroke="#000" stroke-width="1.3" />
<line x1="299.40" y1="308.50" x2="299.40" y2="311.50" stroke="#000" stroke-width="0.8" />
<line x1="302.60" y1="308.50" x2="302.60" y2="311.50" stroke="#000" stroke-width="0.8" />
<line x1="266.00" y1="310.00" x2="266.00" y2="312.00" stroke="#000" stroke-width="1" />
<line x1="282.30" y1="310.00" x2="282.30" y2="312.00" stroke="#000" stroke-width="1" />
<line x1="314.50" y1="310.00" x2="314.50" y2="312.00" stroke="#000" stroke-width="1" />
<rect x="171.30" y="318.75" width="6.10" height="51.55" fill="#e6e6e6" stroke="none" stroke-width="1" />
<line x1="177.40" y1="318.75" x2="177.40" y2="370.30" stroke="#333" stroke-width="0.9" stroke-dasharray="0.9 2.1"/>
<line x1="170.70" y1="316.75" x2="170.70" y2="370.90" stroke="#000" stroke-width="1.3" />
<line x1="168.90" y1="370.30" x2="170.70" y2="370.30" stroke="#000" stroke-width="0.9" />
<line x1="168.90" y1="366.53" x2="170.70" y2="366.53" stroke="#000" stroke-width="0.9" />
<line x1="168.90" y1="362.76" x2="170.70" y2="362.76" stroke="#000" stroke-width="0.9" />
<line x1="168.90" y1="358.98" x2="170.70" y2="358.98" stroke="#000" stroke-width="0.9" />
<line x1="168.90" y1="355.21" x2="170.70" y2="355.21" stroke="#000" stroke-width="0.9" />
<line x1="168.90" y1="351.44" x2="170.70" y2="351.44" stroke="#000" stroke-width="0.9" />
<line x1="168.90" y1="347.67" x2="170.70" y2="347.67" stroke="#000" stroke-width="0.9" />
<line x1="168.90" y1="343.89" x2="170.70" y2="343.89" stroke="#000" stroke-width="0.9" />
<line x1="168.90" y1="340.12" x2="170.70" y2="340.12" stroke="#000" stroke-width="0.9" />
<line x1="168.90" y1="336.35" x2="170.70" y2="336.35" stroke="#000" stroke-width="0.9" />
<line x1="168.90" y1="332.58" x2="170.70" y2="332.58" stroke="#000" stroke-width="0.9" />
<line x1="168.90" y1="328.80" x2="170.70" y2="328.80" stroke="#000" stroke-width="0.9" />
<line x1="168.90" y1="325.03" x2="170.70" y2="325.03" stroke="#000" stroke-width="0.9" />
<line x1="168.90" y1="321.26" x2="170.70" y2="321.26" stroke="#000" stroke-width="0.9" />
<line x1="168.10" y1="332.39" x2="170.70" y2="332.39" stroke="#000" stroke-width="1" />
<line x1="168.10" y1="357.66" x2="170.70" y2="357.66" stroke="#000" stroke-width="1" />
<line x1="167.70" y1="319.75" x2="170.70" y2="319.75" stroke="#000" stroke-width="1" />
<text x="166.70" y="321.95" font-size="6.1" text-anchor="end" fill="#222" textLength="9.80" lengthAdjust="spacingAndGlyphs" >100</text>
<line x1="167.70" y1="345.02" x2="170.70" y2="345.02" stroke="#000" stroke-width="1" />
<text x="166.70" y="347.22" font-size="6.1" text-anchor="end" fill="#222" textLength="6.50" lengthAdjust="spacingAndGlyphs" >50</text>
<line x1="170.10" y1="370.30" x2="221.60" y2="370.30" stroke="#000" stroke-width="1.3" />
<line x1="224.20" y1="370.30" x2="237.20" y2="370.30" stroke="#000" stroke-width="1.3" />
<line x1="221.60" y1="368.80" x2="221.60" y2="371.80" stroke="#000" stroke-width="0.8" />
<line x1="224.20" y1="368.80" x2="224.20" y2="371.80" stroke="#000" stroke-width="0.8" />
<line x1="187.00" y1="370.30" x2="187.00" y2="372.30" stroke="#000" stroke-width="1" />
<line x1="203.30" y1="370.30" x2="203.30" y2="372.30" stroke="#000" stroke-width="1" />
<line x1="219.60" y1="370.30" x2="219.60" y2="372.30" stroke="#000" stroke-width="1" />
<line x1="234.60" y1="370.30" x2="234.60" y2="372.30" stroke="#000" stroke-width="1" />
<line x1="249.70" y1="320.30" x2="249.70" y2="370.90" stroke="#000" stroke-width="1.3" />
<line x1="247.70" y1="370.30" x2="249.70" y2="370.30" stroke="#000" stroke-width="1" />
<line x1="247.70" y1="358.18" x2="249.70" y2="358.18" stroke="#000" stroke-width="1" />
<line x1="247.70" y1="346.05" x2="249.70" y2="346.05" stroke="#000" stroke-width="1" />
<line x1="247.70" y1="333.93" x2="249.70" y2="333.93" stroke="#000" stroke-width="1" />
<line x1="247.70" y1="321.80" x2="249.70" y2="321.80" stroke="#000" stroke-width="1" />
<line x1="249.10" y1="370.30" x2="299.40" y2="370.30" stroke="#000" stroke-width="1.3" />
<line x1="302.60" y1="370.30" x2="317.00" y2="370.30" stroke="#000" stroke-width="1.3" />
<line x1="299.40" y1="368.80" x2="299.40" y2="371.80" stroke="#000" stroke-width="0.8" />
<line x1="302.60" y1="368.80" x2="302.60" y2="371.80" stroke="#000" stroke-width="0.8" />
<line x1="266.00" y1="370.30" x2="266.00" y2="372.30" stroke="#000" stroke-width="1" />
<line x1="282.30" y1="370.30" x2="282.30" y2="372.30" stroke="#000" stroke-width="1" />
<line x1="314.50" y1="370.30" x2="314.50" y2="372.30" stroke="#000" stroke-width="1" />
<rect x="171.30" y="385.60" width="6.10" height="52.10" fill="#e6e6e6" stroke="none" stroke-width="1" />
<line x1="177.40" y1="385.60" x2="177.40" y2="437.70" stroke="#333" stroke-width="0.9" stroke-dasharray="0.9 2.1"/>
<line x1="170.70" y1="383.60" x2="170.70" y2="438.30" stroke="#000" stroke-width="1.3" />
<line x1="168.90" y1="437.70" x2="170.70" y2="437.70" stroke="#000" stroke-width="0.9" />
<line x1="168.90" y1="433.89" x2="170.70" y2="433.89" stroke="#000" stroke-width="0.9" />
<line x1="168.90" y1="430.07" x2="170.70" y2="430.07" stroke="#000" stroke-width="0.9" />
<line x1="168.90" y1="426.26" x2="170.70" y2="426.26" stroke="#000" stroke-width="0.9" />
<line x1="168.90" y1="422.45" x2="170.70" y2="422.45" stroke="#000" stroke-width="0.9" />
<line x1="168.90" y1="418.63" x2="170.70" y2="418.63" stroke="#000" stroke-width="0.9" />
<line x1="168.90" y1="414.82" x2="170.70" y2="414.82" stroke="#000" stroke-width="0.9" />
<line x1="168.90" y1="411.01" x2="170.70" y2="411.01" stroke="#000" stroke-width="0.9" />
<line x1="168.90" y1="407.19" x2="170.70" y2="407.19" stroke="#000" stroke-width="0.9" />
<line x1="168.90" y1="403.38" x2="170.70" y2="403.38" stroke="#000" stroke-width="0.9" />
<line x1="168.90" y1="399.57" x2="170.70" y2="399.57" stroke="#000" stroke-width="0.9" />
<line x1="168.90" y1="395.75" x2="170.70" y2="395.75" stroke="#000" stroke-width="0.9" />
<line x1="168.90" y1="391.94" x2="170.70" y2="391.94" stroke="#000" stroke-width="0.9" />
<line x1="168.90" y1="388.13" x2="170.70" y2="388.13" stroke="#000" stroke-width="0.9" />
<line x1="168.10" y1="399.38" x2="170.70" y2="399.38" stroke="#000" stroke-width="1" />
<line x1="168.10" y1="424.93" x2="170.70" y2="424.93" stroke="#000" stroke-width="1" />
<line x1="167.70" y1="386.60" x2="170.70" y2="386.60" stroke="#000" stroke-width="1" />
<text x="166.70" y="388.80" font-size="6.1" text-anchor="end" fill="#222" textLength="9.80" lengthAdjust="spacingAndGlyphs" >100</text>
<line x1="167.70" y1="412.15" x2="170.70" y2="412.15" stroke="#000" stroke-width="1" />
<text x="166.70" y="414.35" font-size="6.1" text-anchor="end" fill="#222" textLength="6.50" lengthAdjust="spacingAndGlyphs" >50</text>
<line x1="170.10" y1="437.70" x2="221.60" y2="437.70" stroke="#000" stroke-width="1.3" />
<line x1="224.20" y1="437.70" x2="237.20" y2="437.70" stroke="#000" stroke-width="1.3" />
<line x1="221.60" y1="436.20" x2="221.60" y2="439.20" stroke="#000" stroke-width="0.8" />
<line x1="224.20" y1="436.20" x2="224.20" y2="439.20" stroke="#000" stroke-width="0.8" />
<line x1="187.00" y1="437.70" x2="187.00" y2="439.70" stroke="#000" stroke-width="1" />
<line x1="203.30" y1="437.70" x2="203.30" y2="439.70" stroke="#000" stroke-width="1" />
<line x1="219.60" y1="437.70" x2="219.60" y2="439.70" stroke="#000" stroke-width="1" />
<line x1="234.60" y1="437.70" x2="234.60" y2="439.70" stroke="#000" stroke-width="1" />
<line x1="249.70" y1="386.60" x2="249.70" y2="438.30" stroke="#000" stroke-width="1.3" />
<line x1="247.70" y1="437.70" x2="249.70" y2="437.70" stroke="#000" stroke-width="1" />
<line x1="247.70" y1="425.30" x2="249.70" y2="425.30" stroke="#000" stroke-width="1" />
<line x1="247.70" y1="412.90" x2="249.70" y2="412.90" stroke="#000" stroke-width="1" />
<line x1="247.70" y1="400.50" x2="249.70" y2="400.50" stroke="#000" stroke-width="1" />
<line x1="247.70" y1="388.10" x2="249.70" y2="388.10" stroke="#000" stroke-width="1" />
<line x1="249.10" y1="437.70" x2="299.40" y2="437.70" stroke="#000" stroke-width="1.3" />
<line x1="302.60" y1="437.70" x2="317.00" y2="437.70" stroke="#000" stroke-width="1.3" />
<line x1="299.40" y1="436.20" x2="299.40" y2="439.20" stroke="#000" stroke-width="0.8" />
<line x1="302.60" y1="436.20" x2="302.60" y2="439.20" stroke="#000" stroke-width="0.8" />
<line x1="266.00" y1="437.70" x2="266.00" y2="439.70" stroke="#000" stroke-width="1" />
<line x1="282.30" y1="437.70" x2="282.30" y2="439.70" stroke="#000" stroke-width="1" />
<line x1="314.50" y1="437.70" x2="314.50" y2="439.70" stroke="#000" stroke-width="1" />
<rect x="171.30" y="444.40" width="6.10" height="51.40" fill="#e6e6e6" stroke="none" stroke-width="1" />
<line x1="177.40" y1="444.40" x2="177.40" y2="495.80" stroke="#333" stroke-width="0.9" stroke-dasharray="0.9 2.1"/>
<line x1="170.70" y1="442.40" x2="170.70" y2="496.40" stroke="#000" stroke-width="1.3" />
<line x1="168.90" y1="495.80" x2="170.70" y2="495.80" stroke="#000" stroke-width="0.9" />
<line x1="168.90" y1="492.04" x2="170.70" y2="492.04" stroke="#000" stroke-width="0.9" />
<line x1="168.90" y1="488.28" x2="170.70" y2="488.28" stroke="#000" stroke-width="0.9" />
<line x1="168.90" y1="484.52" x2="170.70" y2="484.52" stroke="#000" stroke-width="0.9" />
<line x1="168.90" y1="480.76" x2="170.70" y2="480.76" stroke="#000" stroke-width="0.9" />
<line x1="168.90" y1="476.99" x2="170.70" y2="476.99" stroke="#000" stroke-width="0.9" />
<line x1="168.90" y1="473.23" x2="170.70" y2="473.23" stroke="#000" stroke-width="0.9" />
<line x1="168.90" y1="469.47" x2="170.70" y2="469.47" stroke="#000" stroke-width="0.9" />
<line x1="168.90" y1="465.71" x2="170.70" y2="465.71" stroke="#000" stroke-width="0.9" />
<line x1="168.90" y1="461.95" x2="170.70" y2="461.95" stroke="#000" stroke-width="0.9" />
<line x1="168.90" y1="458.19" x2="170.70" y2="458.19" stroke="#000" stroke-width="0.9" />
<line x1="168.90" y1="454.43" x2="170.70" y2="454.43" stroke="#000" stroke-width="0.9" />
<line x1="168.90" y1="450.67" x2="170.70" y2="450.67" stroke="#000" stroke-width="0.9" />
<line x1="168.90" y1="446.90" x2="170.70" y2="446.90" stroke="#000" stroke-width="0.9" />
<line x1="168.10" y1="458.00" x2="170.70" y2="458.00" stroke="#000" stroke-width="1" />
<line x1="168.10" y1="483.20" x2="170.70" y2="483.20" stroke="#000" stroke-width="1" />
<line x1="167.70" y1="445.40" x2="170.70" y2="445.40" stroke="#000" stroke-width="1" />
<text x="166.70" y="447.60" font-size="6.1" text-anchor="end" fill="#222" textLength="9.80" lengthAdjust="spacingAndGlyphs" >100</text>
<line x1="167.70" y1="470.60" x2="170.70" y2="470.60" stroke="#000" stroke-width="1" />
<text x="166.70" y="472.80" font-size="6.1" text-anchor="end" fill="#222" textLength="6.50" lengthAdjust="spacingAndGlyphs" >50</text>
<line x1="170.10" y1="495.80" x2="221.60" y2="495.80" stroke="#000" stroke-width="1.3" />
<line x1="224.20" y1="495.80" x2="237.20" y2="495.80" stroke="#000" stroke-width="1.3" />
<line x1="221.60" y1="494.30" x2="221.60" y2="497.30" stroke="#000" stroke-width="0.8" />
<line x1="224.20" y1="494.30" x2="224.20" y2="497.30" stroke="#000" stroke-width="0.8" />
<line x1="187.00" y1="495.80" x2="187.00" y2="497.80" stroke="#000" stroke-width="1" />
<line x1="203.30" y1="495.80" x2="203.30" y2="497.80" stroke="#000" stroke-width="1" />
<line x1="219.60" y1="495.80" x2="219.60" y2="497.80" stroke="#000" stroke-width="1" />
<line x1="234.60" y1="495.80" x2="234.60" y2="497.80" stroke="#000" stroke-width="1" />
<text x="170.70" y="504.80" font-size="6.1" text-anchor="middle" fill="#222" >0</text>
<text x="187.00" y="504.80" font-size="6.1" text-anchor="middle" fill="#222" >40</text>
<text x="203.30" y="504.80" font-size="6.1" text-anchor="middle" fill="#222" >80</text>
<text x="219.60" y="504.80" font-size="6.1" text-anchor="middle" fill="#222" >120</text>
<text x="234.60" y="504.80" font-size="6.1" text-anchor="middle" fill="#222" >300</text>
<line x1="249.70" y1="444.90" x2="249.70" y2="496.40" stroke="#000" stroke-width="1.3" />
<line x1="247.70" y1="495.80" x2="249.70" y2="495.80" stroke="#000" stroke-width="1" />
<line x1="247.70" y1="483.45" x2="249.70" y2="483.45" stroke="#000" stroke-width="1" />
<line x1="247.70" y1="471.10" x2="249.70" y2="471.10" stroke="#000" stroke-width="1" />
<line x1="247.70" y1="458.75" x2="249.70" y2="458.75" stroke="#000" stroke-width="1" />
<line x1="247.70" y1="446.40" x2="249.70" y2="446.40" stroke="#000" stroke-width="1" />
<line x1="249.10" y1="495.80" x2="299.40" y2="495.80" stroke="#000" stroke-width="1.3" />
<line x1="302.60" y1="495.80" x2="317.00" y2="495.80" stroke="#000" stroke-width="1.3" />
<line x1="299.40" y1="494.30" x2="299.40" y2="497.30" stroke="#000" stroke-width="0.8" />
<line x1="302.60" y1="494.30" x2="302.60" y2="497.30" stroke="#000" stroke-width="0.8" />
<line x1="266.00" y1="495.80" x2="266.00" y2="497.80" stroke="#000" stroke-width="1" />
<line x1="282.30" y1="495.80" x2="282.30" y2="497.80" stroke="#000" stroke-width="1" />
<line x1="314.50" y1="495.80" x2="314.50" y2="497.80" stroke="#000" stroke-width="1" />
<text x="249.70" y="504.80" font-size="6.1" text-anchor="middle" fill="#222" >0</text>
<text x="266.00" y="504.80" font-size="6.1" text-anchor="middle" fill="#222" >40</text>
<text x="282.30" y="504.80" font-size="6.1" text-anchor="middle" fill="#222" >80</text>
<text x="303.00" y="504.80" font-size="6.1" text-anchor="middle" fill="#222" >120</text>
<text x="316.00" y="504.80" font-size="6.1" text-anchor="middle" fill="#222" >300</text>
<text x="170" y="51.5" font-size="6.5" fill="#222" textLength="66.9" lengthAdjust="spacingAndGlyphs">hCD45<tspan dy="-2.3" font-size="4.5">+</tspan><tspan dy="2.3">hCD7</tspan><tspan dy="-2.3" font-size="4.5">+</tspan><tspan dy="2.3">or 19</tspan><tspan dy="-2.3" font-size="4.5">+</tspan><tspan dy="2.3">(%)</tspan></text>
<text x="266.10" y="50.40" font-size="6.6" fill="#222" textLength="34.60" lengthAdjust="spacingAndGlyphs" >Survival (%)</text>
<text x="292.00" y="103.20" font-size="6.8" fill="#222" textLength="27.80" lengthAdjust="spacingAndGlyphs" >p &lt; 0.005</text>
<text x="252.70" y="164.60" font-size="6.8" fill="#222" textLength="27.30" lengthAdjust="spacingAndGlyphs" >p &lt; 0.005</text>
<text x="296.90" y="225.60" font-size="6.8" fill="#222" textLength="20.70" lengthAdjust="spacingAndGlyphs" >p = n.s.</text>
<path d="M177.1,107.0 L180.1,99.3 L183.8,91.2 L187.7,85.1 L189.9,75.3 L193.9,67.8 L197.4,60.9" stroke="#2a3c94" stroke-width="1.265" fill="none" stroke-linejoin="round" />
<path d="M176.8,107.0 L179.7,98.0 L184.0,93.1 L185.9,83.9 L190.7,76.7 L192.8,68.9 L196.5,61.1" stroke="#2a3c94" stroke-width="1.265" fill="none" stroke-linejoin="round" />
<path d="M176.9,107.0 L180.0,100.3 L182.8,92.9 L186.4,85.2 L188.9,76.1 L192.9,69.2 L196.0,62.2" stroke="#2a3c94" stroke-width="1.265" fill="none" stroke-linejoin="round" />
<path d="M177.2,107.0 L180.0,99.7 L184.4,90.9 L188.2,84.0 L191.5,75.5 L194.0,68.0 L197.8,60.5" stroke="#2a3c94" stroke-width="1.265" fill="none" stroke-linejoin="round" />
<path d="M178.7,107.0 L182.0,100.9 L184.6,91.1 L188.0,85.4 L191.3,76.3 L194.6,69.8 L197.4,61.9" stroke="#2a3c94" stroke-width="1.265" fill="none" stroke-linejoin="round" />
<path d="M177.8,107.0 L180.9,99.6 L184.1,93.0 L186.5,83.3 L191.1,75.9 L193.3,69.5 L196.7,60.8" stroke="#2a3c94" stroke-width="1.265" fill="none" stroke-linejoin="round" />
<path d="M177.9,107.0 L181.3,98.3 L184.1,91.6 L188.6,83.7 L191.1,76.9 L194.5,67.2 L197.8,60.9" stroke="#2a3c94" stroke-width="1.265" fill="none" stroke-linejoin="round" />
<path d="M183.0,107.0 L186.3,100.2 L188.2,96.2 L189.6,91.4 L190.2,83.4 L193.8,82.0 L195.7,75.0 L197.9,69.6" stroke="#d4261e" stroke-width="1.15" fill="none" stroke-linejoin="round" />
<path d="M184.2,107.0 L186.4,101.4 L187.6,99.9 L188.7,94.0 L191.5,85.1 L193.9,80.5 L195.7,78.7 L196.5,72.3" stroke="#d4261e" stroke-width="1.15" fill="none" stroke-linejoin="round" />
<path d="M185.9,107.0 L186.1,105.5 L190.0,99.8 L189.7,93.3 L192.1,92.3 L193.2,85.3 L194.9,82.4 L197.5,76.8" stroke="#d4261e" stroke-width="1.15" fill="none" stroke-linejoin="round" />
<path d="M185.5,107.0 L187.0,105.2 L188.4,98.2 L189.4,95.3 L193.2,88.3 L192.7,83.1 L196.2,81.9 L196.9,74.4" stroke="#d4261e" stroke-width="1.15" fill="none" stroke-linejoin="round" />
<path d="M183.1,107.0 L183.9,100.6 L187.3,96.3 L187.7,88.6 L191.3,86.1 L191.4,80.1 L193.8,75.3 L195.9,70.6" stroke="#d4261e" stroke-width="1.15" fill="none" stroke-linejoin="round" />
<path d="M184.1,107.0 L185.4,100.0 L189.0,99.6 L190.9,95.3 L193.0,88.4 L193.4,87.0 L194.0,79.1 L197.4,77.0" stroke="#d4261e" stroke-width="1.15" fill="none" stroke-linejoin="round" />
<path d="M179.6,168.3 L187.6,168.3 L191.5,161.9 L195.9,151.0 L199.4,145.2 L202.5,138.2 L206.5,129.8" stroke="#2a3c94" stroke-width="1.15" fill="none" stroke-linejoin="round" />
<path d="M180.0,168.3 L188.0,168.3 L190.9,163.9 L195.4,157.2 L198.6,151.2 L202.9,142.9 L205.7,138.6" stroke="#2a3c94" stroke-width="1.15" fill="none" stroke-linejoin="round" />
<path d="M179.5,168.3 L187.5,168.3 L191.6,161.6 L193.4,158.3 L197.2,150.2 L200.9,146.6 L203.1,140.3" stroke="#2a3c94" stroke-width="1.15" fill="none" stroke-linejoin="round" />
<path d="M181.7,168.3 L189.7,168.3 L193.9,163.3 L196.6,157.7 L198.7,148.3 L202.0,142.8 L205.8,137.7" stroke="#2a3c94" stroke-width="1.15" fill="none" stroke-linejoin="round" />
<path d="M181.0,168.3 L189.0,168.3 L192.2,163.4 L196.8,156.4 L200.5,149.6 L202.4,145.2 L206.6,139.7" stroke="#2a3c94" stroke-width="1.15" fill="none" stroke-linejoin="round" />
<path d="M179.8,168.3 L187.8,168.3 L191.4,162.4 L194.2,159.4 L196.7,152.9 L199.1,149.0 L202.2,144.5" stroke="#2a3c94" stroke-width="1.15" fill="none" stroke-linejoin="round" />
<path d="M180.1,168.3 L188.1,168.3 L191.7,162.7 L194.7,157.7 L196.2,151.0 L200.2,148.7 L202.4,141.3" stroke="#2a3c94" stroke-width="1.15" fill="none" stroke-linejoin="round" />
<path d="M202.7,168.3 L216.7,168.3 L219.4,165.7 L220.1,157.5 L222.5,156.5 L224.0,151.6 L226.6,146.1" stroke="#d4261e" stroke-width="1.035" fill="none" stroke-linejoin="round" />
<path d="M203.0,168.3 L217.0,168.3 L218.7,158.9 L221.7,154.2 L222.3,146.0 L224.0,137.8 L226.7,130.9" stroke="#d4261e" stroke-width="1.035" fill="none" stroke-linejoin="round" />
<path d="M200.2,168.3 L214.2,168.3 L216.1,160.2 L218.8,153.5 L220.4,143.4 L224.6,135.4 L226.1,129.6" stroke="#d4261e" stroke-width="1.035" fill="none" stroke-linejoin="round" />
<path d="M200.4,168.3 L214.4,168.3 L218.0,161.8 L220.0,154.9 L221.8,149.1 L224.5,143.9 L227.5,136.5" stroke="#d4261e" stroke-width="1.035" fill="none" stroke-linejoin="round" />
<path d="M200.3,168.3 L214.3,168.3 L216.9,159.9 L220.1,151.0 L222.3,145.8 L224.9,138.0 L228.0,129.5" stroke="#d4261e" stroke-width="1.035" fill="none" stroke-linejoin="round" />
<path d="M203.4,168.3 L217.4,168.3 L220.0,163.0 L223.5,157.6 L225.8,154.7 L228.8,149.4 L232.3,142.5" stroke="#d4261e" stroke-width="1.035" fill="none" stroke-linejoin="round" />
<path d="M176.4,229.0 L179.1,214.0 L181.5,191.7 L183.2,180.2 L189.5,180.2" stroke="#2a3c94" stroke-width="1.8399999999999999" fill="none" stroke-linejoin="round" />
<path d="M175.7,229.0 L179.4,212.0 L182.7,190.6 L185.0,180.2 L189.5,180.2" stroke="#2a3c94" stroke-width="1.8399999999999999" fill="none" stroke-linejoin="round" />
<path d="M175.4,229.0 L178.9,210.5 L182.0,194.5 L184.3,180.2 L189.5,180.2" stroke="#2a3c94" stroke-width="1.8399999999999999" fill="none" stroke-linejoin="round" />
<path d="M177.4,229.0 L179.8,210.6 L181.9,190.0 L183.4,180.2 L189.5,180.2" stroke="#2a3c94" stroke-width="1.8399999999999999" fill="none" stroke-linejoin="round" />
<path d="M177.1,229.0 L179.8,213.8 L182.1,192.3 L183.8,180.2 L189.5,180.2" stroke="#2a3c94" stroke-width="1.8399999999999999" fill="none" stroke-linejoin="round" />
<path d="M177.3,229.0 L179.9,210.0 L182.1,194.1 L183.7,180.2 L189.5,180.2" stroke="#2a3c94" stroke-width="1.8399999999999999" fill="none" stroke-linejoin="round" />
<path d="M184.5,180.2 L189.5,180.2" stroke="#b03030" stroke-width="1.15" fill="none" stroke-linejoin="round" />
<line x1="170.70" y1="229.00" x2="176.00" y2="229.00" stroke="#2a3c94" stroke-width="1.4" />
<path d="M200.0,310.0 L218.5,310.0" stroke="#3f8a3c" stroke-width="1.265" fill="none" stroke-linejoin="round" />
<path d="M224.5,310.0 L236.5,310.0" stroke="#3f8a3c" stroke-width="1.265" fill="none" stroke-linejoin="round" />
<path d="M176.6,310.0 L182.6,310.0 L185.3,302.5 L187.0,296.6 L188.3,291.9 L188.6,287.9 L190.2,280.5 L192.7,276.2" stroke="#2a3c94" stroke-width="1.265" fill="none" stroke-linejoin="round" />
<path d="M175.7,310.0 L181.7,310.0 L184.9,302.9 L186.0,299.3 L188.8,294.6 L189.8,290.0 L191.6,286.7 L194.3,278.6" stroke="#2a3c94" stroke-width="1.265" fill="none" stroke-linejoin="round" />
<path d="M175.6,310.0 L181.6,310.0 L182.8,304.9 L185.3,300.3 L187.9,289.9 L190.6,286.5 L193.4,281.5 L195.4,273.9" stroke="#2a3c94" stroke-width="1.265" fill="none" stroke-linejoin="round" />
<path d="M173.0,310.0 L179.0,310.0 L182.2,304.5 L185.2,296.7 L187.0,292.3 L190.4,288.0 L193.1,280.1 L196.2,274.5" stroke="#2a3c94" stroke-width="1.265" fill="none" stroke-linejoin="round" />
<path d="M176.6,310.0 L182.6,310.0 L185.7,307.2 L187.0,298.8 L191.7,295.4 L194.1,285.4 L195.8,281.0 L198.9,276.6" stroke="#2a3c94" stroke-width="1.265" fill="none" stroke-linejoin="round" />
<path d="M176.4,310.0 L182.4,310.0 L185.1,303.2 L187.5,295.1 L189.9,290.9 L190.1,286.7 L192.3,278.5 L195.1,272.7" stroke="#2a3c94" stroke-width="1.265" fill="none" stroke-linejoin="round" />
<path d="M180.0,310.0 L196.3,310.0 L197.6,302.8 L198.3,295.8 L199.6,288.5 L200.2,278.8" stroke="#d4261e" stroke-width="1.265" fill="none" stroke-linejoin="round" />
<path d="M180.0,310.0 L196.9,310.0 L198.0,300.7 L200.6,296.2 L201.8,285.7 L202.8,279.4" stroke="#d4261e" stroke-width="1.265" fill="none" stroke-linejoin="round" />
<path d="M180.0,310.0 L196.0,310.0 L198.3,301.0 L199.0,294.6 L200.7,290.1 L202.5,281.6" stroke="#d4261e" stroke-width="1.265" fill="none" stroke-linejoin="round" />
<path d="M180.0,310.0 L195.0,310.0 L197.1,303.1 L197.9,293.4 L198.5,285.4 L200.4,276.1" stroke="#d4261e" stroke-width="1.265" fill="none" stroke-linejoin="round" />
<path d="M198.0,310.0 L202.0,302.3 L205.0,297.1 L208.0,295.6" stroke="#d4261e" stroke-width="1.15" fill="none" stroke-linejoin="round" />
<path d="M199.0,310.0 L202.0,297.1 L204.0,289.4 L206.0,292.0 L208.0,283.3" stroke="#b9b9b9" stroke-width="1.035" fill="none" stroke-linejoin="round" />
<path d="M200.0,310.0 L203.0,300.7 L205.0,294.6 L207.0,295.6 L208.5,288.4" stroke="#b9b9b9" stroke-width="1.035" fill="none" stroke-linejoin="round" />
<path d="M174.0,370.3 L180.0,370.3 L182.5,367.3 L185.3,362.8 L189.9,358.1 L192.2,358.1 L196.2,354.8 L199.4,350.0" stroke="#2a3c94" stroke-width="1.15" fill="none" stroke-linejoin="round" />
<path d="M175.3,370.3 L181.3,370.3 L184.3,363.5 L187.1,360.2 L188.2,353.4 L191.2,350.2 L192.6,347.0 L195.1,340.8" stroke="#2a3c94" stroke-width="1.15" fill="none" stroke-linejoin="round" />
<path d="M173.4,370.3 L179.4,370.3 L183.4,366.4 L187.4,361.4 L190.8,361.6 L193.1,355.3 L196.0,352.1 L199.9,348.5" stroke="#2a3c94" stroke-width="1.15" fill="none" stroke-linejoin="round" />
<path d="M174.4,370.3 L180.4,370.3 L183.1,367.2 L185.6,364.2 L189.6,359.1 L191.8,355.9 L194.4,355.2 L197.5,350.1" stroke="#2a3c94" stroke-width="1.15" fill="none" stroke-linejoin="round" />
<path d="M173.0,370.3 L179.0,370.3 L182.7,363.6 L184.5,357.9 L187.1,354.1 L189.7,349.9 L193.8,347.8 L195.4,341.9" stroke="#2a3c94" stroke-width="1.15" fill="none" stroke-linejoin="round" />
<path d="M173.7,370.3 L179.7,370.3 L182.4,368.7 L185.6,361.6 L188.7,354.4 L192.3,350.6 L196.1,345.9 L198.3,342.8" stroke="#2a3c94" stroke-width="1.15" fill="none" stroke-linejoin="round" />
<path d="M180.0,370.3 L192.0,370.3 L195.5,364.4 L198.1,359.3 L201.8,352.3 L205.3,347.7 L208.4,342.8 L211.0,339.6" stroke="#d4261e" stroke-width="1.15" fill="none" stroke-linejoin="round" />
<path d="M180.0,370.3 L192.6,370.3 L195.7,363.5 L197.8,363.4 L201.0,356.9 L202.7,355.1 L205.3,346.4 L207.8,343.4" stroke="#d4261e" stroke-width="1.15" fill="none" stroke-linejoin="round" />
<path d="M180.0,370.3 L191.5,370.3 L193.1,365.1 L198.0,358.8 L199.5,353.7 L202.7,351.5 L204.4,342.2 L207.8,339.4" stroke="#d4261e" stroke-width="1.15" fill="none" stroke-linejoin="round" />
<path d="M180.0,370.3 L190.6,370.3 L193.2,365.7 L195.6,358.0 L197.3,353.0 L201.1,346.6 L202.5,342.4 L205.6,337.6" stroke="#d4261e" stroke-width="1.15" fill="none" stroke-linejoin="round" />
<path d="M180.0,370.3 L190.4,370.3 L194.3,363.7 L196.3,363.3 L201.1,356.0 L203.9,355.8 L207.3,347.9 L209.5,344.3" stroke="#d4261e" stroke-width="1.15" fill="none" stroke-linejoin="round" />
<path d="M196.0,370.3 L200.0,367.3 L204.0,364.2 L207.0,363.2 L209.0,357.7 L211.0,355.1 L213.0,356.7" stroke="#b0322a" stroke-width="1.15" fill="none" stroke-linejoin="round" />
<path d="M198.0,370.3 L205.0,369.3 L210.0,368.8 L214.0,367.3" stroke="#b0322a" stroke-width="1.15" fill="none" stroke-linejoin="round" />
<path d="M197.0,370.3 L200.0,362.7 L202.0,355.1 L204.0,347.6 L206.0,350.1" stroke="#b9b9b9" stroke-width="1.035" fill="none" stroke-linejoin="round" />
<path d="M225.5,370.3 L226.8,368.8 L228.4,355.1 L229.6,364.2 L231.2,354.1 L231.8,360.2" stroke="#3f8a3c" stroke-width="1.38" fill="none" stroke-linejoin="round" />
<path d="M224.5,370.3 L227.0,370.3" stroke="#3f8a3c" stroke-width="1.265" fill="none" stroke-linejoin="round" />
<path d="M179.3,437.7 L182.3,422.5 L184.4,408.3 L186.2,402.4 L190.3,398.5 L193.4,398.0 L196.0,399.0 L199.1,398.3 L202.4,396.5 L204.8,393.4" stroke="#2a3c94" stroke-width="1.15" fill="none" stroke-linejoin="round" />
<path d="M178.7,437.7 L181.3,425.7 L183.5,411.4 L185.4,404.5 L189.6,400.3 L193.2,398.9 L195.8,401.4 L198.3,399.5 L201.8,398.3 L204.4,395.1" stroke="#2a3c94" stroke-width="1.15" fill="none" stroke-linejoin="round" />
<path d="M179.0,437.7 L181.4,424.9 L184.4,410.1 L186.6,404.0 L190.4,399.5 L193.0,399.4 L196.5,401.2 L199.1,398.4 L201.2,398.7 L204.6,395.7" stroke="#2a3c94" stroke-width="1.15" fill="none" stroke-linejoin="round" />
<path d="M178.6,437.7 L181.6,422.4 L183.3,410.2 L185.4,404.6 L189.8,401.2 L193.1,398.3 L195.4,400.0 L197.8,397.2 L200.8,398.9 L203.6,395.3" stroke="#2a3c94" stroke-width="1.15" fill="none" stroke-linejoin="round" />
<path d="M180.3,437.7 L182.7,420.4 L185.2,408.1 L187.9,401.2 L190.8,397.0 L194.6,397.2 L197.7,399.6 L199.7,397.3 L202.5,396.8 L205.4,392.6" stroke="#2a3c94" stroke-width="1.15" fill="none" stroke-linejoin="round" />
<path d="M184.9,437.7 L189.0,419.5 L190.8,413.8 L194.0,404.7 L196.1,408.8 L199.0,407.7 L203.9,400.8 L207.7,399.2 L211.3,393.6 L215.1,394.1 L222.6,391.5 L222.1,394.3" stroke="#d4261e" stroke-width="1.15" fill="none" stroke-linejoin="round" />
<path d="M184.6,437.7 L188.3,418.6 L190.1,412.7 L193.6,403.0 L195.5,407.2 L199.1,405.9 L203.8,401.5 L207.2,399.8 L210.6,393.8 L214.6,391.8 L222.9,392.5 L222.0,392.3" stroke="#d4261e" stroke-width="1.15" fill="none" stroke-linejoin="round" />
<path d="M186.4,437.7 L190.1,418.4 L191.8,415.5 L195.3,401.6 L197.4,407.5 L200.3,405.5 L205.1,400.6 L209.3,398.2 L211.9,393.0 L216.9,390.9 L224.8,391.5 L224.1,392.9" stroke="#d4261e" stroke-width="1.15" fill="none" stroke-linejoin="round" />
<path d="M184.8,437.7 L188.8,417.4 L190.6,413.1 L194.6,402.5 L195.8,409.2 L199.3,405.4 L203.2,400.7 L208.4,398.5 L211.1,393.3 L215.4,391.7 L223.0,390.9 L221.9,393.3" stroke="#d4261e" stroke-width="1.15" fill="none" stroke-linejoin="round" />
<path d="M184.1,437.7 L187.7,419.7 L190.1,414.3 L193.6,401.8 L194.6,410.7 L198.3,405.6 L202.6,402.5 L207.6,399.5 L210.0,392.1 L214.2,391.8 L222.0,392.5 L221.9,393.1" stroke="#d4261e" stroke-width="1.15" fill="none" stroke-linejoin="round" />
<path d="M195.0,437.7 L199.4,424.4 L201.8,417.7 L206.9,410.0 L211.1,403.6 L213.5,402.9 L218.1,399.5 L223.6,396.5" stroke="#b9b9b9" stroke-width="1.265" fill="none" stroke-linejoin="round" />
<path d="M194.3,437.7 L198.4,422.4 L201.9,417.4 L205.4,412.1 L210.5,405.9 L213.2,401.2 L217.2,397.5 L222.6,396.9" stroke="#b9b9b9" stroke-width="1.265" fill="none" stroke-linejoin="round" />
<path d="M193.8,437.7 L198.4,426.1 L200.5,420.6 L205.4,412.7 L209.7,406.0 L212.8,402.0 L217.0,401.2 L222.5,398.7" stroke="#b9b9b9" stroke-width="1.265" fill="none" stroke-linejoin="round" />
<path d="M192.4,437.7 L196.9,424.5 L199.3,417.8 L204.1,410.7 L208.3,403.8 L211.0,400.6 L215.9,399.7 L221.7,395.2" stroke="#b9b9b9" stroke-width="1.265" fill="none" stroke-linejoin="round" />
<path d="M195.3,437.7 L201.9,437.1 L204.6,425.4 L207.9,412.4 L210.9,403.2 L214.9,400.9 L222.2,396.5 L225.7,395.3" stroke="#3f8a3c" stroke-width="1.15" fill="none" stroke-linejoin="round" />
<path d="M195.4,437.7 L202.4,435.5 L205.0,423.3 L207.5,410.7 L211.0,402.2 L214.5,398.8 L222.2,395.3 L225.7,396.0" stroke="#3f8a3c" stroke-width="1.15" fill="none" stroke-linejoin="round" />
<path d="M196.6,437.7 L203.4,437.7 L206.0,425.9 L208.6,415.6 L211.8,403.6 L216.5,400.6 L223.8,398.7 L227.4,398.4" stroke="#3f8a3c" stroke-width="1.15" fill="none" stroke-linejoin="round" />
<path d="M224.5,400.9 L225.0,392.7 L225.6,401.9 L226.2,394.3" stroke="#3f8a3c" stroke-width="1.15" fill="none" stroke-linejoin="round" />
<path d="M224.2,437.7 L236.5,437.7" stroke="#3f8a3c" stroke-width="1.035" fill="none" stroke-linejoin="round" />
<path d="M178.7,495.8 L183.0,476.6 L188.1,457.5 L190.3,455.5 L193.9,454.0 L196.0,456.0 L199.6,458.0 L203.2,457.0 L206.8,454.0" stroke="#2a3c94" stroke-width="1.15" fill="none" stroke-linejoin="round" />
<path d="M179.5,495.8 L183.5,478.2 L186.6,464.6 L190.0,465.6 L193.9,467.1 L197.5,461.5 L200.5,465.6 L204.0,465.1 L206.0,468.1" stroke="#2a3c94" stroke-width="1.15" fill="none" stroke-linejoin="round" />
<path d="M181.0,495.8 L184.5,480.7 L188.1,468.6 L192.4,470.1 L196.0,474.6 L199.6,479.2 L202.5,473.1 L205.4,470.1" stroke="#2a3c94" stroke-width="1.15" fill="none" stroke-linejoin="round" />
<path d="M182.5,495.8 L185.5,481.7 L188.8,466.6 L193.5,469.6 L198.2,473.1 L201.0,466.1 L204.7,463.0" stroke="#2a3c94" stroke-width="1.15" fill="none" stroke-linejoin="round" />
<path d="M180.0,495.8 L184.0,479.7 L187.5,462.5 L191.0,460.5 L195.0,463.5 L198.5,460.5 L202.0,464.6 L205.5,460.5" stroke="#2a3c94" stroke-width="1.15" fill="none" stroke-linejoin="round" />
<path d="M187.4,495.8 L193.4,486.0 L198.6,475.0 L205.0,468.8 L210.5,462.6 L214.3,459.1 L219.2,463.1 L223.8,458.0" stroke="#d4261e" stroke-width="1.15" fill="none" stroke-linejoin="round" />
<path d="M187.6,495.8 L193.9,487.9 L199.4,478.1 L204.4,472.0 L210.7,465.5 L215.4,461.8 L218.9,463.4 L223.3,458.6" stroke="#d4261e" stroke-width="1.15" fill="none" stroke-linejoin="round" />
<path d="M188.0,495.8 L193.6,486.6 L199.2,477.8 L205.7,470.2 L211.4,463.2 L215.9,458.1 L220.0,461.5 L224.2,457.1" stroke="#d4261e" stroke-width="1.15" fill="none" stroke-linejoin="round" />
<path d="M193.5,495.8 L197.2,490.0 L201.3,480.4 L207.1,474.4 L211.4,467.3 L216.3,465.8 L219.4,467.7 L224.7,455.4" stroke="#d4261e" stroke-width="1.38" fill="none" stroke-linejoin="round" />
<path d="M194.6,495.8 L198.0,488.3 L201.7,481.1 L208.3,473.5 L212.3,467.9 L216.7,464.1 L220.8,466.1 L225.4,458.0" stroke="#d4261e" stroke-width="1.38" fill="none" stroke-linejoin="round" />
<path d="M193.3,495.8 L197.0,488.0 L200.9,479.5 L207.4,471.1 L211.2,463.9 L216.1,463.6 L220.1,464.9 L224.2,456.1" stroke="#d4261e" stroke-width="1.38" fill="none" stroke-linejoin="round" />
<path d="M195.7,495.8 L198.7,489.6 L203.4,483.0 L209.8,476.8 L213.5,469.0 L217.9,467.8 L221.7,468.3 L227.1,456.8" stroke="#d4261e" stroke-width="1.38" fill="none" stroke-linejoin="round" />
<path d="M199.0,465.6 L204.0,458.0 L208.0,456.0 L212.6,454.0 L216.0,453.0 L219.8,452.0 L224.9,450.4" stroke="#d4261e" stroke-width="1.15" fill="none" stroke-linejoin="round" />
<path d="M190.2,495.8 L193.5,489.0 L199.0,481.6 L202.8,477.6 L209.4,467.3 L213.7,462.3 L218.7,464.4 L226.7,461.7" stroke="#b9b9b9" stroke-width="1.265" fill="none" stroke-linejoin="round" />
<path d="M189.6,495.8 L193.4,492.6 L198.5,481.7 L202.1,477.3 L208.5,467.9 L212.8,464.2 L218.0,464.1 L226.1,463.0" stroke="#b9b9b9" stroke-width="1.265" fill="none" stroke-linejoin="round" />
<path d="M188.3,495.8 L191.3,492.1 L196.6,482.7 L201.4,479.4 L207.1,470.2 L211.4,465.0 L216.5,467.1 L224.3,462.0" stroke="#b9b9b9" stroke-width="1.265" fill="none" stroke-linejoin="round" />
<path d="M206.9,495.8 L212.9,487.0 L218.8,482.7 L223.8,479.6 L226.8,470.2 L228.3,464.3" stroke="#3f8a3c" stroke-width="1.15" fill="none" stroke-linejoin="round" />
<path d="M208.5,495.8 L214.8,491.0 L219.2,488.2 L223.4,486.2 L224.7,472.9 L226.5,487.9 L227.1,470.5 L228.5,479.2 L228.8,467.4" stroke="#3f8a3c" stroke-width="1.15" fill="none" stroke-linejoin="round" />
<path d="M206.9,495.8 L212.2,485.6 L218.9,482.4 L224.1,476.5 L226.8,470.7 L228.1,462.4" stroke="#3f8a3c" stroke-width="1.15" fill="none" stroke-linejoin="round" />
<path d="M209.5,495.8 L216.1,491.9 L220.5,488.6 L224.0,486.7 L225.6,474.6 L226.6,487.6 L227.8,470.6 L229.6,480.7 L230.0,469.5" stroke="#3f8a3c" stroke-width="1.15" fill="none" stroke-linejoin="round" />
<path d="M224.5,490.8 L225.5,475.6 L226.5,488.2 L227.5,473.1 L228.5,485.7 L229.5,466.6" stroke="#3f8a3c" stroke-width="1.15" fill="none" stroke-linejoin="round" />
<path d="M249.7,56.8 L267.0,56.8 L267.0,65.2 L267.6,65.2 L267.6,73.5 L268.9,73.5 L268.9,81.9 L269.7,81.9 L269.7,90.3 L270.3,90.3 L270.3,98.6 L271.3,98.6 L271.3,107.0" stroke="#d4261e" stroke-width="1.3" fill="none" stroke-linejoin="round" />
<path d="M249.7,56.8 L263.5,56.8 L263.5,66.8 L264.2,66.8 L264.2,76.9 L264.7,76.9 L264.7,86.9 L264.6,86.9 L264.6,97.0 L265.3,97.0 L265.3,107.0" stroke="#2a3c94" stroke-width="1.3" fill="none" stroke-linejoin="round" />
<text x="271.00" y="66.80" font-size="6.6" fill="#111" stroke="#111" stroke-width="0.2">*</text>
<path d="M249.7,117.7 L302.1,117.7 L302.1,127.8 L303.5,127.8 L303.5,137.9 L304.5,137.9 L304.5,143.0 L305.0,143.0 L305.0,150.6 L306.0,150.6 L306.0,158.2 L309.5,158.2 L309.5,168.3" stroke="#d4261e" stroke-width="1.3" fill="none" stroke-linejoin="round" />
<path d="M249.7,117.7 L276.8,117.7 L276.8,124.9 L277.6,124.9 L277.6,132.2 L278.7,132.2 L278.7,139.4 L279.6,139.4 L279.6,146.6 L280.7,146.6 L280.7,153.8 L281.6,153.8 L281.6,161.1 L282.5,161.1 L282.5,168.3" stroke="#2a3c94" stroke-width="1.3" fill="none" stroke-linejoin="round" />
<text x="306.30" y="124.40" font-size="6.6" fill="#111" stroke="#111" stroke-width="0.2">*</text>
<text x="309.00" y="124.40" font-size="6.6" fill="#111" stroke="#111" stroke-width="0.2">*</text>
<path d="M249.7,179.5 L257.6,179.5 L259.9,229.0" stroke="#4a3a8a" stroke-width="1.5" fill="none" stroke-linejoin="round" />
<path d="M249.7,261.1 L298.8,261.1" stroke="#3f8a3c" stroke-width="1.3" fill="none" stroke-linejoin="round" />
<path d="M301.8,261.1 L313.5,261.1" stroke="#3f8a3c" stroke-width="1.3" fill="none" stroke-linejoin="round" />
<path d="M249.7,261.1 L278.9,261.1 L278.9,268.0 L279.1,268.0 L279.1,275.0 L279.4,275.0 L279.4,281.9 L280.0,281.9 L280.0,288.8 L280.2,288.8 L280.2,295.7 L280.8,295.7 L280.8,302.7 L289.8,302.7 L289.8,310.0" stroke="#d4261e" stroke-width="1.3" fill="none" stroke-linejoin="round" />
<path d="M284.1,302.7 L284.1,310.0" stroke="#b9b9b9" stroke-width="1.0" fill="none" stroke-linejoin="round" />
<path d="M249.7,261.1 L266.6,261.1 L266.6,267.2 L267.7,267.2 L267.7,273.3 L268.7,273.3 L268.7,279.4 L269.7,279.4 L269.7,285.6 L270.8,285.6 L270.8,291.7 L271.7,291.7 L271.7,297.8 L272.8,297.8 L272.8,303.9 L273.5,303.9 L273.5,310.0" stroke="#2a3c94" stroke-width="1.3" fill="none" stroke-linejoin="round" />
<text x="282.60" y="270.60" font-size="6.6" fill="#111" stroke="#111" stroke-width="0.2">*</text>
<text x="282.60" y="283.30" font-size="6.6" fill="#111" stroke="#111" stroke-width="0.2">*</text>
<text x="305.30" y="261.20" font-size="6.6" fill="#111" stroke="#111" stroke-width="0.2">*</text>
<text x="308.00" y="261.20" font-size="6.6" fill="#111" stroke="#111" stroke-width="0.2">*</text>
<path d="M249.7,321.8 L300.5,321.8" stroke="#3f8a3c" stroke-width="1.3" fill="none" stroke-linejoin="round" />
<path d="M302.9,321.8 L311.1,321.8 L311.1,330.5 L314.3,330.5" stroke="#3f8a3c" stroke-width="1.3" fill="none" stroke-linejoin="round" />
<path d="M249.7,321.8 L280.0,321.8 L280.5,346.1 L282.0,370.3" stroke="#b9b9b9" stroke-width="1.2" fill="none" stroke-linejoin="round" />
<path d="M249.7,321.8 L261.2,321.8 L261.2,327.2 L262.9,327.2 L262.9,332.6 L264.5,332.6 L264.5,338.0 L265.8,338.0 L265.8,343.4 L267.2,343.4 L267.2,348.7 L268.6,348.7 L268.6,354.1 L270.5,354.1 L270.5,359.5 L271.9,359.5 L271.9,364.9 L273.5,364.9 L273.5,370.3" stroke="#2a3c94" stroke-width="1.3" fill="none" stroke-linejoin="round" />
<path d="M249.7,321.8 L263.7,321.8 L263.7,328.1 L267.0,328.1 L267.0,334.4 L270.2,334.4 L270.2,339.7 L272.7,339.7 L272.7,345.1 L275.1,345.1 L275.1,352.4 L281.7,352.4 L281.7,358.7 L284.5,358.7 L284.5,364.0 L287.4,364.0 L287.4,370.3" stroke="#d4261e" stroke-width="1.3" fill="none" stroke-linejoin="round" />
<text x="272.30" y="329.70" font-size="6.6" fill="#111" stroke="#111" stroke-width="0.2">*</text>
<text x="286.20" y="329.70" font-size="6.6" fill="#111" stroke="#111" stroke-width="0.2">*</text>
<text x="302.50" y="329.70" font-size="6.6" fill="#111" stroke="#111" stroke-width="0.2">*</text>
<text x="305.20" y="329.70" font-size="6.6" fill="#111" stroke="#111" stroke-width="0.2">*</text>
<path d="M249.7,388.1 L285.0,388.1 L285.0,404.5 L298.8,404.5" stroke="#3f8a3c" stroke-width="1.3" fill="none" stroke-linejoin="round" />
<path d="M302.4,404.5 L314.3,404.5" stroke="#3f8a3c" stroke-width="1.3" fill="none" stroke-linejoin="round" />
<path d="M249.7,388.1 L277.3,388.1 L277.3,398.0 L277.7,398.0 L277.7,407.9 L278.0,407.9 L278.0,417.9 L278.8,417.9 L278.8,427.8 L279.2,427.8 L279.2,437.7" stroke="#b9b9b9" stroke-width="1.3" fill="none" stroke-linejoin="round" />
<path d="M249.7,388.1 L267.5,388.1 L267.5,398.0 L267.8,398.0 L267.8,407.9 L268.7,407.9 L268.7,417.9 L268.7,417.9 L268.7,427.8 L269.4,427.8 L269.4,437.7" stroke="#d4261e" stroke-width="1.3" fill="none" stroke-linejoin="round" />
<path d="M249.7,388.1 L261.2,388.1 L261.2,398.0 L261.5,398.0 L261.5,407.9 L261.7,407.9 L261.7,417.9 L261.9,417.9 L261.9,427.8 L262.4,427.8 L262.4,437.7" stroke="#2a3c94" stroke-width="1.3" fill="none" stroke-linejoin="round" />
<text x="269.80" y="404.50" font-size="6.6" fill="#111" stroke="#111" stroke-width="0.2">*</text>
<text x="279.60" y="404.50" font-size="6.6" fill="#111" stroke="#111" stroke-width="0.2">*</text>
<text x="303.30" y="404.50" font-size="6.6" fill="#111" stroke="#111" stroke-width="0.2">*</text>
<text x="306.00" y="404.50" font-size="6.6" fill="#111" stroke="#111" stroke-width="0.2">*</text>
<path d="M249.7,446.4 L293.1,446.4 L293.1,452.3 L293.8,452.3 L293.8,458.8 L294.7,458.8 L294.7,471.1 L305.0,471.1 L305.0,483.4 L305.4,483.4 L305.4,495.8" stroke="#3f8a3c" stroke-width="1.3" fill="none" stroke-linejoin="round" />
<path d="M249.7,446.4 L275.1,446.4 L275.1,456.3 L276.0,456.3 L276.0,466.2 L276.7,466.2 L276.7,476.0 L277.6,476.0 L277.6,485.9 L278.4,485.9 L278.4,495.8" stroke="#b9b9b9" stroke-width="1.3" fill="none" stroke-linejoin="round" />
<path d="M249.7,446.4 L274.3,446.4 L274.3,456.3 L280.0,456.3 L280.0,466.2 L280.6,466.2 L280.6,476.0 L281.0,476.0 L281.0,485.9 L283.8,485.9 L283.8,495.8" stroke="#d4261e" stroke-width="1.3" fill="none" stroke-linejoin="round" />
<path d="M249.7,446.4 L260.8,446.4 L260.8,452.3 L261.5,452.3 L261.5,458.8 L262.0,458.8 L262.0,466.2 L262.5,466.2 L262.5,476.0 L265.5,476.0 L265.5,485.9 L266.0,485.9 L266.0,495.8" stroke="#2a3c94" stroke-width="1.3" fill="none" stroke-linejoin="round" />
<text x="268.70" y="468.60" font-size="6.6" fill="#111" stroke="#111" stroke-width="0.2">*</text>
<text x="286.20" y="468.60" font-size="6.6" fill="#111" stroke="#111" stroke-width="0.2">*</text>
<text x="300.60" y="468.60" font-size="6.6" fill="#111" stroke="#111" stroke-width="0.2">*</text>
<text x="181.30" y="516.70" font-size="9.6" fill="#222" textLength="110.00" lengthAdjust="spacingAndGlyphs" stroke="#222" stroke-width="0.22" >Time post transplantation (days)</text>
<line x1="169.00" y1="532.00" x2="183.40" y2="532.00" stroke="#2a3c94" stroke-width="1.6" />
<text x="185.90" y="534.20" font-size="8" fill="#222" textLength="21.20" lengthAdjust="spacingAndGlyphs" stroke="#222" stroke-width="0.22" >Control</text>
<line x1="169.00" y1="541.60" x2="183.40" y2="541.60" stroke="#d4261e" stroke-width="1.6" />
<text x="185.90" y="543.90" font-size="8" fill="#222" textLength="32.20" lengthAdjust="spacingAndGlyphs" stroke="#222" stroke-width="0.22" >Venetoclax</text>
<line x1="224.00" y1="532.20" x2="238.20" y2="532.20" stroke="#bdbdbd" stroke-width="1.6" />
<text x="240.80" y="534.20" font-size="8" fill="#222" textLength="34.80" lengthAdjust="spacingAndGlyphs" stroke="#222" stroke-width="0.22" >DEX + VCR</text>
<line x1="224.00" y1="541.80" x2="238.20" y2="541.80" stroke="#3f8a3c" stroke-width="1.6" />
<text x="240.80" y="543.70" font-size="8" fill="#222" textLength="74.20" lengthAdjust="spacingAndGlyphs" stroke="#222" stroke-width="0.22" >DEX + VCR + Venetoclax</text>
<rect x="224.50" y="546.80" width="13.80" height="9.20" fill="#dcdcdc" stroke="#111" stroke-width="1.1" stroke-dasharray="1.4 1"/>
<text x="240.80" y="554.00" font-size="8" fill="#222" textLength="50.30" lengthAdjust="spacingAndGlyphs" stroke="#222" stroke-width="0.22" >Treatment blocks</text>
<text x="325.60" y="545.70" font-size="8.5" fill="#222" stroke="#222" stroke-width="0.22" stroke="#222" stroke-width="0.3">*</text>
<text x="331.90" y="546.80" font-size="8.4" fill="#222" textLength="31.00" lengthAdjust="spacingAndGlyphs" stroke="#222" stroke-width="0.22" >HR ≤ 20</text>
<text x="325.00" y="558.90" font-size="8.5" fill="#222" textLength="6.20" lengthAdjust="spacingAndGlyphs" stroke="#222" stroke-width="0.22" stroke="#222" stroke-width="0.3">**</text>
<text x="335.00" y="559.20" font-size="8.4" fill="#222" textLength="31.40" lengthAdjust="spacingAndGlyphs" stroke="#222" stroke-width="0.22" >HR &gt; 20</text>
<line x1="369.50" y1="23.50" x2="369.50" y2="113.90" stroke="#000" stroke-width="1.6" />
<line x1="367.70" y1="113.30" x2="369.50" y2="113.30" stroke="#000" stroke-width="0.8" />
<line x1="367.70" y1="111.51" x2="369.50" y2="111.51" stroke="#000" stroke-width="0.8" />
<line x1="367.70" y1="109.72" x2="369.50" y2="109.72" stroke="#000" stroke-width="0.8" />
<line x1="367.70" y1="107.93" x2="369.50" y2="107.93" stroke="#000" stroke-width="0.8" />
<line x1="367.70" y1="106.14" x2="369.50" y2="106.14" stroke="#000" stroke-width="0.8" />
<line x1="367.70" y1="104.35" x2="369.50" y2="104.35" stroke="#000" stroke-width="0.8" />
<line x1="367.70" y1="102.56" x2="369.50" y2="102.56" stroke="#000" stroke-width="0.8" />
<line x1="367.70" y1="100.77" x2="369.50" y2="100.77" stroke="#000" stroke-width="0.8" />
<line x1="367.70" y1="98.98" x2="369.50" y2="98.98" stroke="#000" stroke-width="0.8" />
<line x1="367.70" y1="97.19" x2="369.50" y2="97.19" stroke="#000" stroke-width="0.8" />
<line x1="367.70" y1="95.40" x2="369.50" y2="95.40" stroke="#000" stroke-width="0.8" />
<line x1="367.70" y1="93.61" x2="369.50" y2="93.61" stroke="#000" stroke-width="0.8" />
<line x1="367.70" y1="91.82" x2="369.50" y2="91.82" stroke="#000" stroke-width="0.8" />
<line x1="367.70" y1="90.03" x2="369.50" y2="90.03" stroke="#000" stroke-width="0.8" />
<line x1="367.70" y1="88.24" x2="369.50" y2="88.24" stroke="#000" stroke-width="0.8" />
<line x1="367.70" y1="86.45" x2="369.50" y2="86.45" stroke="#000" stroke-width="0.8" />
<line x1="367.70" y1="84.66" x2="369.50" y2="84.66" stroke="#000" stroke-width="0.8" />
<line x1="367.70" y1="82.87" x2="369.50" y2="82.87" stroke="#000" stroke-width="0.8" />
<line x1="367.70" y1="81.08" x2="369.50" y2="81.08" stroke="#000" stroke-width="0.8" />
<line x1="367.70" y1="79.29" x2="369.50" y2="79.29" stroke="#000" stroke-width="0.8" />
<line x1="367.70" y1="77.50" x2="369.50" y2="77.50" stroke="#000" stroke-width="0.8" />
<line x1="367.70" y1="75.71" x2="369.50" y2="75.71" stroke="#000" stroke-width="0.8" />
<line x1="367.70" y1="73.92" x2="369.50" y2="73.92" stroke="#000" stroke-width="0.8" />
<line x1="367.70" y1="72.13" x2="369.50" y2="72.13" stroke="#000" stroke-width="0.8" />
<line x1="367.70" y1="70.34" x2="369.50" y2="70.34" stroke="#000" stroke-width="0.8" />
<line x1="367.70" y1="68.55" x2="369.50" y2="68.55" stroke="#000" stroke-width="0.8" />
<line x1="367.70" y1="66.76" x2="369.50" y2="66.76" stroke="#000" stroke-width="0.8" />
<line x1="367.70" y1="64.97" x2="369.50" y2="64.97" stroke="#000" stroke-width="0.8" />
<line x1="367.70" y1="63.18" x2="369.50" y2="63.18" stroke="#000" stroke-width="0.8" />
<line x1="367.70" y1="61.39" x2="369.50" y2="61.39" stroke="#000" stroke-width="0.8" />
<line x1="367.70" y1="59.60" x2="369.50" y2="59.60" stroke="#000" stroke-width="0.8" />
<line x1="367.70" y1="57.81" x2="369.50" y2="57.81" stroke="#000" stroke-width="0.8" />
<line x1="367.70" y1="56.02" x2="369.50" y2="56.02" stroke="#000" stroke-width="0.8" />
<line x1="367.70" y1="54.23" x2="369.50" y2="54.23" stroke="#000" stroke-width="0.8" />
<line x1="367.70" y1="52.44" x2="369.50" y2="52.44" stroke="#000" stroke-width="0.8" />
<line x1="367.70" y1="50.65" x2="369.50" y2="50.65" stroke="#000" stroke-width="0.8" />
<line x1="367.70" y1="48.86" x2="369.50" y2="48.86" stroke="#000" stroke-width="0.8" />
<line x1="367.70" y1="47.07" x2="369.50" y2="47.07" stroke="#000" stroke-width="0.8" />
<line x1="367.70" y1="45.28" x2="369.50" y2="45.28" stroke="#000" stroke-width="0.8" />
<line x1="367.70" y1="43.49" x2="369.50" y2="43.49" stroke="#000" stroke-width="0.8" />
<line x1="367.70" y1="41.70" x2="369.50" y2="41.70" stroke="#000" stroke-width="0.8" />
<line x1="367.70" y1="39.91" x2="369.50" y2="39.91" stroke="#000" stroke-width="0.8" />
<line x1="367.70" y1="38.12" x2="369.50" y2="38.12" stroke="#000" stroke-width="0.8" />
<line x1="367.70" y1="36.33" x2="369.50" y2="36.33" stroke="#000" stroke-width="0.8" />
<line x1="367.70" y1="34.54" x2="369.50" y2="34.54" stroke="#000" stroke-width="0.8" />
<line x1="367.70" y1="32.75" x2="369.50" y2="32.75" stroke="#000" stroke-width="0.8" />
<line x1="367.70" y1="30.96" x2="369.50" y2="30.96" stroke="#000" stroke-width="0.8" />
<line x1="367.70" y1="29.17" x2="369.50" y2="29.17" stroke="#000" stroke-width="0.8" />
<line x1="367.70" y1="27.38" x2="369.50" y2="27.38" stroke="#000" stroke-width="0.8" />
<line x1="367.70" y1="25.59" x2="369.50" y2="25.59" stroke="#000" stroke-width="0.8" />
<line x1="366.50" y1="27.40" x2="369.50" y2="27.40" stroke="#000" stroke-width="1" />
<text x="364.30" y="29.60" font-size="6.1" text-anchor="end" fill="#444" >4</text>
<line x1="366.50" y1="41.70" x2="369.50" y2="41.70" stroke="#000" stroke-width="1" />
<text x="364.30" y="43.90" font-size="6.1" text-anchor="end" fill="#444" >3</text>
<line x1="366.50" y1="56.00" x2="369.50" y2="56.00" stroke="#000" stroke-width="1" />
<text x="364.30" y="58.20" font-size="6.1" text-anchor="end" fill="#444" >2</text>
<line x1="366.50" y1="70.30" x2="369.50" y2="70.30" stroke="#000" stroke-width="1" />
<text x="364.30" y="72.50" font-size="6.1" text-anchor="end" fill="#444" >1</text>
<line x1="366.50" y1="84.60" x2="369.50" y2="84.60" stroke="#000" stroke-width="1" />
<text x="364.30" y="86.80" font-size="6.1" text-anchor="end" fill="#444" >0</text>
<line x1="366.50" y1="98.90" x2="369.50" y2="98.90" stroke="#000" stroke-width="1" />
<text x="364.30" y="101.10" font-size="6.1" text-anchor="end" fill="#444" >-1</text>
<line x1="366.50" y1="113.20" x2="369.50" y2="113.20" stroke="#000" stroke-width="1" />
<text x="364.30" y="115.40" font-size="6.1" text-anchor="end" fill="#444" >-2</text>
<line x1="368.70" y1="113.30" x2="458.50" y2="113.30" stroke="#000" stroke-width="1.4" />
<line x1="380.40" y1="113.30" x2="380.40" y2="115.80" stroke="#000" stroke-width="1" />
<text x="380.40" y="125.20" font-size="6.0" text-anchor="middle" fill="#444" textLength="7.70" lengthAdjust="spacingAndGlyphs" >1.0</text>
<line x1="405.45" y1="113.30" x2="405.45" y2="115.80" stroke="#000" stroke-width="1" />
<text x="405.45" y="125.20" font-size="6.0" text-anchor="middle" fill="#444" textLength="7.70" lengthAdjust="spacingAndGlyphs" >1.5</text>
<line x1="430.50" y1="113.30" x2="430.50" y2="115.80" stroke="#000" stroke-width="1" />
<text x="430.50" y="125.20" font-size="6.0" text-anchor="middle" fill="#444" textLength="7.70" lengthAdjust="spacingAndGlyphs" >2.0</text>
<line x1="455.55" y1="113.30" x2="455.55" y2="115.80" stroke="#000" stroke-width="1" />
<text x="455.55" y="125.20" font-size="6.0" text-anchor="middle" fill="#444" textLength="7.70" lengthAdjust="spacingAndGlyphs" >2.5</text>
<text x="356.30" y="138.00" font-size="9.6" fill="#222" textLength="116.20" lengthAdjust="spacingAndGlyphs" stroke="#222" stroke-width="0.22" >Prolonged survival of treated mice</text>
<text x="373.00" y="146.60" font-size="9.6" fill="#222" textLength="82.50" lengthAdjust="spacingAndGlyphs" stroke="#222" stroke-width="0.22" >compared to the control</text>
<text x="353.60" y="68.60" font-size="9.6" text-anchor="middle" fill="#222" textLength="75.60" lengthAdjust="spacingAndGlyphs" stroke="#222" stroke-width="0.22" transform="rotate(-90 353.60 68.60)" >In vitro log IC50 (nm)</text>
<text x="385.00" y="16.30" font-size="7" fill="#222" textLength="64.50" lengthAdjust="spacingAndGlyphs" >Spearman ρ = -0.8571</text>
<text x="385.00" y="24.60" font-size="7" fill="#222" textLength="20.50" lengthAdjust="spacingAndGlyphs" >p &lt; 0.05</text>
<line x1="378.50" y1="46.70" x2="439.50" y2="103.80" stroke="#000" stroke-width="1.6" />
<circle cx="377.90" cy="34.20" r="2.3" fill="#9c1730"/>
<circle cx="397.00" cy="60.50" r="2.3" fill="#9c1730"/>
<circle cx="401.20" cy="75.00" r="2.3" fill="#9c1730"/>
<circle cx="407.50" cy="85.00" r="2.3" fill="#9c1730"/>
<circle cx="413.00" cy="92.00" r="2.3" fill="#9c1730"/>
<circle cx="424.20" cy="91.50" r="2.3" fill="#9c1730"/>
<circle cx="439.50" cy="89.20" r="2.3" fill="#9c1730"/>
<text x="338.00" y="187.50" font-size="8.5" font-weight="bold" fill="#222" >i.</text>
<rect x="366.50" y="188.50" width="26.00" height="26.70" fill="#fff" stroke="#505050" stroke-width="1.0" />
<text x="363.00" y="204.25" font-size="7" text-anchor="end" fill="#222" >BCL2</text>
<path d="M367.5,214.3 L367.8,214.3 L368.1,214.3 L368.4,214.2 L368.7,214.2 L369.0,214.1 L369.3,214.1 L369.6,213.9 L369.9,213.7 L370.2,213.4 L370.5,213.0 L370.8,212.4 L371.1,211.6 L371.4,210.6 L371.7,209.4 L372.0,207.9 L372.3,206.2 L372.6,204.3 L372.9,202.3 L373.2,200.1 L373.5,198.1 L373.8,196.1 L374.1,194.5 L374.4,193.2 L374.7,192.4 L375.0,192.1 L375.3,192.7 L375.6,194.4 L375.9,196.8 L376.2,199.8 L376.5,202.9 L376.8,205.8 L377.1,208.3 L377.4,210.3 L377.7,211.7 L378.0,212.8 L378.3,213.4 L378.6,213.8 L378.9,214.1 L379.2,214.2 L379.5,214.2 L379.8,214.3 L380.1,214.3 L380.4,214.3 L380.7,214.3 L381.0,214.3 L381.3,214.3 L381.6,214.3 L381.9,214.3 L382.2,214.3 L382.5,214.3 L382.8,214.3 L383.1,214.3 L383.4,214.3 L383.7,214.3 L384.0,214.3 L384.3,214.3 L384.6,214.3 L384.9,214.3 L385.2,214.3 L385.5,214.3 L385.8,214.3 L386.1,214.3 L386.4,214.3 L386.7,214.3 L387.0,214.3 L387.3,214.3 L387.6,214.3 L387.9,214.3 L388.2,214.3 L388.5,214.3 L388.8,214.3 L389.1,214.3 L389.4,214.3 L389.7,214.3 L390.0,214.3 L390.3,214.3 L390.6,214.3 L390.9,214.3 L391.2,214.3 L391.5,214.3" stroke="#b8b0d0" stroke-width="0.9" fill="none" stroke-linejoin="round" />
<path d="M367.5,214.3 L367.8,214.3 L368.1,214.3 L368.4,214.3 L368.7,214.3 L369.0,214.3 L369.3,214.3 L369.6,214.2 L369.9,214.2 L370.2,214.1 L370.5,214.0 L370.8,213.8 L371.1,213.5 L371.4,213.2 L371.7,212.6 L372.0,211.9 L372.3,210.9 L372.6,209.6 L372.9,208.1 L373.2,206.3 L373.5,204.3 L373.8,202.1 L374.1,199.8 L374.4,197.5 L374.7,195.5 L375.0,193.8 L375.3,192.5 L375.6,191.8 L375.9,191.7 L376.2,192.8 L376.5,195.2 L376.8,198.3 L377.1,201.7 L377.4,205.0 L377.7,207.8 L378.0,210.1 L378.3,211.7 L378.6,212.8 L378.9,213.5 L379.2,213.9 L379.5,214.1 L379.8,214.2 L380.1,214.3 L380.4,214.3 L380.7,214.3 L381.0,214.3 L381.3,214.3 L381.6,214.3 L381.9,214.3 L382.2,214.3 L382.5,214.3 L382.8,214.3 L383.1,214.3 L383.4,214.3 L383.7,214.3 L384.0,214.3 L384.3,214.3 L384.6,214.3 L384.9,214.3 L385.2,214.3 L385.5,214.3 L385.8,214.3 L386.1,214.3 L386.4,214.3 L386.7,214.3 L387.0,214.3 L387.3,214.3 L387.6,214.3 L387.9,214.3 L388.2,214.3 L388.5,214.3 L388.8,214.3 L389.1,214.3 L389.4,214.3 L389.7,214.3 L390.0,214.3 L390.3,214.3 L390.6,214.3 L390.9,214.3 L391.2,214.3 L391.5,214.3" stroke="#7a80b8" stroke-width="0.9" fill="none" stroke-linejoin="round" />
<path d="M367.5,214.3 L367.8,214.3 L368.1,214.3 L368.4,214.3 L368.7,214.3 L369.0,214.3 L369.3,214.3 L369.6,214.3 L369.9,214.3 L370.2,214.3 L370.5,214.3 L370.8,214.3 L371.1,214.2 L371.4,214.2 L371.7,214.1 L372.0,214.0 L372.3,213.8 L372.6,213.5 L372.9,213.1 L373.2,212.4 L373.5,211.6 L373.8,210.4 L374.1,209.0 L374.4,207.3 L374.7,205.2 L375.0,202.9 L375.3,200.5 L375.6,198.1 L375.9,195.9 L376.2,194.0 L376.5,192.6 L376.8,191.8 L377.1,191.7 L377.4,193.1 L377.7,195.8 L378.0,199.3 L378.3,203.0 L378.6,206.4 L378.9,209.2 L379.2,211.2 L379.5,212.6 L379.8,213.4 L380.1,213.9 L380.4,214.1 L380.7,214.2 L381.0,214.3 L381.3,214.3 L381.6,214.3 L381.9,214.3 L382.2,214.3 L382.5,214.3 L382.8,214.3 L383.1,214.3 L383.4,214.3 L383.7,214.3 L384.0,214.3 L384.3,214.3 L384.6,214.3 L384.9,214.3 L385.2,214.3 L385.5,214.3 L385.8,214.3 L386.1,214.3 L386.4,214.3 L386.7,214.3 L387.0,214.3 L387.3,214.3 L387.6,214.3 L387.9,214.3 L388.2,214.3 L388.5,214.3 L388.8,214.3 L389.1,214.3 L389.4,214.3 L389.7,214.3 L390.0,214.3 L390.3,214.3 L390.6,214.3 L390.9,214.3 L391.2,214.3 L391.5,214.3" stroke="#2e3572" stroke-width="0.9" fill="none" stroke-linejoin="round" />
<path d="M367.5,214.3 L367.8,214.3 L368.1,214.3 L368.4,214.3 L368.7,214.3 L369.0,214.3 L369.3,214.3 L369.6,214.3 L369.9,214.3 L370.2,214.3 L370.5,214.3 L370.8,214.3 L371.1,214.3 L371.4,214.3 L371.7,214.3 L372.0,214.3 L372.3,214.3 L372.6,214.3 L372.9,214.3 L373.2,214.3 L373.5,214.3 L373.8,214.3 L374.1,214.3 L374.4,214.3 L374.7,214.3 L375.0,214.3 L375.3,214.3 L375.6,214.3 L375.9,214.3 L376.2,214.3 L376.5,214.3 L376.8,214.3 L377.1,214.3 L377.4,214.3 L377.7,214.3 L378.0,214.3 L378.3,214.2 L378.6,214.1 L378.9,213.9 L379.2,213.5 L379.5,212.8 L379.8,211.7 L380.1,210.1 L380.4,207.8 L380.7,205.0 L381.0,201.7 L381.3,198.3 L381.6,195.2 L381.9,192.8 L382.2,191.7 L382.5,192.1 L382.8,194.3 L383.1,197.8 L383.4,201.9 L383.7,205.8 L384.0,209.0 L384.3,211.2 L384.6,212.7 L384.9,213.5 L385.2,214.0 L385.5,214.2 L385.8,214.3 L386.1,214.3 L386.4,214.3 L386.7,214.3 L387.0,214.3 L387.3,214.3 L387.6,214.3 L387.9,214.3 L388.2,214.3 L388.5,214.3 L388.8,214.3 L389.1,214.3 L389.4,214.3 L389.7,214.3 L390.0,214.3 L390.3,214.3 L390.6,214.3 L390.9,214.3 L391.2,214.3 L391.5,214.3" stroke="#e89090" stroke-width="0.9" fill="none" stroke-linejoin="round" />
<path d="M367.5,214.3 L367.8,214.3 L368.1,214.3 L368.4,214.3 L368.7,214.3 L369.0,214.3 L369.3,214.3 L369.6,214.3 L369.9,214.3 L370.2,214.3 L370.5,214.3 L370.8,214.3 L371.1,214.3 L371.4,214.3 L371.7,214.3 L372.0,214.3 L372.3,214.3 L372.6,214.3 L372.9,214.3 L373.2,214.3 L373.5,214.3 L373.8,214.3 L374.1,214.3 L374.4,214.3 L374.7,214.3 L375.0,214.3 L375.3,214.3 L375.6,214.3 L375.9,214.3 L376.2,214.3 L376.5,214.3 L376.8,214.3 L377.1,214.3 L377.4,214.3 L377.7,214.3 L378.0,214.2 L378.3,214.2 L378.6,214.0 L378.9,213.6 L379.2,212.9 L379.5,211.8 L379.8,210.0 L380.1,207.4 L380.4,204.2 L380.7,200.5 L381.0,196.9 L381.3,193.8 L381.6,192.0 L381.9,191.7 L382.2,193.4 L382.5,196.5 L382.8,200.5 L383.1,204.6 L383.4,208.0 L383.7,210.6 L384.0,212.3 L384.3,213.3 L384.6,213.9 L384.9,214.1 L385.2,214.2 L385.5,214.3 L385.8,214.3 L386.1,214.3 L386.4,214.3 L386.7,214.3 L387.0,214.3 L387.3,214.3 L387.6,214.3 L387.9,214.3 L388.2,214.3 L388.5,214.3 L388.8,214.3 L389.1,214.3 L389.4,214.3 L389.7,214.3 L390.0,214.3 L390.3,214.3 L390.6,214.3 L390.9,214.3 L391.2,214.3 L391.5,214.3" stroke="#8a2a2a" stroke-width="0.9" fill="none" stroke-linejoin="round" />
<line x1="397.30" y1="209.00" x2="497.80" y2="209.00" stroke="#111" stroke-width="1.3" />
<line x1="397.60" y1="207.40" x2="397.60" y2="209.00" stroke="#111" stroke-width="1.4" />
<text x="398.50" y="217.00" font-size="7" text-anchor="middle" fill="#222" >0</text>
<text x="505.50" y="217.00" font-size="7" text-anchor="end" fill="#222" >3500</text>
<rect x="366.50" y="221.80" width="26.00" height="27.10" fill="#fff" stroke="#505050" stroke-width="1.0" />
<text x="363.00" y="237.75" font-size="7" text-anchor="end" fill="#222" >BCL-XL</text>
<path d="M367.5,247.9 L367.8,247.8 L368.1,247.7 L368.4,247.6 L368.7,247.4 L369.0,247.1 L369.3,246.7 L369.6,246.3 L369.9,245.7 L370.2,245.0 L370.5,244.1 L370.8,243.0 L371.1,241.8 L371.4,240.4 L371.7,238.9 L372.0,237.3 L372.3,235.6 L372.6,233.9 L372.9,232.3 L373.2,230.8 L373.5,229.5 L373.8,228.5 L374.1,227.9 L374.4,227.5 L374.7,227.7 L375.0,228.5 L375.3,229.9 L375.6,231.8 L375.9,234.0 L376.2,236.4 L376.5,238.6 L376.8,240.7 L377.1,242.5 L377.4,244.0 L377.7,245.2 L378.0,246.1 L378.3,246.8 L378.6,247.2 L378.9,247.5 L379.2,247.7 L379.5,247.8 L379.8,247.9 L380.1,248.0 L380.4,248.0 L380.7,248.0 L381.0,248.0 L381.3,248.0 L381.6,248.0 L381.9,248.0 L382.2,248.0 L382.5,248.0 L382.8,248.0 L383.1,248.0 L383.4,248.0 L383.7,248.0 L384.0,248.0 L384.3,248.0 L384.6,248.0 L384.9,248.0 L385.2,248.0 L385.5,248.0 L385.8,248.0 L386.1,248.0 L386.4,248.0 L386.7,248.0 L387.0,248.0 L387.3,248.0 L387.6,248.0 L387.9,248.0 L388.2,248.0 L388.5,248.0 L388.8,248.0 L389.1,248.0 L389.4,248.0 L389.7,248.0 L390.0,248.0 L390.3,248.0 L390.6,248.0 L390.9,248.0 L391.2,248.0 L391.5,248.0" stroke="#b9b9b9" stroke-width="0.9" fill="none" stroke-linejoin="round" />
<path d="M367.5,248.0 L367.8,248.0 L368.1,248.0 L368.4,248.0 L368.7,248.0 L369.0,248.0 L369.3,248.0 L369.6,248.0 L369.9,248.0 L370.2,248.0 L370.5,248.0 L370.8,248.0 L371.1,248.0 L371.4,248.0 L371.7,248.0 L372.0,248.0 L372.3,248.0 L372.6,248.0 L372.9,248.0 L373.2,248.0 L373.5,248.0 L373.8,248.0 L374.1,248.0 L374.4,248.0 L374.7,248.0 L375.0,247.9 L375.3,247.9 L375.6,247.8 L375.9,247.6 L376.2,247.3 L376.5,246.8 L376.8,246.1 L377.1,245.2 L377.4,244.1 L377.7,243.0 L378.0,241.9 L378.3,241.0 L378.6,240.4 L378.9,240.4 L379.2,240.9 L379.5,242.0 L379.8,243.3 L380.1,244.7 L380.4,245.9 L380.7,246.7 L381.0,247.3 L381.3,247.7 L381.6,247.8 L381.9,247.9 L382.2,248.0 L382.5,248.0 L382.8,248.0 L383.1,248.0 L383.4,248.0 L383.7,248.0 L384.0,248.0 L384.3,248.0 L384.6,248.0 L384.9,248.0 L385.2,248.0 L385.5,248.0 L385.8,248.0 L386.1,248.0 L386.4,248.0 L386.7,248.0 L387.0,248.0 L387.3,248.0 L387.6,248.0 L387.9,248.0 L388.2,248.0 L388.5,248.0 L388.8,248.0 L389.1,248.0 L389.4,248.0 L389.7,248.0 L390.0,248.0 L390.3,248.0 L390.6,248.0 L390.9,248.0 L391.2,248.0 L391.5,248.0" stroke="#5a5090" stroke-width="0.9" fill="none" stroke-linejoin="round" />
<path d="M367.5,248.0 L367.8,248.0 L368.1,248.0 L368.4,248.0 L368.7,248.0 L369.0,248.0 L369.3,248.0 L369.6,248.0 L369.9,248.0 L370.2,248.0 L370.5,248.0 L370.8,248.0 L371.1,248.0 L371.4,248.0 L371.7,248.0 L372.0,248.0 L372.3,248.0 L372.6,248.0 L372.9,248.0 L373.2,248.0 L373.5,248.0 L373.8,248.0 L374.1,248.0 L374.4,248.0 L374.7,248.0 L375.0,248.0 L375.3,248.0 L375.6,248.0 L375.9,248.0 L376.2,248.0 L376.5,247.9 L376.8,247.9 L377.1,247.7 L377.4,247.5 L377.7,247.2 L378.0,246.7 L378.3,246.0 L378.6,244.9 L378.9,243.4 L379.2,241.6 L379.5,239.4 L379.8,236.8 L380.1,234.0 L380.4,231.3 L380.7,228.8 L381.0,226.7 L381.3,225.4 L381.6,225.0 L381.9,226.2 L382.2,229.6 L382.5,234.0 L382.8,238.5 L383.1,242.3 L383.4,244.9 L383.7,246.5 L384.0,247.3 L384.3,247.7 L384.6,247.9 L384.9,248.0 L385.2,248.0 L385.5,248.0 L385.8,248.0 L386.1,248.0 L386.4,248.0 L386.7,248.0 L387.0,248.0 L387.3,248.0 L387.6,248.0 L387.9,248.0 L388.2,248.0 L388.5,248.0 L388.8,248.0 L389.1,248.0 L389.4,248.0 L389.7,248.0 L390.0,248.0 L390.3,248.0 L390.6,248.0 L390.9,248.0 L391.2,248.0 L391.5,248.0" stroke="#2e3572" stroke-width="0.9" fill="none" stroke-linejoin="round" />
<path d="M367.5,248.0 L367.8,248.0 L368.1,248.0 L368.4,248.0 L368.7,248.0 L369.0,248.0 L369.3,248.0 L369.6,248.0 L369.9,248.0 L370.2,248.0 L370.5,248.0 L370.8,248.0 L371.1,248.0 L371.4,248.0 L371.7,248.0 L372.0,248.0 L372.3,248.0 L372.6,248.0 L372.9,248.0 L373.2,248.0 L373.5,248.0 L373.8,248.0 L374.1,248.0 L374.4,248.0 L374.7,248.0 L375.0,248.0 L375.3,248.0 L375.6,248.0 L375.9,248.0 L376.2,248.0 L376.5,248.0 L376.8,248.0 L377.1,248.0 L377.4,248.0 L377.7,248.0 L378.0,248.0 L378.3,248.0 L378.6,248.0 L378.9,248.0 L379.2,248.0 L379.5,248.0 L379.8,248.0 L380.1,248.0 L380.4,248.0 L380.7,248.0 L381.0,247.9 L381.3,247.8 L381.6,247.6 L381.9,247.2 L382.2,246.4 L382.5,245.3 L382.8,243.6 L383.1,241.2 L383.4,238.2 L383.7,234.8 L384.0,231.2 L384.3,227.9 L384.6,225.5 L384.9,224.3 L385.2,224.7 L385.5,227.0 L385.8,230.7 L386.1,235.0 L386.4,239.1 L386.7,242.4 L387.0,244.8 L387.3,246.3 L387.6,247.2 L387.9,247.6 L388.2,247.9 L388.5,247.9 L388.8,248.0 L389.1,248.0 L389.4,248.0 L389.7,248.0 L390.0,248.0 L390.3,248.0 L390.6,248.0 L390.9,248.0 L391.2,248.0 L391.5,248.0" stroke="#e89090" stroke-width="0.9" fill="none" stroke-linejoin="round" />
<path d="M367.5,248.0 L367.8,248.0 L368.1,248.0 L368.4,248.0 L368.7,248.0 L369.0,248.0 L369.3,248.0 L369.6,248.0 L369.9,248.0 L370.2,248.0 L370.5,248.0 L370.8,248.0 L371.1,248.0 L371.4,248.0 L371.7,248.0 L372.0,248.0 L372.3,248.0 L372.6,248.0 L372.9,248.0 L373.2,248.0 L373.5,248.0 L373.8,248.0 L374.1,248.0 L374.4,248.0 L374.7,248.0 L375.0,248.0 L375.3,248.0 L375.6,248.0 L375.9,248.0 L376.2,248.0 L376.5,248.0 L376.8,248.0 L377.1,248.0 L377.4,248.0 L377.7,248.0 L378.0,248.0 L378.3,248.0 L378.6,248.0 L378.9,248.0 L379.2,248.0 L379.5,248.0 L379.8,248.0 L380.1,248.0 L380.4,248.0 L380.7,248.0 L381.0,247.9 L381.3,247.8 L381.6,247.6 L381.9,247.1 L382.2,246.3 L382.5,244.9 L382.8,242.8 L383.1,240.0 L383.4,236.5 L383.7,232.8 L384.0,229.2 L384.3,226.4 L384.6,225.1 L384.9,225.5 L385.2,228.3 L385.5,232.5 L385.8,237.1 L386.1,241.1 L386.4,244.1 L386.7,246.0 L387.0,247.1 L387.3,247.6 L387.6,247.9 L387.9,248.0 L388.2,248.0 L388.5,248.0 L388.8,248.0 L389.1,248.0 L389.4,248.0 L389.7,248.0 L390.0,248.0 L390.3,248.0 L390.6,248.0 L390.9,248.0 L391.2,248.0 L391.5,248.0" stroke="#8a2a2a" stroke-width="0.9" fill="none" stroke-linejoin="round" />
<path d="M367.5,248.0 L367.8,248.0 L368.1,248.0 L368.4,248.0 L368.7,248.0 L369.0,248.0 L369.3,248.0 L369.6,248.0 L369.9,248.0 L370.2,248.0 L370.5,248.0 L370.8,248.0 L371.1,248.0 L371.4,248.0 L371.7,248.0 L372.0,248.0 L372.3,248.0 L372.6,248.0 L372.9,248.0 L373.2,248.0 L373.5,248.0 L373.8,248.0 L374.1,248.0 L374.4,248.0 L374.7,248.0 L375.0,248.0 L375.3,248.0 L375.6,248.0 L375.9,248.0 L376.2,248.0 L376.5,248.0 L376.8,248.0 L377.1,247.9 L377.4,247.9 L377.7,247.8 L378.0,247.7 L378.3,247.4 L378.6,247.0 L378.9,246.4 L379.2,245.6 L379.5,244.4 L379.8,242.9 L380.1,241.0 L380.4,238.8 L380.7,236.4 L381.0,233.9 L381.3,231.6 L381.6,229.6 L381.9,228.2 L382.2,227.6 L382.5,227.9 L382.8,229.9 L383.1,233.1 L383.4,236.8 L383.7,240.3 L384.0,243.2 L384.3,245.2 L384.6,246.5 L384.9,247.3 L385.2,247.7 L385.5,247.9 L385.8,248.0 L386.1,248.0 L386.4,248.0 L386.7,248.0 L387.0,248.0 L387.3,248.0 L387.6,248.0 L387.9,248.0 L388.2,248.0 L388.5,248.0 L388.8,248.0 L389.1,248.0 L389.4,248.0 L389.7,248.0 L390.0,248.0 L390.3,248.0 L390.6,248.0 L390.9,248.0 L391.2,248.0 L391.5,248.0" stroke="#9a4070" stroke-width="0.9" fill="none" stroke-linejoin="round" />
<line x1="397.30" y1="241.80" x2="497.80" y2="241.80" stroke="#111" stroke-width="1.3" />
<line x1="397.60" y1="240.20" x2="397.60" y2="241.80" stroke="#111" stroke-width="1.4" />
<text x="398.50" y="249.80" font-size="7" text-anchor="middle" fill="#222" >0</text>
<text x="505.50" y="249.80" font-size="7" text-anchor="end" fill="#222" >10000</text>
<rect x="366.50" y="253.30" width="26.00" height="27.00" fill="#fff" stroke="#505050" stroke-width="1.0" />
<text x="363.00" y="269.20" font-size="7" text-anchor="end" fill="#222" >MCL1</text>
<path d="M367.5,279.1 L367.8,278.9 L368.1,278.7 L368.4,278.4 L368.7,278.0 L369.0,277.5 L369.3,276.9 L369.6,276.1 L369.9,275.2 L370.2,274.1 L370.5,272.8 L370.8,271.3 L371.1,269.8 L371.4,268.1 L371.7,266.5 L372.0,264.8 L372.3,263.2 L372.6,261.8 L372.9,260.6 L373.2,259.7 L373.5,259.2 L373.8,259.0 L374.1,259.4 L374.4,260.4 L374.7,262.0 L375.0,264.0 L375.3,266.3 L375.6,268.6 L375.9,270.8 L376.2,272.8 L376.5,274.5 L376.8,275.9 L377.1,277.0 L377.4,277.8 L377.7,278.4 L378.0,278.7 L378.3,279.0 L378.6,279.2 L378.9,279.3 L379.2,279.3 L379.5,279.4 L379.8,279.4 L380.1,279.4 L380.4,279.4 L380.7,279.4 L381.0,279.4 L381.3,279.4 L381.6,279.4 L381.9,279.4 L382.2,279.4 L382.5,279.4 L382.8,279.4 L383.1,279.4 L383.4,279.4 L383.7,279.4 L384.0,279.4 L384.3,279.4 L384.6,279.4 L384.9,279.4 L385.2,279.4 L385.5,279.4 L385.8,279.4 L386.1,279.4 L386.4,279.4 L386.7,279.4 L387.0,279.4 L387.3,279.4 L387.6,279.4 L387.9,279.4 L388.2,279.4 L388.5,279.4 L388.8,279.4 L389.1,279.4 L389.4,279.4 L389.7,279.4 L390.0,279.4 L390.3,279.4 L390.6,279.4 L390.9,279.4 L391.2,279.4 L391.5,279.4" stroke="#b9b9b9" stroke-width="0.9" fill="none" stroke-linejoin="round" />
<path d="M367.5,279.4 L367.8,279.4 L368.1,279.4 L368.4,279.4 L368.7,279.4 L369.0,279.4 L369.3,279.4 L369.6,279.4 L369.9,279.4 L370.2,279.4 L370.5,279.4 L370.8,279.4 L371.1,279.4 L371.4,279.4 L371.7,279.4 L372.0,279.4 L372.3,279.4 L372.6,279.4 L372.9,279.4 L373.2,279.4 L373.5,279.4 L373.8,279.3 L374.1,279.3 L374.4,279.2 L374.7,279.1 L375.0,279.0 L375.3,278.7 L375.6,278.4 L375.9,277.9 L376.2,277.3 L376.5,276.4 L376.8,275.4 L377.1,274.1 L377.4,272.6 L377.7,270.8 L378.0,268.9 L378.3,266.8 L378.6,264.7 L378.9,262.7 L379.2,260.9 L379.5,259.3 L379.8,258.2 L380.1,257.6 L380.4,257.5 L380.7,258.3 L381.0,260.0 L381.3,262.4 L381.6,265.2 L381.9,268.0 L382.2,270.7 L382.5,273.0 L382.8,274.9 L383.1,276.4 L383.4,277.5 L383.7,278.3 L384.0,278.7 L384.3,279.0 L384.6,279.2 L384.9,279.3 L385.2,279.4 L385.5,279.4 L385.8,279.4 L386.1,279.4 L386.4,279.4 L386.7,279.4 L387.0,279.4 L387.3,279.4 L387.6,279.4 L387.9,279.4 L388.2,279.4 L388.5,279.4 L388.8,279.4 L389.1,279.4 L389.4,279.4 L389.7,279.4 L390.0,279.4 L390.3,279.4 L390.6,279.4 L390.9,279.4 L391.2,279.4 L391.5,279.4" stroke="#2e3572" stroke-width="0.9" fill="none" stroke-linejoin="round" />
<path d="M367.5,279.4 L367.8,279.4 L368.1,279.4 L368.4,279.4 L368.7,279.4 L369.0,279.4 L369.3,279.4 L369.6,279.4 L369.9,279.4 L370.2,279.4 L370.5,279.4 L370.8,279.4 L371.1,279.4 L371.4,279.4 L371.7,279.4 L372.0,279.4 L372.3,279.4 L372.6,279.4 L372.9,279.4 L373.2,279.4 L373.5,279.4 L373.8,279.4 L374.1,279.4 L374.4,279.4 L374.7,279.4 L375.0,279.4 L375.3,279.4 L375.6,279.4 L375.9,279.4 L376.2,279.4 L376.5,279.4 L376.8,279.4 L377.1,279.4 L377.4,279.4 L377.7,279.4 L378.0,279.4 L378.3,279.4 L378.6,279.4 L378.9,279.4 L379.2,279.4 L379.5,279.4 L379.8,279.4 L380.1,279.4 L380.4,279.4 L380.7,279.4 L381.0,279.4 L381.3,279.4 L381.6,279.3 L381.9,279.2 L382.2,279.1 L382.5,278.8 L382.8,278.3 L383.1,277.5 L383.4,276.2 L383.7,274.5 L384.0,272.2 L384.3,269.4 L384.6,266.3 L384.9,263.0 L385.2,260.0 L385.5,257.6 L385.8,256.2 L386.1,256.0 L386.4,257.4 L386.7,260.2 L387.0,263.9 L387.3,267.7 L387.6,271.3 L387.9,274.1 L388.2,276.2 L388.5,277.6 L388.8,278.5 L389.1,279.0 L389.4,279.2 L389.7,279.3 L390.0,279.4 L390.3,279.4 L390.6,279.4 L390.9,279.4 L391.2,279.4 L391.5,279.4" stroke="#e89090" stroke-width="0.9" fill="none" stroke-linejoin="round" />
<path d="M367.5,279.4 L367.8,279.4 L368.1,279.4 L368.4,279.4 L368.7,279.4 L369.0,279.4 L369.3,279.4 L369.6,279.4 L369.9,279.4 L370.2,279.4 L370.5,279.4 L370.8,279.4 L371.1,279.4 L371.4,279.4 L371.7,279.4 L372.0,279.4 L372.3,279.4 L372.6,279.4 L372.9,279.4 L373.2,279.4 L373.5,279.4 L373.8,279.4 L374.1,279.4 L374.4,279.4 L374.7,279.4 L375.0,279.4 L375.3,279.4 L375.6,279.4 L375.9,279.4 L376.2,279.4 L376.5,279.4 L376.8,279.4 L377.1,279.4 L377.4,279.4 L377.7,279.4 L378.0,279.4 L378.3,279.4 L378.6,279.4 L378.9,279.4 L379.2,279.4 L379.5,279.4 L379.8,279.4 L380.1,279.4 L380.4,279.4 L380.7,279.4 L381.0,279.4 L381.3,279.4 L381.6,279.3 L381.9,279.2 L382.2,279.0 L382.5,278.6 L382.8,277.9 L383.1,276.8 L383.4,275.1 L383.7,272.8 L384.0,270.0 L384.3,266.6 L384.6,263.2 L384.9,260.0 L385.2,257.7 L385.5,256.5 L385.8,256.9 L386.1,259.1 L386.4,262.7 L386.7,266.9 L387.0,270.8 L387.3,274.0 L387.6,276.3 L387.9,277.8 L388.2,278.6 L388.5,279.1 L388.8,279.3 L389.1,279.3 L389.4,279.4 L389.7,279.4 L390.0,279.4 L390.3,279.4 L390.6,279.4 L390.9,279.4 L391.2,279.4 L391.5,279.4" stroke="#8a2a2a" stroke-width="0.9" fill="none" stroke-linejoin="round" />
<line x1="397.30" y1="273.20" x2="497.80" y2="273.20" stroke="#111" stroke-width="1.3" />
<line x1="397.60" y1="271.60" x2="397.60" y2="273.20" stroke="#111" stroke-width="1.4" />
<text x="398.50" y="281.20" font-size="7" text-anchor="middle" fill="#222" >0</text>
<text x="505.50" y="281.20" font-size="7" text-anchor="end" fill="#222" >26000</text>
<rect x="366.50" y="285.60" width="26.00" height="26.90" fill="#fff" stroke="#505050" stroke-width="1.0" />
<text x="363.00" y="301.45" font-size="7" text-anchor="end" fill="#222" >BAK</text>
<path d="M367.5,311.1 L367.8,310.9 L368.1,310.7 L368.4,310.3 L368.7,309.8 L369.0,309.2 L369.3,308.5 L369.6,307.6 L369.9,306.6 L370.2,305.4 L370.5,304.1 L370.8,302.6 L371.1,301.1 L371.4,299.5 L371.7,298.0 L372.0,296.5 L372.3,295.2 L372.6,294.1 L372.9,293.2 L373.2,292.7 L373.5,292.6 L373.8,292.9 L374.1,293.8 L374.4,295.3 L374.7,297.2 L375.0,299.3 L375.3,301.5 L375.6,303.5 L375.9,305.4 L376.2,307.0 L376.5,308.3 L376.8,309.3 L377.1,310.1 L377.4,310.6 L377.7,311.0 L378.0,311.2 L378.3,311.4 L378.6,311.5 L378.9,311.5 L379.2,311.6 L379.5,311.6 L379.8,311.6 L380.1,311.6 L380.4,311.6 L380.7,311.6 L381.0,311.6 L381.3,311.6 L381.6,311.6 L381.9,311.6 L382.2,311.6 L382.5,311.6 L382.8,311.6 L383.1,311.6 L383.4,311.6 L383.7,311.6 L384.0,311.6 L384.3,311.6 L384.6,311.6 L384.9,311.6 L385.2,311.6 L385.5,311.6 L385.8,311.6 L386.1,311.6 L386.4,311.6 L386.7,311.6 L387.0,311.6 L387.3,311.6 L387.6,311.6 L387.9,311.6 L388.2,311.6 L388.5,311.6 L388.8,311.6 L389.1,311.6 L389.4,311.6 L389.7,311.6 L390.0,311.6 L390.3,311.6 L390.6,311.6 L390.9,311.6 L391.2,311.6 L391.5,311.6" stroke="#b9b9b9" stroke-width="0.9" fill="none" stroke-linejoin="round" />
<path d="M367.5,311.6 L367.8,311.6 L368.1,311.6 L368.4,311.6 L368.7,311.6 L369.0,311.6 L369.3,311.6 L369.6,311.6 L369.9,311.6 L370.2,311.6 L370.5,311.6 L370.8,311.6 L371.1,311.6 L371.4,311.6 L371.7,311.6 L372.0,311.6 L372.3,311.6 L372.6,311.6 L372.9,311.6 L373.2,311.5 L373.5,311.5 L373.8,311.4 L374.1,311.4 L374.4,311.2 L374.7,311.0 L375.0,310.7 L375.3,310.3 L375.6,309.7 L375.9,309.0 L376.2,308.1 L376.5,307.0 L376.8,305.7 L377.1,304.1 L377.4,302.4 L377.7,300.7 L378.0,298.8 L378.3,297.1 L378.6,295.5 L378.9,294.2 L379.2,293.2 L379.5,292.7 L379.8,292.6 L380.1,293.4 L380.4,295.1 L380.7,297.4 L381.0,300.0 L381.3,302.7 L381.6,305.1 L381.9,307.1 L382.2,308.6 L382.5,309.7 L382.8,310.5 L383.1,311.0 L383.4,311.3 L383.7,311.4 L384.0,311.5 L384.3,311.6 L384.6,311.6 L384.9,311.6 L385.2,311.6 L385.5,311.6 L385.8,311.6 L386.1,311.6 L386.4,311.6 L386.7,311.6 L387.0,311.6 L387.3,311.6 L387.6,311.6 L387.9,311.6 L388.2,311.6 L388.5,311.6 L388.8,311.6 L389.1,311.6 L389.4,311.6 L389.7,311.6 L390.0,311.6 L390.3,311.6 L390.6,311.6 L390.9,311.6 L391.2,311.6 L391.5,311.6" stroke="#2e3572" stroke-width="0.9" fill="none" stroke-linejoin="round" />
<path d="M367.5,311.6 L367.8,311.6 L368.1,311.6 L368.4,311.6 L368.7,311.6 L369.0,311.6 L369.3,311.6 L369.6,311.6 L369.9,311.6 L370.2,311.6 L370.5,311.6 L370.8,311.6 L371.1,311.6 L371.4,311.6 L371.7,311.6 L372.0,311.6 L372.3,311.6 L372.6,311.6 L372.9,311.6 L373.2,311.6 L373.5,311.6 L373.8,311.6 L374.1,311.6 L374.4,311.6 L374.7,311.6 L375.0,311.6 L375.3,311.6 L375.6,311.6 L375.9,311.6 L376.2,311.6 L376.5,311.6 L376.8,311.6 L377.1,311.6 L377.4,311.6 L377.7,311.6 L378.0,311.6 L378.3,311.5 L378.6,311.5 L378.9,311.3 L379.2,311.1 L379.5,310.7 L379.8,310.0 L380.1,309.0 L380.4,307.4 L380.7,305.4 L381.0,302.8 L381.3,299.9 L381.6,296.7 L381.9,293.6 L382.2,291.0 L382.5,289.3 L382.8,288.7 L383.1,289.6 L383.4,291.9 L383.7,295.2 L384.0,299.0 L384.3,302.6 L384.6,305.6 L384.9,307.9 L385.2,309.5 L385.5,310.5 L385.8,311.0 L386.1,311.3 L386.4,311.5 L386.7,311.6 L387.0,311.6 L387.3,311.6 L387.6,311.6 L387.9,311.6 L388.2,311.6 L388.5,311.6 L388.8,311.6 L389.1,311.6 L389.4,311.6 L389.7,311.6 L390.0,311.6 L390.3,311.6 L390.6,311.6 L390.9,311.6 L391.2,311.6 L391.5,311.6" stroke="#e89090" stroke-width="0.9" fill="none" stroke-linejoin="round" />
<path d="M367.5,311.6 L367.8,311.6 L368.1,311.6 L368.4,311.6 L368.7,311.6 L369.0,311.6 L369.3,311.6 L369.6,311.6 L369.9,311.6 L370.2,311.6 L370.5,311.6 L370.8,311.6 L371.1,311.6 L371.4,311.6 L371.7,311.6 L372.0,311.6 L372.3,311.6 L372.6,311.6 L372.9,311.6 L373.2,311.6 L373.5,311.6 L373.8,311.6 L374.1,311.6 L374.4,311.6 L374.7,311.6 L375.0,311.6 L375.3,311.6 L375.6,311.6 L375.9,311.6 L376.2,311.6 L376.5,311.6 L376.8,311.6 L377.1,311.6 L377.4,311.6 L377.7,311.6 L378.0,311.6 L378.3,311.5 L378.6,311.4 L378.9,311.3 L379.2,310.9 L379.5,310.4 L379.8,309.4 L380.1,308.0 L380.4,305.9 L380.7,303.2 L381.0,300.0 L381.3,296.6 L381.6,293.3 L381.9,290.6 L382.2,289.1 L382.5,288.9 L382.8,290.5 L383.1,293.7 L383.4,297.7 L383.7,301.8 L384.0,305.2 L384.3,307.8 L384.6,309.6 L384.9,310.6 L385.2,311.1 L385.5,311.4 L385.8,311.5 L386.1,311.6 L386.4,311.6 L386.7,311.6 L387.0,311.6 L387.3,311.6 L387.6,311.6 L387.9,311.6 L388.2,311.6 L388.5,311.6 L388.8,311.6 L389.1,311.6 L389.4,311.6 L389.7,311.6 L390.0,311.6 L390.3,311.6 L390.6,311.6 L390.9,311.6 L391.2,311.6 L391.5,311.6" stroke="#8a2a2a" stroke-width="0.9" fill="none" stroke-linejoin="round" />
<line x1="397.30" y1="305.80" x2="497.80" y2="305.80" stroke="#111" stroke-width="1.3" />
<line x1="397.60" y1="304.20" x2="397.60" y2="305.80" stroke="#111" stroke-width="1.4" />
<text x="398.50" y="313.80" font-size="7" text-anchor="middle" fill="#222" >0</text>
<text x="505.50" y="313.80" font-size="7" text-anchor="end" fill="#222" >5200</text>
<rect x="366.50" y="318.30" width="26.00" height="26.70" fill="#fff" stroke="#505050" stroke-width="1.0" />
<text x="363.00" y="334.05" font-size="7" text-anchor="end" fill="#222" >BIM</text>
<path d="M367.5,343.8 L367.8,343.7 L368.1,343.5 L368.4,343.3 L368.7,343.0 L369.0,342.6 L369.3,342.1 L369.6,341.4 L369.9,340.7 L370.2,339.7 L370.5,338.6 L370.8,337.4 L371.1,336.0 L371.4,334.4 L371.7,332.8 L372.0,331.1 L372.3,329.4 L372.6,327.8 L372.9,326.3 L373.2,325.0 L373.5,323.9 L373.8,323.2 L374.1,322.8 L374.4,322.7 L374.7,323.7 L375.0,325.6 L375.3,328.2 L375.6,331.1 L375.9,334.1 L376.2,336.7 L376.5,339.0 L376.8,340.7 L377.1,342.0 L377.4,342.9 L377.7,343.4 L378.0,343.7 L378.3,343.9 L378.6,344.0 L378.9,344.1 L379.2,344.1 L379.5,344.1 L379.8,344.1 L380.1,344.1 L380.4,344.1 L380.7,344.1 L381.0,344.1 L381.3,344.1 L381.6,344.1 L381.9,344.1 L382.2,344.1 L382.5,344.1 L382.8,344.1 L383.1,344.1 L383.4,344.1 L383.7,344.1 L384.0,344.1 L384.3,344.1 L384.6,344.1 L384.9,344.1 L385.2,344.1 L385.5,344.1 L385.8,344.1 L386.1,344.1 L386.4,344.1 L386.7,344.1 L387.0,344.1 L387.3,344.1 L387.6,344.1 L387.9,344.1 L388.2,344.1 L388.5,344.1 L388.8,344.1 L389.1,344.1 L389.4,344.1 L389.7,344.1 L390.0,344.1 L390.3,344.1 L390.6,344.1 L390.9,344.1 L391.2,344.1 L391.5,344.1" stroke="#b8b0d0" stroke-width="0.9" fill="none" stroke-linejoin="round" />
<path d="M367.5,344.1 L367.8,344.0 L368.1,344.0 L368.4,343.9 L368.7,343.8 L369.0,343.7 L369.3,343.4 L369.6,343.1 L369.9,342.7 L370.2,342.1 L370.5,341.4 L370.8,340.5 L371.1,339.3 L371.4,337.9 L371.7,336.3 L372.0,334.6 L372.3,332.7 L372.6,330.6 L372.9,328.6 L373.2,326.7 L373.5,325.0 L373.8,323.6 L374.1,322.6 L374.4,322.0 L374.7,322.0 L375.0,323.3 L375.3,326.0 L375.6,329.4 L375.9,333.1 L376.2,336.4 L376.5,339.1 L376.8,341.1 L377.1,342.4 L377.4,343.2 L377.7,343.7 L378.0,343.9 L378.3,344.0 L378.6,344.1 L378.9,344.1 L379.2,344.1 L379.5,344.1 L379.8,344.1 L380.1,344.1 L380.4,344.1 L380.7,344.1 L381.0,344.1 L381.3,344.1 L381.6,344.1 L381.9,344.1 L382.2,344.1 L382.5,344.1 L382.8,344.1 L383.1,344.1 L383.4,344.1 L383.7,344.1 L384.0,344.1 L384.3,344.1 L384.6,344.1 L384.9,344.1 L385.2,344.1 L385.5,344.1 L385.8,344.1 L386.1,344.1 L386.4,344.1 L386.7,344.1 L387.0,344.1 L387.3,344.1 L387.6,344.1 L387.9,344.1 L388.2,344.1 L388.5,344.1 L388.8,344.1 L389.1,344.1 L389.4,344.1 L389.7,344.1 L390.0,344.1 L390.3,344.1 L390.6,344.1 L390.9,344.1 L391.2,344.1 L391.5,344.1" stroke="#2e3572" stroke-width="0.9" fill="none" stroke-linejoin="round" />
<path d="M367.5,344.1 L367.8,344.1 L368.1,344.1 L368.4,344.1 L368.7,344.1 L369.0,344.1 L369.3,344.1 L369.6,344.1 L369.9,344.1 L370.2,344.1 L370.5,344.1 L370.8,344.1 L371.1,344.1 L371.4,344.1 L371.7,344.1 L372.0,344.1 L372.3,344.1 L372.6,344.1 L372.9,344.1 L373.2,344.1 L373.5,344.1 L373.8,344.1 L374.1,344.0 L374.4,344.0 L374.7,343.9 L375.0,343.8 L375.3,343.6 L375.6,343.3 L375.9,343.0 L376.2,342.4 L376.5,341.7 L376.8,340.7 L377.1,339.4 L377.4,337.9 L377.7,336.1 L378.0,334.1 L378.3,331.9 L378.6,329.6 L378.9,327.3 L379.2,325.3 L379.5,323.6 L379.8,322.3 L380.1,321.6 L380.4,321.5 L380.7,322.2 L381.0,323.8 L381.3,325.9 L381.6,328.5 L381.9,331.3 L382.2,333.9 L382.5,336.4 L382.8,338.4 L383.1,340.1 L383.4,341.4 L383.7,342.4 L384.0,343.0 L384.3,343.5 L384.6,343.7 L384.9,343.9 L385.2,344.0 L385.5,344.0 L385.8,344.1 L386.1,344.1 L386.4,344.1 L386.7,344.1 L387.0,344.1 L387.3,344.1 L387.6,344.1 L387.9,344.1 L388.2,344.1 L388.5,344.1 L388.8,344.1 L389.1,344.1 L389.4,344.1 L389.7,344.1 L390.0,344.1 L390.3,344.1 L390.6,344.1 L390.9,344.1 L391.2,344.1 L391.5,344.1" stroke="#e89090" stroke-width="0.9" fill="none" stroke-linejoin="round" />
<path d="M367.5,344.1 L367.8,344.1 L368.1,344.1 L368.4,344.1 L368.7,344.1 L369.0,344.1 L369.3,344.1 L369.6,344.1 L369.9,344.1 L370.2,344.1 L370.5,344.1 L370.8,344.1 L371.1,344.1 L371.4,344.1 L371.7,344.1 L372.0,344.1 L372.3,344.1 L372.6,344.1 L372.9,344.1 L373.2,344.1 L373.5,344.1 L373.8,344.1 L374.1,344.0 L374.4,344.0 L374.7,343.9 L375.0,343.8 L375.3,343.6 L375.6,343.3 L375.9,342.9 L376.2,342.3 L376.5,341.4 L376.8,340.3 L377.1,338.9 L377.4,337.2 L377.7,335.2 L378.0,333.0 L378.3,330.6 L378.6,328.3 L378.9,326.1 L379.2,324.2 L379.5,322.9 L379.8,322.1 L380.1,322.0 L380.4,322.8 L380.7,324.5 L381.0,326.9 L381.3,329.7 L381.6,332.6 L381.9,335.3 L382.2,337.6 L382.5,339.6 L382.8,341.1 L383.1,342.2 L383.4,342.9 L383.7,343.4 L384.0,343.7 L384.3,343.9 L384.6,344.0 L384.9,344.1 L385.2,344.1 L385.5,344.1 L385.8,344.1 L386.1,344.1 L386.4,344.1 L386.7,344.1 L387.0,344.1 L387.3,344.1 L387.6,344.1 L387.9,344.1 L388.2,344.1 L388.5,344.1 L388.8,344.1 L389.1,344.1 L389.4,344.1 L389.7,344.1 L390.0,344.1 L390.3,344.1 L390.6,344.1 L390.9,344.1 L391.2,344.1 L391.5,344.1" stroke="#8a2a2a" stroke-width="0.9" fill="none" stroke-linejoin="round" />
<line x1="397.30" y1="336.40" x2="497.80" y2="336.40" stroke="#111" stroke-width="1.3" />
<line x1="397.60" y1="334.80" x2="397.60" y2="336.40" stroke="#111" stroke-width="1.4" />
<text x="398.50" y="344.40" font-size="7" text-anchor="middle" fill="#222" >0</text>
<text x="505.50" y="344.40" font-size="7" text-anchor="end" fill="#222" >3000</text>
<circle cx="406.50" cy="203.64" r="1.8" fill="#e2a12c"/>
<circle cx="407.70" cy="204.26" r="1.8" fill="#e2a12c"/>
<circle cx="414.60" cy="204.54" r="1.8" fill="#e2a12c"/>
<circle cx="416.90" cy="205.30" r="1.8" fill="#e2a12c"/>
<circle cx="418.10" cy="204.25" r="1.8" fill="#e2a12c"/>
<circle cx="419.90" cy="205.20" r="1.8" fill="#e2a12c"/>
<circle cx="421.60" cy="200.55" r="1.8" fill="#e2a12c"/>
<circle cx="423.20" cy="202.82" r="1.8" fill="#e2a12c"/>
<circle cx="425.00" cy="205.31" r="1.8" fill="#e2a12c"/>
<circle cx="427.30" cy="203.77" r="1.8" fill="#e2a12c"/>
<circle cx="467.70" cy="205.08" r="1.8" fill="#e2a12c"/>
<circle cx="493.20" cy="200.99" r="1.8" fill="#e2a12c"/>
<circle cx="409.30" cy="193.70" r="1.6" fill="#4a2a78"/>
<circle cx="411.60" cy="192.99" r="1.6" fill="#4a2a78"/>
<circle cx="416.20" cy="193.94" r="1.6" fill="#4a2a78"/>
<circle cx="418.10" cy="194.04" r="1.6" fill="#4a2a78"/>
<circle cx="419.70" cy="192.24" r="1.6" fill="#4a2a78"/>
<circle cx="421.60" cy="192.89" r="1.6" fill="#4a2a78"/>
<circle cx="423.20" cy="193.09" r="1.6" fill="#4a2a78"/>
<circle cx="425.00" cy="195.13" r="1.6" fill="#4a2a78"/>
<circle cx="426.90" cy="194.65" r="1.6" fill="#4a2a78"/>
<circle cx="429.20" cy="192.71" r="1.6" fill="#4a2a78"/>
<circle cx="432.00" cy="194.75" r="1.6" fill="#4a2a78"/>
<circle cx="433.80" cy="192.64" r="1.6" fill="#4a2a78"/>
<circle cx="439.30" cy="194.18" r="1.6" fill="#4a2a78"/>
<circle cx="450.40" cy="192.61" r="1.6" fill="#4a2a78"/>
<circle cx="460.80" cy="192.21" r="1.6" fill="#4a2a78"/>
<circle cx="463.60" cy="194.99" r="1.6" fill="#4a2a78"/>
<circle cx="453.90" cy="234.79" r="1.8" fill="#e2a12c"/>
<circle cx="456.20" cy="234.82" r="1.8" fill="#e2a12c"/>
<circle cx="458.50" cy="238.81" r="1.8" fill="#e2a12c"/>
<circle cx="460.80" cy="238.24" r="1.8" fill="#e2a12c"/>
<circle cx="462.40" cy="235.20" r="1.8" fill="#e2a12c"/>
<circle cx="464.30" cy="238.70" r="1.8" fill="#e2a12c"/>
<circle cx="467.70" cy="236.50" r="1.8" fill="#e2a12c"/>
<circle cx="470.10" cy="237.22" r="1.8" fill="#e2a12c"/>
<circle cx="472.40" cy="234.76" r="1.8" fill="#e2a12c"/>
<circle cx="474.70" cy="238.59" r="1.8" fill="#e2a12c"/>
<circle cx="476.30" cy="237.29" r="1.8" fill="#e2a12c"/>
<circle cx="486.20" cy="238.73" r="1.8" fill="#e2a12c"/>
<circle cx="494.80" cy="238.35" r="1.8" fill="#e2a12c"/>
<circle cx="426.20" cy="225.46" r="1.6" fill="#4a2a78"/>
<circle cx="428.50" cy="225.66" r="1.6" fill="#4a2a78"/>
<circle cx="430.80" cy="225.03" r="1.6" fill="#4a2a78"/>
<circle cx="434.30" cy="224.97" r="1.6" fill="#4a2a78"/>
<circle cx="437.70" cy="224.71" r="1.6" fill="#4a2a78"/>
<circle cx="440.00" cy="225.46" r="1.6" fill="#4a2a78"/>
<circle cx="442.30" cy="226.43" r="1.6" fill="#4a2a78"/>
<circle cx="444.70" cy="224.51" r="1.6" fill="#4a2a78"/>
<circle cx="447.00" cy="226.67" r="1.6" fill="#4a2a78"/>
<circle cx="450.40" cy="225.58" r="1.6" fill="#4a2a78"/>
<circle cx="455.50" cy="225.49" r="1.6" fill="#4a2a78"/>
<circle cx="458.50" cy="227.12" r="1.6" fill="#4a2a78"/>
<circle cx="460.80" cy="226.04" r="1.6" fill="#4a2a78"/>
<circle cx="470.10" cy="225.51" r="1.6" fill="#4a2a78"/>
<circle cx="472.40" cy="226.04" r="1.6" fill="#4a2a78"/>
<circle cx="420.00" cy="268.36" r="1.8" fill="#e2a12c"/>
<circle cx="424.60" cy="265.00" r="1.8" fill="#e2a12c"/>
<circle cx="429.20" cy="269.77" r="1.8" fill="#e2a12c"/>
<circle cx="434.30" cy="264.82" r="1.8" fill="#e2a12c"/>
<circle cx="440.00" cy="268.60" r="1.8" fill="#e2a12c"/>
<circle cx="441.20" cy="269.09" r="1.8" fill="#e2a12c"/>
<circle cx="442.30" cy="264.79" r="1.8" fill="#e2a12c"/>
<circle cx="451.60" cy="268.80" r="1.8" fill="#e2a12c"/>
<circle cx="456.90" cy="266.60" r="1.8" fill="#e2a12c"/>
<circle cx="474.70" cy="267.71" r="1.8" fill="#e2a12c"/>
<circle cx="478.10" cy="264.75" r="1.8" fill="#e2a12c"/>
<circle cx="496.20" cy="264.94" r="1.8" fill="#e2a12c"/>
<circle cx="410.70" cy="257.08" r="1.6" fill="#4a2a78"/>
<circle cx="419.20" cy="259.56" r="1.6" fill="#4a2a78"/>
<circle cx="421.60" cy="257.13" r="1.6" fill="#4a2a78"/>
<circle cx="427.30" cy="258.92" r="1.6" fill="#4a2a78"/>
<circle cx="433.10" cy="259.47" r="1.6" fill="#4a2a78"/>
<circle cx="435.40" cy="259.51" r="1.6" fill="#4a2a78"/>
<circle cx="437.70" cy="257.60" r="1.6" fill="#4a2a78"/>
<circle cx="438.90" cy="257.64" r="1.6" fill="#4a2a78"/>
<circle cx="440.70" cy="258.18" r="1.6" fill="#4a2a78"/>
<circle cx="442.30" cy="258.98" r="1.6" fill="#4a2a78"/>
<circle cx="444.70" cy="256.85" r="1.6" fill="#4a2a78"/>
<circle cx="447.00" cy="258.89" r="1.6" fill="#4a2a78"/>
<circle cx="450.40" cy="259.05" r="1.6" fill="#4a2a78"/>
<circle cx="454.60" cy="259.25" r="1.6" fill="#4a2a78"/>
<circle cx="470.80" cy="256.62" r="1.6" fill="#4a2a78"/>
<circle cx="430.80" cy="303.12" r="1.8" fill="#e2a12c"/>
<circle cx="432.00" cy="298.67" r="1.8" fill="#e2a12c"/>
<circle cx="436.60" cy="299.97" r="1.8" fill="#e2a12c"/>
<circle cx="438.90" cy="301.38" r="1.8" fill="#e2a12c"/>
<circle cx="440.70" cy="302.97" r="1.8" fill="#e2a12c"/>
<circle cx="442.30" cy="299.97" r="1.8" fill="#e2a12c"/>
<circle cx="444.70" cy="303.01" r="1.8" fill="#e2a12c"/>
<circle cx="447.70" cy="301.03" r="1.8" fill="#e2a12c"/>
<circle cx="449.30" cy="299.82" r="1.8" fill="#e2a12c"/>
<circle cx="457.40" cy="299.85" r="1.8" fill="#e2a12c"/>
<circle cx="462.00" cy="299.12" r="1.8" fill="#e2a12c"/>
<circle cx="468.40" cy="298.61" r="1.8" fill="#e2a12c"/>
<circle cx="494.80" cy="298.97" r="1.8" fill="#e2a12c"/>
<circle cx="425.00" cy="291.71" r="1.6" fill="#4a2a78"/>
<circle cx="427.30" cy="292.69" r="1.6" fill="#4a2a78"/>
<circle cx="433.10" cy="290.02" r="1.6" fill="#4a2a78"/>
<circle cx="434.30" cy="289.66" r="1.6" fill="#4a2a78"/>
<circle cx="437.70" cy="292.66" r="1.6" fill="#4a2a78"/>
<circle cx="442.30" cy="291.21" r="1.6" fill="#4a2a78"/>
<circle cx="444.70" cy="290.80" r="1.6" fill="#4a2a78"/>
<circle cx="447.70" cy="290.26" r="1.6" fill="#4a2a78"/>
<circle cx="450.40" cy="291.40" r="1.6" fill="#4a2a78"/>
<circle cx="452.70" cy="292.14" r="1.6" fill="#4a2a78"/>
<circle cx="456.90" cy="290.96" r="1.6" fill="#4a2a78"/>
<circle cx="459.70" cy="290.85" r="1.6" fill="#4a2a78"/>
<circle cx="463.10" cy="289.68" r="1.6" fill="#4a2a78"/>
<circle cx="468.90" cy="292.43" r="1.6" fill="#4a2a78"/>
<circle cx="470.10" cy="289.60" r="1.6" fill="#4a2a78"/>
<circle cx="410.00" cy="332.27" r="1.8" fill="#e2a12c"/>
<circle cx="414.60" cy="334.06" r="1.8" fill="#e2a12c"/>
<circle cx="418.10" cy="330.38" r="1.8" fill="#e2a12c"/>
<circle cx="420.40" cy="333.50" r="1.8" fill="#e2a12c"/>
<circle cx="422.70" cy="334.64" r="1.8" fill="#e2a12c"/>
<circle cx="425.00" cy="332.98" r="1.8" fill="#e2a12c"/>
<circle cx="427.30" cy="333.80" r="1.8" fill="#e2a12c"/>
<circle cx="430.10" cy="330.25" r="1.8" fill="#e2a12c"/>
<circle cx="433.10" cy="331.96" r="1.8" fill="#e2a12c"/>
<circle cx="436.60" cy="330.48" r="1.8" fill="#e2a12c"/>
<circle cx="438.90" cy="334.09" r="1.8" fill="#e2a12c"/>
<circle cx="462.40" cy="331.23" r="1.8" fill="#e2a12c"/>
<circle cx="494.30" cy="332.06" r="1.8" fill="#e2a12c"/>
<circle cx="400.80" cy="324.00" r="1.6" fill="#4a2a78"/>
<circle cx="403.10" cy="323.53" r="1.6" fill="#4a2a78"/>
<circle cx="406.10" cy="323.92" r="1.6" fill="#4a2a78"/>
<circle cx="415.80" cy="322.25" r="1.6" fill="#4a2a78"/>
<circle cx="418.10" cy="322.36" r="1.6" fill="#4a2a78"/>
<circle cx="420.40" cy="323.13" r="1.6" fill="#4a2a78"/>
<circle cx="422.70" cy="322.33" r="1.6" fill="#4a2a78"/>
<circle cx="425.00" cy="321.73" r="1.6" fill="#4a2a78"/>
<circle cx="427.30" cy="322.09" r="1.6" fill="#4a2a78"/>
<circle cx="429.60" cy="321.27" r="1.6" fill="#4a2a78"/>
<circle cx="433.10" cy="322.01" r="1.6" fill="#4a2a78"/>
<circle cx="446.30" cy="323.96" r="1.6" fill="#4a2a78"/>
<circle cx="450.40" cy="323.87" r="1.6" fill="#4a2a78"/>
<circle cx="454.60" cy="322.81" r="1.6" fill="#4a2a78"/>
<circle cx="456.20" cy="322.40" r="1.6" fill="#4a2a78"/>
<circle cx="463.60" cy="321.88" r="1.6" fill="#4a2a78"/>
<circle cx="476.30" cy="321.09" r="1.6" fill="#4a2a78"/>
<circle cx="485.50" cy="321.67" r="1.6" fill="#4a2a78"/>
<circle cx="489.70" cy="323.30" r="1.6" fill="#4a2a78"/>
<text x="494.30" y="228.30" font-size="7" fill="#222" textLength="12.50" lengthAdjust="spacingAndGlyphs" >****</text>
<text x="426.20" y="355.90" font-size="9.2" fill="#222" textLength="19.20" lengthAdjust="spacingAndGlyphs" stroke="#222" stroke-width="0.22" >ΔMFI</text>
<line x1="357.70" y1="366.70" x2="369.20" y2="366.70" stroke="#d4261e" stroke-width="1.2" />
<text x="372.70" y="369.20" font-size="7.5" fill="#222" textLength="62.00" lengthAdjust="spacingAndGlyphs" >Max. recorded signal</text>
<line x1="357.70" y1="374.80" x2="369.20" y2="374.80" stroke="#2a3c94" stroke-width="1.2" />
<text x="372.70" y="377.10" font-size="7.5" fill="#222" textLength="61.00" lengthAdjust="spacingAndGlyphs" >Min. recorded signal</text>
<line x1="357.70" y1="382.90" x2="369.20" y2="382.90" stroke="#c8c8c8" stroke-width="1.2" />
<text x="372.70" y="385.10" font-size="7.5" fill="#222" textLength="40.00" lengthAdjust="spacingAndGlyphs" >Secondary Ab</text>
<circle cx="442.00" cy="366.50" r="2.6" fill="#4a2a78"/>
<text x="448.00" y="368.90" font-size="7.5" fill="#222" textLength="47.00" lengthAdjust="spacingAndGlyphs" >BCP-ALL (n=20)</text>
<circle cx="442.00" cy="374.50" r="2.6" fill="#e2a12c"/>
<text x="448.00" y="376.90" font-size="7.5" fill="#222" textLength="41.00" lengthAdjust="spacingAndGlyphs" >T-ALL (n=16)</text>
<text x="339.40" y="403.70" font-size="8.5" font-weight="bold" fill="#222" >ii.</text>
<text x="374.60" y="400.80" font-size="7" fill="#222" textLength="54.00" lengthAdjust="spacingAndGlyphs" >Spearman ρ=-0.43</text>
<text x="374.60" y="408.60" font-size="7" fill="#222" textLength="21.00" lengthAdjust="spacingAndGlyphs" >p &lt; 0.01</text>
<line x1="370.50" y1="411.50" x2="370.50" y2="470.95" stroke="#000" stroke-width="1.6" />
<line x1="369.00" y1="470.35" x2="370.50" y2="470.35" stroke="#000" stroke-width="0.8" />
<line x1="369.00" y1="468.93" x2="370.50" y2="468.93" stroke="#000" stroke-width="0.8" />
<line x1="369.00" y1="467.51" x2="370.50" y2="467.51" stroke="#000" stroke-width="0.8" />
<line x1="369.00" y1="466.09" x2="370.50" y2="466.09" stroke="#000" stroke-width="0.8" />
<line x1="369.00" y1="464.67" x2="370.50" y2="464.67" stroke="#000" stroke-width="0.8" />
<line x1="369.00" y1="463.25" x2="370.50" y2="463.25" stroke="#000" stroke-width="0.8" />
<line x1="369.00" y1="461.83" x2="370.50" y2="461.83" stroke="#000" stroke-width="0.8" />
<line x1="369.00" y1="460.41" x2="370.50" y2="460.41" stroke="#000" stroke-width="0.8" />
<line x1="369.00" y1="458.99" x2="370.50" y2="458.99" stroke="#000" stroke-width="0.8" />
<line x1="369.00" y1="457.57" x2="370.50" y2="457.57" stroke="#000" stroke-width="0.8" />
<line x1="369.00" y1="456.15" x2="370.50" y2="456.15" stroke="#000" stroke-width="0.8" />
<line x1="369.00" y1="454.73" x2="370.50" y2="454.73" stroke="#000" stroke-width="0.8" />
<line x1="369.00" y1="453.31" x2="370.50" y2="453.31" stroke="#000" stroke-width="0.8" />
<line x1="369.00" y1="451.89" x2="370.50" y2="451.89" stroke="#000" stroke-width="0.8" />
<line x1="369.00" y1="450.47" x2="370.50" y2="450.47" stroke="#000" stroke-width="0.8" />
<line x1="369.00" y1="449.05" x2="370.50" y2="449.05" stroke="#000" stroke-width="0.8" />
<line x1="369.00" y1="447.63" x2="370.50" y2="447.63" stroke="#000" stroke-width="0.8" />
<line x1="369.00" y1="446.21" x2="370.50" y2="446.21" stroke="#000" stroke-width="0.8" />
<line x1="369.00" y1="444.79" x2="370.50" y2="444.79" stroke="#000" stroke-width="0.8" />
<line x1="369.00" y1="443.37" x2="370.50" y2="443.37" stroke="#000" stroke-width="0.8" />
<line x1="369.00" y1="441.95" x2="370.50" y2="441.95" stroke="#000" stroke-width="0.8" />
<line x1="369.00" y1="440.53" x2="370.50" y2="440.53" stroke="#000" stroke-width="0.8" />
<line x1="369.00" y1="439.11" x2="370.50" y2="439.11" stroke="#000" stroke-width="0.8" />
<line x1="369.00" y1="437.69" x2="370.50" y2="437.69" stroke="#000" stroke-width="0.8" />
<line x1="369.00" y1="436.27" x2="370.50" y2="436.27" stroke="#000" stroke-width="0.8" />
<line x1="369.00" y1="434.85" x2="370.50" y2="434.85" stroke="#000" stroke-width="0.8" />
<line x1="369.00" y1="433.43" x2="370.50" y2="433.43" stroke="#000" stroke-width="0.8" />
<line x1="369.00" y1="432.01" x2="370.50" y2="432.01" stroke="#000" stroke-width="0.8" />
<line x1="369.00" y1="430.59" x2="370.50" y2="430.59" stroke="#000" stroke-width="0.8" />
<line x1="369.00" y1="429.17" x2="370.50" y2="429.17" stroke="#000" stroke-width="0.8" />
<line x1="369.00" y1="427.75" x2="370.50" y2="427.75" stroke="#000" stroke-width="0.8" />
<line x1="369.00" y1="426.33" x2="370.50" y2="426.33" stroke="#000" stroke-width="0.8" />
<line x1="369.00" y1="424.91" x2="370.50" y2="424.91" stroke="#000" stroke-width="0.8" />
<line x1="369.00" y1="423.49" x2="370.50" y2="423.49" stroke="#000" stroke-width="0.8" />
<line x1="369.00" y1="422.07" x2="370.50" y2="422.07" stroke="#000" stroke-width="0.8" />
<line x1="369.00" y1="420.65" x2="370.50" y2="420.65" stroke="#000" stroke-width="0.8" />
<line x1="369.00" y1="419.23" x2="370.50" y2="419.23" stroke="#000" stroke-width="0.8" />
<line x1="369.00" y1="417.81" x2="370.50" y2="417.81" stroke="#000" stroke-width="0.8" />
<line x1="369.00" y1="416.39" x2="370.50" y2="416.39" stroke="#000" stroke-width="0.8" />
<line x1="369.00" y1="414.97" x2="370.50" y2="414.97" stroke="#000" stroke-width="0.8" />
<line x1="369.00" y1="413.55" x2="370.50" y2="413.55" stroke="#000" stroke-width="0.8" />
<line x1="369.00" y1="412.13" x2="370.50" y2="412.13" stroke="#000" stroke-width="0.8" />
<line x1="367.50" y1="413.10" x2="370.50" y2="413.10" stroke="#000" stroke-width="1" />
<text x="365.90" y="415.30" font-size="6.1" text-anchor="end" fill="#444" >4</text>
<line x1="367.50" y1="424.55" x2="370.50" y2="424.55" stroke="#000" stroke-width="1" />
<text x="365.90" y="426.75" font-size="6.1" text-anchor="end" fill="#444" >3</text>
<line x1="367.50" y1="436.00" x2="370.50" y2="436.00" stroke="#000" stroke-width="1" />
<text x="365.90" y="438.20" font-size="6.1" text-anchor="end" fill="#444" >2</text>
<line x1="367.50" y1="447.45" x2="370.50" y2="447.45" stroke="#000" stroke-width="1" />
<text x="365.90" y="449.65" font-size="6.1" text-anchor="end" fill="#444" >1</text>
<line x1="367.50" y1="458.90" x2="370.50" y2="458.90" stroke="#000" stroke-width="1" />
<text x="365.90" y="461.10" font-size="6.1" text-anchor="end" fill="#444" >0</text>
<line x1="367.50" y1="470.35" x2="370.50" y2="470.35" stroke="#000" stroke-width="1" />
<text x="365.90" y="472.55" font-size="6.1" text-anchor="end" fill="#444" >-1</text>
<line x1="369.70" y1="470.35" x2="430.20" y2="470.35" stroke="#000" stroke-width="1.4" />
<line x1="370.50" y1="470.35" x2="370.50" y2="472.85" stroke="#000" stroke-width="1" />
<text x="370.50" y="482.30" font-size="6.0" text-anchor="middle" fill="#444" textLength="8.60" lengthAdjust="spacingAndGlyphs" >0.0</text>
<line x1="381.86" y1="470.35" x2="381.86" y2="472.85" stroke="#000" stroke-width="1" />
<text x="381.86" y="482.30" font-size="6.0" text-anchor="middle" fill="#444" textLength="8.60" lengthAdjust="spacingAndGlyphs" >0.2</text>
<line x1="393.22" y1="470.35" x2="393.22" y2="472.85" stroke="#000" stroke-width="1" />
<text x="393.22" y="482.30" font-size="6.0" text-anchor="middle" fill="#444" textLength="8.60" lengthAdjust="spacingAndGlyphs" >0.4</text>
<line x1="404.58" y1="470.35" x2="404.58" y2="472.85" stroke="#000" stroke-width="1" />
<text x="404.58" y="482.30" font-size="6.0" text-anchor="middle" fill="#444" textLength="8.60" lengthAdjust="spacingAndGlyphs" >0.6</text>
<line x1="415.94" y1="470.35" x2="415.94" y2="472.85" stroke="#000" stroke-width="1" />
<text x="415.94" y="482.30" font-size="6.0" text-anchor="middle" fill="#444" textLength="8.60" lengthAdjust="spacingAndGlyphs" >0.8</text>
<line x1="427.30" y1="470.35" x2="427.30" y2="472.85" stroke="#000" stroke-width="1" />
<text x="427.30" y="482.30" font-size="6.0" text-anchor="middle" fill="#444" textLength="8.60" lengthAdjust="spacingAndGlyphs" >1.0</text>
<text x="369.00" y="494.10" font-size="9.0" fill="#222" textLength="63.50" lengthAdjust="spacingAndGlyphs" stroke="#222" stroke-width="0.22" >BCL2/BCL-XL ratio</text>
<line x1="450.40" y1="411.50" x2="450.40" y2="470.95" stroke="#000" stroke-width="1.6" />
<line x1="448.90" y1="470.35" x2="450.40" y2="470.35" stroke="#000" stroke-width="0.8" />
<line x1="448.90" y1="468.93" x2="450.40" y2="468.93" stroke="#000" stroke-width="0.8" />
<line x1="448.90" y1="467.51" x2="450.40" y2="467.51" stroke="#000" stroke-width="0.8" />
<line x1="448.90" y1="466.09" x2="450.40" y2="466.09" stroke="#000" stroke-width="0.8" />
<line x1="448.90" y1="464.67" x2="450.40" y2="464.67" stroke="#000" stroke-width="0.8" />
<line x1="448.90" y1="463.25" x2="450.40" y2="463.25" stroke="#000" stroke-width="0.8" />
<line x1="448.90" y1="461.83" x2="450.40" y2="461.83" stroke="#000" stroke-width="0.8" />
<line x1="448.90" y1="460.41" x2="450.40" y2="460.41" stroke="#000" stroke-width="0.8" />
<line x1="448.90" y1="458.99" x2="450.40" y2="458.99" stroke="#000" stroke-width="0.8" />
<line x1="448.90" y1="457.57" x2="450.40" y2="457.57" stroke="#000" stroke-width="0.8" />
<line x1="448.90" y1="456.15" x2="450.40" y2="456.15" stroke="#000" stroke-width="0.8" />
<line x1="448.90" y1="454.73" x2="450.40" y2="454.73" stroke="#000" stroke-width="0.8" />
<line x1="448.90" y1="453.31" x2="450.40" y2="453.31" stroke="#000" stroke-width="0.8" />
<line x1="448.90" y1="451.89" x2="450.40" y2="451.89" stroke="#000" stroke-width="0.8" />
<line x1="448.90" y1="450.47" x2="450.40" y2="450.47" stroke="#000" stroke-width="0.8" />
<line x1="448.90" y1="449.05" x2="450.40" y2="449.05" stroke="#000" stroke-width="0.8" />
<line x1="448.90" y1="447.63" x2="450.40" y2="447.63" stroke="#000" stroke-width="0.8" />
<line x1="448.90" y1="446.21" x2="450.40" y2="446.21" stroke="#000" stroke-width="0.8" />
<line x1="448.90" y1="444.79" x2="450.40" y2="444.79" stroke="#000" stroke-width="0.8" />
<line x1="448.90" y1="443.37" x2="450.40" y2="443.37" stroke="#000" stroke-width="0.8" />
<line x1="448.90" y1="441.95" x2="450.40" y2="441.95" stroke="#000" stroke-width="0.8" />
<line x1="448.90" y1="440.53" x2="450.40" y2="440.53" stroke="#000" stroke-width="0.8" />
<line x1="448.90" y1="439.11" x2="450.40" y2="439.11" stroke="#000" stroke-width="0.8" />
<line x1="448.90" y1="437.69" x2="450.40" y2="437.69" stroke="#000" stroke-width="0.8" />
<line x1="448.90" y1="436.27" x2="450.40" y2="436.27" stroke="#000" stroke-width="0.8" />
<line x1="448.90" y1="434.85" x2="450.40" y2="434.85" stroke="#000" stroke-width="0.8" />
<line x1="448.90" y1="433.43" x2="450.40" y2="433.43" stroke="#000" stroke-width="0.8" />
<line x1="448.90" y1="432.01" x2="450.40" y2="432.01" stroke="#000" stroke-width="0.8" />
<line x1="448.90" y1="430.59" x2="450.40" y2="430.59" stroke="#000" stroke-width="0.8" />
<line x1="448.90" y1="429.17" x2="450.40" y2="429.17" stroke="#000" stroke-width="0.8" />
<line x1="448.90" y1="427.75" x2="450.40" y2="427.75" stroke="#000" stroke-width="0.8" />
<line x1="448.90" y1="426.33" x2="450.40" y2="426.33" stroke="#000" stroke-width="0.8" />
<line x1="448.90" y1="424.91" x2="450.40" y2="424.91" stroke="#000" stroke-width="0.8" />
<line x1="448.90" y1="423.49" x2="450.40" y2="423.49" stroke="#000" stroke-width="0.8" />
<line x1="448.90" y1="422.07" x2="450.40" y2="422.07" stroke="#000" stroke-width="0.8" />
<line x1="448.90" y1="420.65" x2="450.40" y2="420.65" stroke="#000" stroke-width="0.8" />
<line x1="448.90" y1="419.23" x2="450.40" y2="419.23" stroke="#000" stroke-width="0.8" />
<line x1="448.90" y1="417.81" x2="450.40" y2="417.81" stroke="#000" stroke-width="0.8" />
<line x1="448.90" y1="416.39" x2="450.40" y2="416.39" stroke="#000" stroke-width="0.8" />
<line x1="448.90" y1="414.97" x2="450.40" y2="414.97" stroke="#000" stroke-width="0.8" />
<line x1="448.90" y1="413.55" x2="450.40" y2="413.55" stroke="#000" stroke-width="0.8" />
<line x1="448.90" y1="412.13" x2="450.40" y2="412.13" stroke="#000" stroke-width="0.8" />
<line x1="447.40" y1="413.10" x2="450.40" y2="413.10" stroke="#000" stroke-width="1" />
<text x="445.80" y="415.30" font-size="6.1" text-anchor="end" fill="#444" >4</text>
<line x1="447.40" y1="424.55" x2="450.40" y2="424.55" stroke="#000" stroke-width="1" />
<text x="445.80" y="426.75" font-size="6.1" text-anchor="end" fill="#444" >3</text>
<line x1="447.40" y1="436.00" x2="450.40" y2="436.00" stroke="#000" stroke-width="1" />
<text x="445.80" y="438.20" font-size="6.1" text-anchor="end" fill="#444" >2</text>
<line x1="447.40" y1="447.45" x2="450.40" y2="447.45" stroke="#000" stroke-width="1" />
<text x="445.80" y="449.65" font-size="6.1" text-anchor="end" fill="#444" >1</text>
<line x1="447.40" y1="458.90" x2="450.40" y2="458.90" stroke="#000" stroke-width="1" />
<text x="445.80" y="461.10" font-size="6.1" text-anchor="end" fill="#444" >0</text>
<line x1="447.40" y1="470.35" x2="450.40" y2="470.35" stroke="#000" stroke-width="1" />
<text x="445.80" y="472.55" font-size="6.1" text-anchor="end" fill="#444" >-1</text>
<line x1="449.60" y1="470.35" x2="512.00" y2="470.35" stroke="#000" stroke-width="1.4" />
<line x1="450.40" y1="470.35" x2="450.40" y2="472.85" stroke="#000" stroke-width="1" />
<text x="450.40" y="482.30" font-size="6.0" text-anchor="middle" fill="#444" textLength="8.60" lengthAdjust="spacingAndGlyphs" >0.0</text>
<line x1="465.05" y1="470.35" x2="465.05" y2="472.85" stroke="#000" stroke-width="1" />
<text x="465.05" y="482.30" font-size="6.0" text-anchor="middle" fill="#444" textLength="8.60" lengthAdjust="spacingAndGlyphs" >0.1</text>
<line x1="479.70" y1="470.35" x2="479.70" y2="472.85" stroke="#000" stroke-width="1" />
<text x="479.70" y="482.30" font-size="6.0" text-anchor="middle" fill="#444" textLength="8.60" lengthAdjust="spacingAndGlyphs" >0.2</text>
<line x1="494.35" y1="470.35" x2="494.35" y2="472.85" stroke="#000" stroke-width="1" />
<text x="494.35" y="482.30" font-size="6.0" text-anchor="middle" fill="#444" textLength="8.60" lengthAdjust="spacingAndGlyphs" >0.3</text>
<line x1="509.00" y1="470.35" x2="509.00" y2="472.85" stroke="#000" stroke-width="1" />
<text x="509.00" y="482.30" font-size="6.0" text-anchor="middle" fill="#444" textLength="8.60" lengthAdjust="spacingAndGlyphs" >0.4</text>
<text x="450.80" y="494.10" font-size="9.0" fill="#222" textLength="59.60" lengthAdjust="spacingAndGlyphs" stroke="#222" stroke-width="0.22" >BCL2/MCL 1 ratio</text>
<text x="346.20" y="442.00" font-size="9.6" text-anchor="middle" fill="#222" textLength="37.50" lengthAdjust="spacingAndGlyphs" stroke="#222" stroke-width="0.22" transform="rotate(-90 346.20 442.00)" >Venetoclax</text>
<text x="355.30" y="441.00" font-size="9.6" text-anchor="middle" fill="#222" textLength="47.00" lengthAdjust="spacingAndGlyphs" stroke="#222" stroke-width="0.22" transform="rotate(-90 355.30 441.00)" >log IC50 (nm)</text>
<circle cx="372.50" cy="419.40" r="1.75" fill="#9c1730"/>
<circle cx="374.60" cy="421.30" r="1.75" fill="#9c1730"/>
<circle cx="376.00" cy="420.00" r="1.75" fill="#9c1730"/>
<circle cx="377.90" cy="418.80" r="1.75" fill="#9c1730"/>
<circle cx="389.00" cy="420.00" r="1.75" fill="#9c1730"/>
<circle cx="388.50" cy="424.20" r="1.75" fill="#9c1730"/>
<circle cx="407.10" cy="425.20" r="1.75" fill="#9c1730"/>
<circle cx="408.70" cy="425.20" r="1.75" fill="#9c1730"/>
<circle cx="376.50" cy="425.20" r="1.75" fill="#9c1730"/>
<circle cx="372.10" cy="429.00" r="1.75" fill="#9c1730"/>
<circle cx="376.50" cy="429.00" r="1.75" fill="#9c1730"/>
<circle cx="379.80" cy="427.10" r="1.75" fill="#9c1730"/>
<circle cx="374.00" cy="434.80" r="1.75" fill="#9c1730"/>
<circle cx="377.90" cy="434.80" r="1.75" fill="#9c1730"/>
<circle cx="382.70" cy="436.30" r="1.75" fill="#9c1730"/>
<circle cx="381.70" cy="438.70" r="1.75" fill="#9c1730"/>
<circle cx="380.40" cy="440.00" r="1.75" fill="#9c1730"/>
<circle cx="383.70" cy="441.50" r="1.75" fill="#9c1730"/>
<circle cx="376.50" cy="441.50" r="1.75" fill="#9c1730"/>
<circle cx="373.50" cy="444.40" r="1.75" fill="#9c1730"/>
<circle cx="375.40" cy="448.30" r="1.75" fill="#9c1730"/>
<circle cx="376.90" cy="447.70" r="1.75" fill="#9c1730"/>
<circle cx="375.60" cy="449.60" r="1.75" fill="#9c1730"/>
<circle cx="385.00" cy="451.20" r="1.75" fill="#9c1730"/>
<circle cx="392.70" cy="449.60" r="1.75" fill="#9c1730"/>
<circle cx="395.20" cy="451.20" r="1.75" fill="#9c1730"/>
<circle cx="395.60" cy="456.00" r="1.75" fill="#9c1730"/>
<circle cx="378.80" cy="459.20" r="1.75" fill="#9c1730"/>
<circle cx="408.10" cy="459.20" r="1.75" fill="#9c1730"/>
<circle cx="381.70" cy="465.00" r="1.75" fill="#9c1730"/>
<circle cx="383.70" cy="463.10" r="1.75" fill="#9c1730"/>
<circle cx="385.60" cy="462.70" r="1.75" fill="#9c1730"/>
<circle cx="392.30" cy="463.70" r="1.75" fill="#9c1730"/>
<circle cx="380.50" cy="420.00" r="1.75" fill="#9c1730"/>
<circle cx="373.50" cy="423.00" r="1.75" fill="#9c1730"/>
<circle cx="453.10" cy="420.00" r="1.75" fill="#9c1730"/>
<circle cx="454.60" cy="417.70" r="1.75" fill="#9c1730"/>
<circle cx="457.10" cy="417.10" r="1.75" fill="#9c1730"/>
<circle cx="458.50" cy="418.70" r="1.75" fill="#9c1730"/>
<circle cx="461.00" cy="418.50" r="1.75" fill="#9c1730"/>
<circle cx="464.20" cy="418.70" r="1.75" fill="#9c1730"/>
<circle cx="468.10" cy="417.10" r="1.75" fill="#9c1730"/>
<circle cx="472.90" cy="418.50" r="1.75" fill="#9c1730"/>
<circle cx="460.00" cy="424.20" r="1.75" fill="#9c1730"/>
<circle cx="470.60" cy="425.80" r="1.75" fill="#9c1730"/>
<circle cx="474.40" cy="423.50" r="1.75" fill="#9c1730"/>
<circle cx="475.20" cy="424.20" r="1.75" fill="#9c1730"/>
<circle cx="454.00" cy="428.10" r="1.75" fill="#9c1730"/>
<circle cx="463.70" cy="428.10" r="1.75" fill="#9c1730"/>
<circle cx="458.50" cy="433.50" r="1.75" fill="#9c1730"/>
<circle cx="460.00" cy="434.00" r="1.75" fill="#9c1730"/>
<circle cx="464.60" cy="436.70" r="1.75" fill="#9c1730"/>
<circle cx="455.20" cy="443.50" r="1.75" fill="#9c1730"/>
<circle cx="458.50" cy="440.60" r="1.75" fill="#9c1730"/>
<circle cx="461.00" cy="439.60" r="1.75" fill="#9c1730"/>
<circle cx="461.90" cy="441.50" r="1.75" fill="#9c1730"/>
<circle cx="456.50" cy="446.90" r="1.75" fill="#9c1730"/>
<circle cx="459.40" cy="449.20" r="1.75" fill="#9c1730"/>
<circle cx="462.30" cy="450.80" r="1.75" fill="#9c1730"/>
<circle cx="463.80" cy="451.20" r="1.75" fill="#9c1730"/>
<circle cx="470.00" cy="446.90" r="1.75" fill="#9c1730"/>
<circle cx="477.10" cy="448.80" r="1.75" fill="#9c1730"/>
<circle cx="469.40" cy="455.60" r="1.75" fill="#9c1730"/>
<circle cx="459.40" cy="459.00" r="1.75" fill="#9c1730"/>
<circle cx="480.60" cy="458.80" r="1.75" fill="#9c1730"/>
<circle cx="459.40" cy="462.70" r="1.75" fill="#9c1730"/>
<circle cx="467.70" cy="462.70" r="1.75" fill="#9c1730"/>
<circle cx="463.80" cy="464.60" r="1.75" fill="#9c1730"/>
<circle cx="473.50" cy="463.30" r="1.75" fill="#9c1730"/>
<circle cx="492.10" cy="435.80" r="1.75" fill="#9c1730"/>
<rect x="0.75" y="0.75" width="518.50" height="567.50" fill="none" stroke="#000" stroke-width="1.6" />
</svg></body></html>
